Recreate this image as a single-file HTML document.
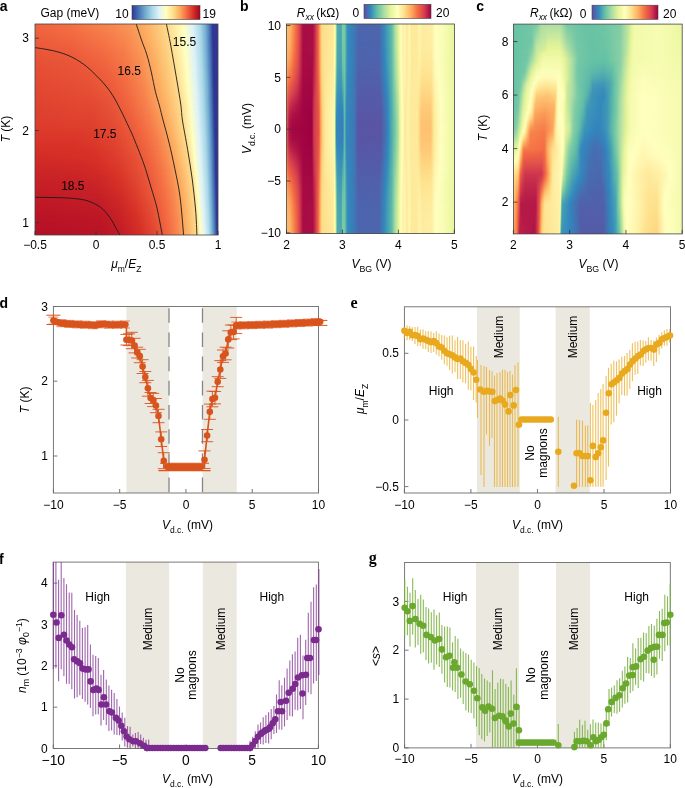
<!DOCTYPE html>
<html><head><meta charset="utf-8"><style>
html,body{margin:0;padding:0;background:#fff;}
body{width:685px;height:788px;overflow:hidden;font-family:"Liberation Sans",sans-serif;}
svg{display:block;will-change:transform;}
</style></head><body>
<svg width="685" height="788" viewBox="0 0 685 788" font-family="Liberation Sans, sans-serif"><defs><linearGradient id="vg" x1="0" y1="0" x2="0" y2="1"><stop offset="0" stop-color="#fff" stop-opacity="0"/><stop offset="1" stop-color="#fff" stop-opacity="1"/></linearGradient><mask id="mv" maskContentUnits="objectBoundingBox" mask-type="alpha"><rect width="1" height="1" fill="url(#vg)"/></mask>
<linearGradient id="a0"><stop offset="0" stop-color="#f0643f"/><stop offset="0.183" stop-color="#f47044"/><stop offset="0.437" stop-color="#f88a51"/><stop offset="0.511" stop-color="#fa9556"/><stop offset="0.566" stop-color="#fca45c"/><stop offset="0.612" stop-color="#fdb467"/><stop offset="0.716" stop-color="#feda8a"/><stop offset="0.809" stop-color="#ffffbf"/><stop offset="0.858" stop-color="#e0f3f8"/><stop offset="0.902" stop-color="#abd9e9"/><stop offset="0.932" stop-color="#74add1"/><stop offset="0.954" stop-color="#4575b4"/><stop offset="0.97" stop-color="#313695"/><stop offset="1" stop-color="#313695"/></linearGradient>
<linearGradient id="a1"><stop offset="0" stop-color="#ee613e"/><stop offset="0.199" stop-color="#f46d43"/><stop offset="0.432" stop-color="#f7854e"/><stop offset="0.511" stop-color="#f99154"/><stop offset="0.574" stop-color="#fba35c"/><stop offset="0.62" stop-color="#fdb366"/><stop offset="0.724" stop-color="#feda8b"/><stop offset="0.811" stop-color="#ffffbf"/><stop offset="0.861" stop-color="#dff3f8"/><stop offset="0.902" stop-color="#addaea"/><stop offset="0.932" stop-color="#76afd2"/><stop offset="0.954" stop-color="#4777b5"/><stop offset="0.97" stop-color="#323996"/><stop offset="1" stop-color="#313695"/></linearGradient>
<linearGradient id="a2"><stop offset="0" stop-color="#ed5e3c"/><stop offset="0.197" stop-color="#f26841"/><stop offset="0.413" stop-color="#f67d4b"/><stop offset="0.5" stop-color="#f88b51"/><stop offset="0.574" stop-color="#fb9f5a"/><stop offset="0.62" stop-color="#fdb063"/><stop offset="0.73" stop-color="#feda8a"/><stop offset="0.814" stop-color="#ffffbf"/><stop offset="0.863" stop-color="#def2f7"/><stop offset="0.904" stop-color="#abd9e9"/><stop offset="0.932" stop-color="#78b0d3"/><stop offset="0.954" stop-color="#4979b6"/><stop offset="0.97" stop-color="#333b98"/><stop offset="0.973" stop-color="#313695"/><stop offset="1" stop-color="#313695"/></linearGradient>
<linearGradient id="a3"><stop offset="0" stop-color="#ec5b3b"/><stop offset="0.189" stop-color="#ef633e"/><stop offset="0.383" stop-color="#f57547"/><stop offset="0.492" stop-color="#f7854e"/><stop offset="0.577" stop-color="#fb9c59"/><stop offset="0.623" stop-color="#fdae61"/><stop offset="0.738" stop-color="#feda8b"/><stop offset="0.817" stop-color="#ffffbf"/><stop offset="0.863" stop-color="#e0f3f7"/><stop offset="0.866" stop-color="#ddf2f7"/><stop offset="0.907" stop-color="#a9d7e8"/><stop offset="0.934" stop-color="#75aed1"/><stop offset="0.956" stop-color="#4574b4"/><stop offset="0.973" stop-color="#313695"/><stop offset="1" stop-color="#313695"/></linearGradient>
<linearGradient id="a4"><stop offset="0" stop-color="#ea583a"/><stop offset="0.183" stop-color="#ed5e3c"/><stop offset="0.361" stop-color="#f46d43"/><stop offset="0.486" stop-color="#f77f4c"/><stop offset="0.582" stop-color="#fa9a58"/><stop offset="0.634" stop-color="#fdae61"/><stop offset="0.743" stop-color="#feda8a"/><stop offset="0.82" stop-color="#ffffbf"/><stop offset="0.866" stop-color="#e0f3f8"/><stop offset="0.907" stop-color="#acd9e9"/><stop offset="0.934" stop-color="#77afd2"/><stop offset="0.956" stop-color="#4777b5"/><stop offset="0.973" stop-color="#313695"/><stop offset="1" stop-color="#313695"/></linearGradient>
<linearGradient id="a5"><stop offset="0" stop-color="#e95538"/><stop offset="0.197" stop-color="#eb5b3b"/><stop offset="0.374" stop-color="#f36a42"/><stop offset="0.492" stop-color="#f67c4a"/><stop offset="0.587" stop-color="#fa9756"/><stop offset="0.642" stop-color="#fdae61"/><stop offset="0.749" stop-color="#feda8a"/><stop offset="0.822" stop-color="#ffffbf"/><stop offset="0.869" stop-color="#dff2f8"/><stop offset="0.91" stop-color="#a9d8e8"/><stop offset="0.937" stop-color="#74add1"/><stop offset="0.956" stop-color="#4879b6"/><stop offset="0.973" stop-color="#323997"/><stop offset="0.975" stop-color="#313695"/><stop offset="1" stop-color="#313695"/></linearGradient>
<linearGradient id="a6"><stop offset="0" stop-color="#e75237"/><stop offset="0.197" stop-color="#e95739"/><stop offset="0.363" stop-color="#f0653f"/><stop offset="0.484" stop-color="#f57747"/><stop offset="0.585" stop-color="#f99254"/><stop offset="0.65" stop-color="#fdae61"/><stop offset="0.754" stop-color="#feda8a"/><stop offset="0.825" stop-color="#ffffbf"/><stop offset="0.872" stop-color="#def2f7"/><stop offset="0.91" stop-color="#acd9e9"/><stop offset="0.937" stop-color="#76afd2"/><stop offset="0.959" stop-color="#4574b3"/><stop offset="0.973" stop-color="#333c98"/><stop offset="0.975" stop-color="#313695"/><stop offset="1" stop-color="#313695"/></linearGradient>
<linearGradient id="a7"><stop offset="0" stop-color="#e65036"/><stop offset="0.202" stop-color="#e85438"/><stop offset="0.361" stop-color="#ee613d"/><stop offset="0.481" stop-color="#f57245"/><stop offset="0.585" stop-color="#f98f53"/><stop offset="0.658" stop-color="#fdae61"/><stop offset="0.76" stop-color="#feda8a"/><stop offset="0.828" stop-color="#ffffbf"/><stop offset="0.872" stop-color="#e0f3f7"/><stop offset="0.874" stop-color="#ddf2f7"/><stop offset="0.913" stop-color="#aad8e8"/><stop offset="0.937" stop-color="#78b0d3"/><stop offset="0.959" stop-color="#4676b5"/><stop offset="0.975" stop-color="#313695"/><stop offset="1" stop-color="#313695"/></linearGradient>
<linearGradient id="a8"><stop offset="0" stop-color="#e54d34"/><stop offset="0.27" stop-color="#e95538"/><stop offset="0.396" stop-color="#ee613e"/><stop offset="0.486" stop-color="#f47044"/><stop offset="0.579" stop-color="#f88950"/><stop offset="0.667" stop-color="#fdaf62"/><stop offset="0.768" stop-color="#fedb8b"/><stop offset="0.831" stop-color="#ffffbf"/><stop offset="0.874" stop-color="#e0f3f8"/><stop offset="0.913" stop-color="#acdae9"/><stop offset="0.94" stop-color="#75aed1"/><stop offset="0.959" stop-color="#4879b6"/><stop offset="0.975" stop-color="#313795"/><stop offset="1" stop-color="#313695"/></linearGradient>
<linearGradient id="a9"><stop offset="0" stop-color="#e44b33"/><stop offset="0.279" stop-color="#e85337"/><stop offset="0.402" stop-color="#ed5f3c"/><stop offset="0.492" stop-color="#f46d43"/><stop offset="0.585" stop-color="#f8884f"/><stop offset="0.672" stop-color="#fdae61"/><stop offset="0.773" stop-color="#fedb8b"/><stop offset="0.833" stop-color="#ffffbf"/><stop offset="0.877" stop-color="#dff2f8"/><stop offset="0.915" stop-color="#aad8e9"/><stop offset="0.943" stop-color="#71aacf"/><stop offset="0.962" stop-color="#4473b3"/><stop offset="0.975" stop-color="#323997"/><stop offset="0.978" stop-color="#313695"/><stop offset="1" stop-color="#313695"/></linearGradient>
<linearGradient id="a10"><stop offset="0" stop-color="#e34932"/><stop offset="0.292" stop-color="#e75136"/><stop offset="0.407" stop-color="#ec5c3b"/><stop offset="0.5" stop-color="#f36c43"/><stop offset="0.593" stop-color="#f8884f"/><stop offset="0.68" stop-color="#fdaf62"/><stop offset="0.779" stop-color="#fedb8b"/><stop offset="0.836" stop-color="#ffffbe"/><stop offset="0.877" stop-color="#e1f3f7"/><stop offset="0.88" stop-color="#def2f7"/><stop offset="0.918" stop-color="#a8d6e8"/><stop offset="0.943" stop-color="#74add1"/><stop offset="0.962" stop-color="#4676b5"/><stop offset="0.964" stop-color="#426baf"/><stop offset="0.975" stop-color="#333c98"/><stop offset="0.978" stop-color="#313695"/><stop offset="1" stop-color="#313695"/></linearGradient>
<linearGradient id="a11"><stop offset="0" stop-color="#e24731"/><stop offset="0.298" stop-color="#e64f35"/><stop offset="0.413" stop-color="#eb5a3a"/><stop offset="0.5" stop-color="#f26941"/><stop offset="0.593" stop-color="#f7844e"/><stop offset="0.686" stop-color="#fdae61"/><stop offset="0.784" stop-color="#fedb8b"/><stop offset="0.839" stop-color="#ffffbe"/><stop offset="0.88" stop-color="#e0f3f7"/><stop offset="0.883" stop-color="#ddf1f7"/><stop offset="0.918" stop-color="#abd9e9"/><stop offset="0.943" stop-color="#76afd2"/><stop offset="0.962" stop-color="#4878b6"/><stop offset="0.978" stop-color="#313695"/><stop offset="1" stop-color="#313695"/></linearGradient>
<linearGradient id="a12"><stop offset="0" stop-color="#e14531"/><stop offset="0.306" stop-color="#e54d34"/><stop offset="0.415" stop-color="#ea5739"/><stop offset="0.503" stop-color="#f16640"/><stop offset="0.598" stop-color="#f7834d"/><stop offset="0.694" stop-color="#fdae61"/><stop offset="0.79" stop-color="#fedb8b"/><stop offset="0.842" stop-color="#fffebe"/><stop offset="0.883" stop-color="#e0f3f8"/><stop offset="0.918" stop-color="#addaea"/><stop offset="0.943" stop-color="#79b1d3"/><stop offset="0.964" stop-color="#4472b3"/><stop offset="0.978" stop-color="#313795"/><stop offset="1" stop-color="#313695"/></linearGradient>
<linearGradient id="a13"><stop offset="0" stop-color="#e04330"/><stop offset="0.311" stop-color="#e44a33"/><stop offset="0.415" stop-color="#e85438"/><stop offset="0.508" stop-color="#f0653f"/><stop offset="0.607" stop-color="#f7824d"/><stop offset="0.702" stop-color="#fdae61"/><stop offset="0.795" stop-color="#fedb8c"/><stop offset="0.847" stop-color="#fefec2"/><stop offset="0.885" stop-color="#def2f8"/><stop offset="0.921" stop-color="#abd9e9"/><stop offset="0.945" stop-color="#75aed1"/><stop offset="0.964" stop-color="#4576b4"/><stop offset="0.978" stop-color="#323a97"/><stop offset="0.981" stop-color="#313695"/><stop offset="1" stop-color="#313695"/></linearGradient>
<linearGradient id="a14"><stop offset="0" stop-color="#df412f"/><stop offset="0.314" stop-color="#e24832"/><stop offset="0.418" stop-color="#e75237"/><stop offset="0.514" stop-color="#ef633e"/><stop offset="0.617" stop-color="#f7824d"/><stop offset="0.71" stop-color="#fdaf62"/><stop offset="0.798" stop-color="#feda8a"/><stop offset="0.85" stop-color="#fefec2"/><stop offset="0.885" stop-color="#e1f3f7"/><stop offset="0.888" stop-color="#ddf2f7"/><stop offset="0.923" stop-color="#a8d7e8"/><stop offset="0.948" stop-color="#71a9cf"/><stop offset="0.967" stop-color="#436db0"/><stop offset="0.978" stop-color="#333d98"/><stop offset="0.981" stop-color="#313695"/><stop offset="1" stop-color="#313695"/></linearGradient>
<linearGradient id="a15"><stop offset="0" stop-color="#de402e"/><stop offset="0.317" stop-color="#e14531"/><stop offset="0.423" stop-color="#e65036"/><stop offset="0.522" stop-color="#ee613e"/><stop offset="0.626" stop-color="#f7814c"/><stop offset="0.716" stop-color="#fdae61"/><stop offset="0.801" stop-color="#feda8a"/><stop offset="0.852" stop-color="#fefec2"/><stop offset="0.888" stop-color="#e0f3f8"/><stop offset="0.891" stop-color="#dcf1f7"/><stop offset="0.923" stop-color="#abd9e9"/><stop offset="0.948" stop-color="#74add1"/><stop offset="0.967" stop-color="#4471b2"/><stop offset="0.981" stop-color="#313695"/><stop offset="1" stop-color="#313695"/></linearGradient>
<linearGradient id="a16"><stop offset="0" stop-color="#de3e2d"/><stop offset="0.32" stop-color="#e04330"/><stop offset="0.429" stop-color="#e54e35"/><stop offset="0.53" stop-color="#ee603d"/><stop offset="0.582" stop-color="#f46d43"/><stop offset="0.634" stop-color="#f7804c"/><stop offset="0.68" stop-color="#fa9556"/><stop offset="0.724" stop-color="#fdae61"/><stop offset="0.806" stop-color="#fedb8b"/><stop offset="0.855" stop-color="#fefec2"/><stop offset="0.891" stop-color="#dff3f8"/><stop offset="0.926" stop-color="#a9d7e8"/><stop offset="0.951" stop-color="#70a8ce"/><stop offset="0.967" stop-color="#4575b4"/><stop offset="0.981" stop-color="#313796"/><stop offset="1" stop-color="#313695"/></linearGradient>
<linearGradient id="a17"><stop offset="0" stop-color="#dd3c2c"/><stop offset="0.32" stop-color="#df402e"/><stop offset="0.432" stop-color="#e44b34"/><stop offset="0.536" stop-color="#ed5e3c"/><stop offset="0.593" stop-color="#f46d43"/><stop offset="0.642" stop-color="#f67f4b"/><stop offset="0.689" stop-color="#f99555"/><stop offset="0.732" stop-color="#fdaf61"/><stop offset="0.811" stop-color="#fedb8b"/><stop offset="0.858" stop-color="#fefec2"/><stop offset="0.893" stop-color="#def2f7"/><stop offset="0.929" stop-color="#a6d5e7"/><stop offset="0.951" stop-color="#72abd0"/><stop offset="0.967" stop-color="#4778b5"/><stop offset="0.981" stop-color="#323a97"/><stop offset="0.984" stop-color="#313695"/><stop offset="1" stop-color="#313695"/></linearGradient>
<linearGradient id="a18"><stop offset="0" stop-color="#db392b"/><stop offset="0.213" stop-color="#db392b"/><stop offset="0.325" stop-color="#dd3d2d"/><stop offset="0.44" stop-color="#e34933"/><stop offset="0.546" stop-color="#ec5d3c"/><stop offset="0.607" stop-color="#f46d43"/><stop offset="0.65" stop-color="#f67d4a"/><stop offset="0.697" stop-color="#f99355"/><stop offset="0.74" stop-color="#fdae61"/><stop offset="0.817" stop-color="#feda8a"/><stop offset="0.861" stop-color="#feffc1"/><stop offset="0.893" stop-color="#e1f3f6"/><stop offset="0.896" stop-color="#def2f7"/><stop offset="0.929" stop-color="#aad8e8"/><stop offset="0.954" stop-color="#6ea6ce"/><stop offset="0.97" stop-color="#4471b2"/><stop offset="0.981" stop-color="#343e99"/><stop offset="0.984" stop-color="#313695"/><stop offset="1" stop-color="#313695"/></linearGradient>
<linearGradient id="a19"><stop offset="0" stop-color="#da362a"/><stop offset="0.216" stop-color="#da362a"/><stop offset="0.328" stop-color="#dc3a2c"/><stop offset="0.443" stop-color="#e24631"/><stop offset="0.552" stop-color="#eb5b3b"/><stop offset="0.615" stop-color="#f36c42"/><stop offset="0.658" stop-color="#f67c4a"/><stop offset="0.705" stop-color="#f99254"/><stop offset="0.749" stop-color="#fdae61"/><stop offset="0.822" stop-color="#feda8a"/><stop offset="0.863" stop-color="#feffc1"/><stop offset="0.896" stop-color="#e0f3f7"/><stop offset="0.899" stop-color="#dcf1f7"/><stop offset="0.932" stop-color="#a7d6e7"/><stop offset="0.954" stop-color="#71aacf"/><stop offset="0.97" stop-color="#4575b4"/><stop offset="0.984" stop-color="#313695"/><stop offset="1" stop-color="#313695"/></linearGradient>
<linearGradient id="a20"><stop offset="0" stop-color="#d83228"/><stop offset="0.221" stop-color="#d83328"/><stop offset="0.333" stop-color="#db382a"/><stop offset="0.448" stop-color="#e14430"/><stop offset="0.56" stop-color="#eb5a3a"/><stop offset="0.623" stop-color="#f36b42"/><stop offset="0.667" stop-color="#f67b4a"/><stop offset="0.713" stop-color="#f99254"/><stop offset="0.757" stop-color="#fdae61"/><stop offset="0.828" stop-color="#fed98a"/><stop offset="0.866" stop-color="#feffc1"/><stop offset="0.899" stop-color="#e0f3f8"/><stop offset="0.932" stop-color="#aad8e9"/><stop offset="0.954" stop-color="#74add1"/><stop offset="0.97" stop-color="#4778b5"/><stop offset="0.984" stop-color="#323896"/><stop offset="1" stop-color="#313695"/></linearGradient>
<linearGradient id="a21"><stop offset="0" stop-color="#d62f27"/><stop offset="0.23" stop-color="#d73027"/><stop offset="0.333" stop-color="#d93429"/><stop offset="0.451" stop-color="#df412f"/><stop offset="0.563" stop-color="#ea5739"/><stop offset="0.628" stop-color="#f26941"/><stop offset="0.672" stop-color="#f67a49"/><stop offset="0.719" stop-color="#f99153"/><stop offset="0.762" stop-color="#fdad61"/><stop offset="0.833" stop-color="#fed98a"/><stop offset="0.869" stop-color="#feffc1"/><stop offset="0.902" stop-color="#def2f8"/><stop offset="0.934" stop-color="#a7d6e7"/><stop offset="0.956" stop-color="#70a8ce"/><stop offset="0.973" stop-color="#4370b2"/><stop offset="0.984" stop-color="#333b98"/><stop offset="0.986" stop-color="#313695"/><stop offset="1" stop-color="#313695"/></linearGradient>
<linearGradient id="a22"><stop offset="0" stop-color="#d32c27"/><stop offset="0.333" stop-color="#d73127"/><stop offset="0.451" stop-color="#de3e2d"/><stop offset="0.563" stop-color="#e85438"/><stop offset="0.631" stop-color="#f16740"/><stop offset="0.678" stop-color="#f67848"/><stop offset="0.724" stop-color="#f98f53"/><stop offset="0.77" stop-color="#fdae61"/><stop offset="0.839" stop-color="#fed98a"/><stop offset="0.872" stop-color="#feffc1"/><stop offset="0.902" stop-color="#e1f3f6"/><stop offset="0.904" stop-color="#ddf2f7"/><stop offset="0.934" stop-color="#abd9e9"/><stop offset="0.956" stop-color="#73abd0"/><stop offset="0.973" stop-color="#4574b4"/><stop offset="0.984" stop-color="#343f99"/><stop offset="0.986" stop-color="#313695"/><stop offset="1" stop-color="#313695"/></linearGradient>
<linearGradient id="a23"><stop offset="0" stop-color="#d02927"/><stop offset="0.235" stop-color="#d12a27"/><stop offset="0.361" stop-color="#d73027"/><stop offset="0.462" stop-color="#dd3d2d"/><stop offset="0.563" stop-color="#e75136"/><stop offset="0.634" stop-color="#f0643f"/><stop offset="0.683" stop-color="#f57747"/><stop offset="0.732" stop-color="#f99053"/><stop offset="0.776" stop-color="#fdad61"/><stop offset="0.844" stop-color="#feda8a"/><stop offset="0.874" stop-color="#feffc0"/><stop offset="0.904" stop-color="#e0f3f7"/><stop offset="0.907" stop-color="#dcf1f7"/><stop offset="0.937" stop-color="#a8d6e7"/><stop offset="0.959" stop-color="#6ea6cd"/><stop offset="0.973" stop-color="#4777b5"/><stop offset="0.986" stop-color="#313695"/><stop offset="1" stop-color="#313695"/></linearGradient>
<linearGradient id="a24"><stop offset="0" stop-color="#cd2627"/><stop offset="0.235" stop-color="#ce2827"/><stop offset="0.361" stop-color="#d42d27"/><stop offset="0.459" stop-color="#db392b"/><stop offset="0.566" stop-color="#e64f35"/><stop offset="0.637" stop-color="#ef623e"/><stop offset="0.689" stop-color="#f57547"/><stop offset="0.738" stop-color="#f98e52"/><stop offset="0.784" stop-color="#fdae61"/><stop offset="0.85" stop-color="#feda8a"/><stop offset="0.877" stop-color="#feffc0"/><stop offset="0.907" stop-color="#dff3f8"/><stop offset="0.937" stop-color="#abd9e9"/><stop offset="0.959" stop-color="#71a9cf"/><stop offset="0.975" stop-color="#436fb1"/><stop offset="0.986" stop-color="#323996"/><stop offset="1" stop-color="#313695"/></linearGradient>
<linearGradient id="a25"><stop offset="0" stop-color="#ca2427"/><stop offset="0.232" stop-color="#cb2527"/><stop offset="0.355" stop-color="#d02a27"/><stop offset="0.448" stop-color="#d93328"/><stop offset="0.56" stop-color="#e34a33"/><stop offset="0.642" stop-color="#ee613e"/><stop offset="0.694" stop-color="#f57446"/><stop offset="0.743" stop-color="#f88d52"/><stop offset="0.79" stop-color="#fdae61"/><stop offset="0.855" stop-color="#feda8a"/><stop offset="0.88" stop-color="#feffc0"/><stop offset="0.91" stop-color="#def2f7"/><stop offset="0.94" stop-color="#a8d7e8"/><stop offset="0.959" stop-color="#74add1"/><stop offset="0.975" stop-color="#4473b3"/><stop offset="0.986" stop-color="#333c98"/><stop offset="0.989" stop-color="#313695"/><stop offset="1" stop-color="#313695"/></linearGradient>
<linearGradient id="a26"><stop offset="0" stop-color="#c72127"/><stop offset="0.232" stop-color="#c82227"/><stop offset="0.352" stop-color="#cd2727"/><stop offset="0.451" stop-color="#d73027"/><stop offset="0.555" stop-color="#e14631"/><stop offset="0.642" stop-color="#ed5e3c"/><stop offset="0.697" stop-color="#f57245"/><stop offset="0.749" stop-color="#f88d52"/><stop offset="0.795" stop-color="#fdae61"/><stop offset="0.861" stop-color="#fedb8c"/><stop offset="0.883" stop-color="#feffc0"/><stop offset="0.91" stop-color="#e1f3f6"/><stop offset="0.913" stop-color="#ddf1f7"/><stop offset="0.94" stop-color="#acd9e9"/><stop offset="0.943" stop-color="#a4d4e6"/><stop offset="0.962" stop-color="#6fa7ce"/><stop offset="0.975" stop-color="#4777b5"/><stop offset="0.986" stop-color="#34409a"/><stop offset="0.989" stop-color="#313695"/><stop offset="1" stop-color="#313695"/></linearGradient>
<linearGradient id="a27"><stop offset="0" stop-color="#c51f27"/><stop offset="0.235" stop-color="#c61f27"/><stop offset="0.352" stop-color="#ca2427"/><stop offset="0.47" stop-color="#d73027"/><stop offset="0.552" stop-color="#df422f"/><stop offset="0.642" stop-color="#ec5b3b"/><stop offset="0.702" stop-color="#f57145"/><stop offset="0.754" stop-color="#f88c51"/><stop offset="0.801" stop-color="#fdae61"/><stop offset="0.863" stop-color="#feda8a"/><stop offset="0.885" stop-color="#feffc0"/><stop offset="0.913" stop-color="#e0f3f8"/><stop offset="0.915" stop-color="#dbf1f7"/><stop offset="0.943" stop-color="#a9d7e8"/><stop offset="0.962" stop-color="#72abd0"/><stop offset="0.975" stop-color="#497ab7"/><stop offset="0.989" stop-color="#313695"/><stop offset="1" stop-color="#313695"/></linearGradient>
<linearGradient id="a28"><stop offset="0" stop-color="#c21c27"/><stop offset="0.35" stop-color="#c72127"/><stop offset="0.47" stop-color="#d42d27"/><stop offset="0.549" stop-color="#dd3d2d"/><stop offset="0.705" stop-color="#f46f44"/><stop offset="0.76" stop-color="#f88b51"/><stop offset="0.806" stop-color="#fdae61"/><stop offset="0.866" stop-color="#fed98a"/><stop offset="0.888" stop-color="#feffc0"/><stop offset="0.915" stop-color="#dff3f8"/><stop offset="0.943" stop-color="#acdae9"/><stop offset="0.945" stop-color="#a5d4e6"/><stop offset="0.962" stop-color="#76aed2"/><stop offset="0.964" stop-color="#6da5cd"/><stop offset="0.978" stop-color="#4472b3"/><stop offset="0.989" stop-color="#323996"/><stop offset="1" stop-color="#313695"/></linearGradient>
<linearGradient id="a29"><stop offset="0" stop-color="#c01a27"/><stop offset="0.352" stop-color="#c41e27"/><stop offset="0.464" stop-color="#d02927"/><stop offset="0.549" stop-color="#dc3a2b"/><stop offset="0.634" stop-color="#e75337"/><stop offset="0.71" stop-color="#f46e43"/><stop offset="0.765" stop-color="#f88b51"/><stop offset="0.809" stop-color="#fdac60"/><stop offset="0.872" stop-color="#fedc8c"/><stop offset="0.891" stop-color="#ffffc0"/><stop offset="0.915" stop-color="#e2f4f5"/><stop offset="0.918" stop-color="#def2f7"/><stop offset="0.945" stop-color="#a9d7e8"/><stop offset="0.964" stop-color="#71a9cf"/><stop offset="0.978" stop-color="#4676b5"/><stop offset="0.989" stop-color="#333d98"/><stop offset="0.992" stop-color="#313695"/><stop offset="1" stop-color="#313695"/></linearGradient>
<linearGradient id="a30"><stop offset="0" stop-color="#be1827"/><stop offset="0.355" stop-color="#c21c27"/><stop offset="0.462" stop-color="#cd2627"/><stop offset="0.549" stop-color="#da362a"/><stop offset="0.639" stop-color="#e75136"/><stop offset="0.716" stop-color="#f46e43"/><stop offset="0.765" stop-color="#f88950"/><stop offset="0.811" stop-color="#fdac60"/><stop offset="0.874" stop-color="#feda8b"/><stop offset="0.893" stop-color="#ffffc0"/><stop offset="0.918" stop-color="#e1f3f6"/><stop offset="0.921" stop-color="#dcf1f7"/><stop offset="0.948" stop-color="#a5d4e6"/><stop offset="0.964" stop-color="#74add1"/><stop offset="0.981" stop-color="#426db0"/><stop offset="0.989" stop-color="#34419a"/><stop offset="0.992" stop-color="#313695"/><stop offset="1" stop-color="#313695"/></linearGradient>
<linearGradient id="a31"><stop offset="0" stop-color="#bc1626"/><stop offset="0.361" stop-color="#c01a27"/><stop offset="0.459" stop-color="#c92327"/><stop offset="0.549" stop-color="#d83328"/><stop offset="0.639" stop-color="#e54e35"/><stop offset="0.719" stop-color="#f46c43"/><stop offset="0.77" stop-color="#f88a50"/><stop offset="0.817" stop-color="#fdae61"/><stop offset="0.877" stop-color="#feda8a"/><stop offset="0.896" stop-color="#ffffc0"/><stop offset="0.921" stop-color="#e0f3f8"/><stop offset="0.948" stop-color="#aad8e8"/><stop offset="0.964" stop-color="#77b0d2"/><stop offset="0.981" stop-color="#4471b2"/><stop offset="0.992" stop-color="#313695"/><stop offset="1" stop-color="#313695"/></linearGradient>
<linearGradient id="a32"><stop offset="0" stop-color="#ba1426"/><stop offset="0.355" stop-color="#bd1726"/><stop offset="0.454" stop-color="#c62027"/><stop offset="0.552" stop-color="#d73027"/><stop offset="0.639" stop-color="#e44b33"/><stop offset="0.724" stop-color="#f46d43"/><stop offset="0.773" stop-color="#f88950"/><stop offset="0.82" stop-color="#fdae61"/><stop offset="0.88" stop-color="#fedb8b"/><stop offset="0.899" stop-color="#ffffbf"/><stop offset="0.923" stop-color="#dff2f8"/><stop offset="0.951" stop-color="#a6d5e7"/><stop offset="0.967" stop-color="#72abd0"/><stop offset="0.981" stop-color="#4676b4"/><stop offset="0.992" stop-color="#323a97"/><stop offset="1" stop-color="#313695"/></linearGradient>
<linearGradient id="a33"><stop offset="0" stop-color="#b81326"/><stop offset="0.363" stop-color="#bc1626"/><stop offset="0.47" stop-color="#c62027"/><stop offset="0.566" stop-color="#d73127"/><stop offset="0.648" stop-color="#e44b33"/><stop offset="0.73" stop-color="#f46d43"/><stop offset="0.779" stop-color="#f88a51"/><stop offset="0.822" stop-color="#fdae61"/><stop offset="0.88" stop-color="#fed98a"/><stop offset="0.902" stop-color="#ffffbf"/><stop offset="0.923" stop-color="#e2f4f5"/><stop offset="0.926" stop-color="#ddf2f7"/><stop offset="0.951" stop-color="#aad8e9"/><stop offset="0.967" stop-color="#76aed2"/><stop offset="0.981" stop-color="#4879b6"/><stop offset="0.992" stop-color="#333d99"/><stop offset="0.995" stop-color="#313695"/><stop offset="1" stop-color="#313695"/></linearGradient>
<linearGradient id="a34"><stop offset="0" stop-color="#b71126"/><stop offset="0.369" stop-color="#ba1526"/><stop offset="0.478" stop-color="#c51f27"/><stop offset="0.574" stop-color="#d73027"/><stop offset="0.656" stop-color="#e44b34"/><stop offset="0.735" stop-color="#f46d43"/><stop offset="0.781" stop-color="#f88a50"/><stop offset="0.825" stop-color="#fdae61"/><stop offset="0.883" stop-color="#feda8a"/><stop offset="0.904" stop-color="#ffffbf"/><stop offset="0.926" stop-color="#e1f3f6"/><stop offset="0.929" stop-color="#dcf1f7"/><stop offset="0.951" stop-color="#aedaea"/><stop offset="0.967" stop-color="#79b1d3"/><stop offset="0.984" stop-color="#4370b2"/><stop offset="0.992" stop-color="#35429b"/><stop offset="0.995" stop-color="#313695"/><stop offset="1" stop-color="#313695"/></linearGradient>
<linearGradient id="a35"><stop offset="0" stop-color="#b50f26"/><stop offset="0.38" stop-color="#ba1426"/><stop offset="0.478" stop-color="#c31d27"/><stop offset="0.582" stop-color="#d73027"/><stop offset="0.667" stop-color="#e54d34"/><stop offset="0.732" stop-color="#f36a42"/><stop offset="0.784" stop-color="#f88a50"/><stop offset="0.825" stop-color="#fdac60"/><stop offset="0.885" stop-color="#fedc8c"/><stop offset="0.907" stop-color="#ffffbf"/><stop offset="0.929" stop-color="#e0f3f8"/><stop offset="0.954" stop-color="#abd9e9"/><stop offset="0.97" stop-color="#74add1"/><stop offset="0.984" stop-color="#4575b4"/><stop offset="0.995" stop-color="#313695"/><stop offset="1" stop-color="#313695"/></linearGradient>
<linearGradient id="cba"><stop offset="0.00" stop-color="#313695"/><stop offset="0.10" stop-color="#4575b4"/><stop offset="0.20" stop-color="#74add1"/><stop offset="0.30" stop-color="#abd9e9"/><stop offset="0.40" stop-color="#e0f3f8"/><stop offset="0.50" stop-color="#ffffbf"/><stop offset="0.60" stop-color="#fee090"/><stop offset="0.70" stop-color="#fdae61"/><stop offset="0.80" stop-color="#f46d43"/><stop offset="0.90" stop-color="#d73027"/><stop offset="1.00" stop-color="#a50026"/></linearGradient>
<linearGradient id="b0"><stop offset="0" stop-color="#fdc171"/><stop offset="0.024" stop-color="#fdb264"/><stop offset="0.057" stop-color="#f46c43"/><stop offset="0.068" stop-color="#e75a48"/><stop offset="0.08" stop-color="#d53f4f"/><stop offset="0.098" stop-color="#aa0f45"/><stop offset="0.101" stop-color="#a90d45"/><stop offset="0.158" stop-color="#a90d45"/><stop offset="0.176" stop-color="#d43d4f"/><stop offset="0.19" stop-color="#f26b44"/><stop offset="0.202" stop-color="#fdb566"/><stop offset="0.211" stop-color="#fedd88"/><stop offset="0.28" stop-color="#fee99b"/><stop offset="0.283" stop-color="#fff4ad"/><stop offset="0.286" stop-color="#fdfebc"/><stop offset="0.292" stop-color="#e7f69a"/><stop offset="0.295" stop-color="#bee5a0"/><stop offset="0.298" stop-color="#8bd0a4"/><stop offset="0.301" stop-color="#59b3ab"/><stop offset="0.304" stop-color="#50aaaf"/><stop offset="0.327" stop-color="#4ca5b1"/><stop offset="0.33" stop-color="#5eb9a9"/><stop offset="0.333" stop-color="#7acaa5"/><stop offset="0.336" stop-color="#7ecba5"/><stop offset="0.348" stop-color="#74c7a5"/><stop offset="0.351" stop-color="#65c0a6"/><stop offset="0.36" stop-color="#3a91b9"/><stop offset="0.372" stop-color="#3288bd"/><stop offset="0.408" stop-color="#3f77b5"/><stop offset="0.426" stop-color="#4c66ad"/><stop offset="0.551" stop-color="#4d66ad"/><stop offset="0.577" stop-color="#3584bb"/><stop offset="0.583" stop-color="#348abc"/><stop offset="0.628" stop-color="#60bba8"/><stop offset="0.631" stop-color="#69c3a5"/><stop offset="0.646" stop-color="#a8dca4"/><stop offset="0.667" stop-color="#e3f499"/><stop offset="0.682" stop-color="#feffbd"/><stop offset="0.685" stop-color="#fffbb9"/><stop offset="0.693" stop-color="#feeea2"/><stop offset="0.705" stop-color="#fff8b3"/><stop offset="0.717" stop-color="#fee797"/><stop offset="0.732" stop-color="#fff8b3"/><stop offset="0.744" stop-color="#feea9c"/><stop offset="0.777" stop-color="#fee99b"/><stop offset="0.792" stop-color="#fff5ae"/><stop offset="0.81" stop-color="#feec9f"/><stop offset="0.866" stop-color="#feefa4"/><stop offset="0.887" stop-color="#ffffbf"/><stop offset="0.94" stop-color="#f7fcb3"/><stop offset="1" stop-color="#e9f69c"/></linearGradient>
<linearGradient id="b1"><stop offset="0" stop-color="#fdbf70"/><stop offset="0.024" stop-color="#fdaf62"/><stop offset="0.057" stop-color="#f36b44"/><stop offset="0.068" stop-color="#e75948"/><stop offset="0.08" stop-color="#d53e4f"/><stop offset="0.098" stop-color="#aa0e45"/><stop offset="0.101" stop-color="#a90d45"/><stop offset="0.158" stop-color="#a90e45"/><stop offset="0.176" stop-color="#d43d4f"/><stop offset="0.19" stop-color="#f26a44"/><stop offset="0.202" stop-color="#fdb466"/><stop offset="0.211" stop-color="#fedc88"/><stop offset="0.28" stop-color="#feea9b"/><stop offset="0.283" stop-color="#fff4ad"/><stop offset="0.286" stop-color="#fdfebc"/><stop offset="0.292" stop-color="#e7f599"/><stop offset="0.295" stop-color="#bce4a1"/><stop offset="0.298" stop-color="#89d0a4"/><stop offset="0.301" stop-color="#58b3ab"/><stop offset="0.304" stop-color="#50a9af"/><stop offset="0.327" stop-color="#4ba4b1"/><stop offset="0.33" stop-color="#5db8a9"/><stop offset="0.333" stop-color="#78c9a5"/><stop offset="0.336" stop-color="#7ccba5"/><stop offset="0.348" stop-color="#73c7a5"/><stop offset="0.351" stop-color="#64c0a6"/><stop offset="0.36" stop-color="#3a91b9"/><stop offset="0.372" stop-color="#3288bd"/><stop offset="0.408" stop-color="#3f77b5"/><stop offset="0.426" stop-color="#4c66ad"/><stop offset="0.551" stop-color="#4d65ad"/><stop offset="0.583" stop-color="#3389bc"/><stop offset="0.628" stop-color="#60bba8"/><stop offset="0.631" stop-color="#68c3a5"/><stop offset="0.646" stop-color="#a7dba4"/><stop offset="0.667" stop-color="#e2f399"/><stop offset="0.682" stop-color="#fefebd"/><stop offset="0.685" stop-color="#fffcb9"/><stop offset="0.693" stop-color="#feeea2"/><stop offset="0.705" stop-color="#fff8b3"/><stop offset="0.717" stop-color="#fee797"/><stop offset="0.732" stop-color="#fff8b3"/><stop offset="0.744" stop-color="#feea9c"/><stop offset="0.777" stop-color="#fee99b"/><stop offset="0.792" stop-color="#fff4ad"/><stop offset="0.81" stop-color="#feec9e"/><stop offset="0.866" stop-color="#feefa4"/><stop offset="0.887" stop-color="#ffffbf"/><stop offset="0.938" stop-color="#f8fcb3"/><stop offset="1" stop-color="#e9f69c"/></linearGradient>
<linearGradient id="b2"><stop offset="0" stop-color="#fdbe6e"/><stop offset="0.021" stop-color="#fdb063"/><stop offset="0.054" stop-color="#f46d43"/><stop offset="0.068" stop-color="#e65749"/><stop offset="0.08" stop-color="#d43d4f"/><stop offset="0.098" stop-color="#aa0e45"/><stop offset="0.101" stop-color="#a90d44"/><stop offset="0.158" stop-color="#aa0e45"/><stop offset="0.176" stop-color="#d43d4f"/><stop offset="0.19" stop-color="#f26a44"/><stop offset="0.193" stop-color="#f67a49"/><stop offset="0.202" stop-color="#fdb366"/><stop offset="0.211" stop-color="#fedc87"/><stop offset="0.217" stop-color="#fee08b"/><stop offset="0.28" stop-color="#feea9c"/><stop offset="0.283" stop-color="#fff5ad"/><stop offset="0.286" stop-color="#fdfebc"/><stop offset="0.292" stop-color="#e6f598"/><stop offset="0.298" stop-color="#87cfa5"/><stop offset="0.301" stop-color="#57b2ac"/><stop offset="0.304" stop-color="#4fa8b0"/><stop offset="0.327" stop-color="#4aa3b2"/><stop offset="0.33" stop-color="#5cb7aa"/><stop offset="0.333" stop-color="#76c8a5"/><stop offset="0.336" stop-color="#79caa5"/><stop offset="0.345" stop-color="#76c8a5"/><stop offset="0.348" stop-color="#73c7a5"/><stop offset="0.351" stop-color="#63bfa6"/><stop offset="0.36" stop-color="#3a90ba"/><stop offset="0.372" stop-color="#3288bd"/><stop offset="0.408" stop-color="#3f77b5"/><stop offset="0.426" stop-color="#4d65ad"/><stop offset="0.551" stop-color="#4d65ac"/><stop offset="0.583" stop-color="#3389bd"/><stop offset="0.628" stop-color="#5fbba8"/><stop offset="0.631" stop-color="#68c3a5"/><stop offset="0.646" stop-color="#a6dba4"/><stop offset="0.667" stop-color="#e1f399"/><stop offset="0.67" stop-color="#e9f69d"/><stop offset="0.682" stop-color="#fdfebd"/><stop offset="0.685" stop-color="#fffcba"/><stop offset="0.693" stop-color="#feeea3"/><stop offset="0.705" stop-color="#fff7b2"/><stop offset="0.717" stop-color="#fee898"/><stop offset="0.732" stop-color="#fff7b2"/><stop offset="0.744" stop-color="#feea9c"/><stop offset="0.747" stop-color="#fee99b"/><stop offset="0.777" stop-color="#fee99b"/><stop offset="0.792" stop-color="#fff4ac"/><stop offset="0.81" stop-color="#feeb9d"/><stop offset="0.866" stop-color="#feeea3"/><stop offset="0.884" stop-color="#fffebd"/><stop offset="0.89" stop-color="#ffffbf"/><stop offset="0.94" stop-color="#f7fcb3"/><stop offset="1" stop-color="#e9f69c"/></linearGradient>
<linearGradient id="b3"><stop offset="0" stop-color="#fdba6b"/><stop offset="0.021" stop-color="#fca95f"/><stop offset="0.051" stop-color="#f46e43"/><stop offset="0.068" stop-color="#e45449"/><stop offset="0.077" stop-color="#d7414e"/><stop offset="0.098" stop-color="#a90e45"/><stop offset="0.101" stop-color="#a80c44"/><stop offset="0.158" stop-color="#aa0f45"/><stop offset="0.176" stop-color="#d53e4f"/><stop offset="0.19" stop-color="#f16944"/><stop offset="0.193" stop-color="#f67848"/><stop offset="0.202" stop-color="#fdb264"/><stop offset="0.211" stop-color="#feda86"/><stop offset="0.22" stop-color="#fee18c"/><stop offset="0.28" stop-color="#feea9c"/><stop offset="0.283" stop-color="#fff5ae"/><stop offset="0.286" stop-color="#fcfebb"/><stop offset="0.292" stop-color="#e2f399"/><stop offset="0.295" stop-color="#b3e0a2"/><stop offset="0.298" stop-color="#82cda5"/><stop offset="0.301" stop-color="#56b0ad"/><stop offset="0.304" stop-color="#4ea7b0"/><stop offset="0.327" stop-color="#49a1b2"/><stop offset="0.33" stop-color="#5ab4ab"/><stop offset="0.333" stop-color="#71c6a5"/><stop offset="0.345" stop-color="#75c8a5"/><stop offset="0.348" stop-color="#71c6a5"/><stop offset="0.351" stop-color="#62bea7"/><stop offset="0.36" stop-color="#3990ba"/><stop offset="0.372" stop-color="#3288bd"/><stop offset="0.408" stop-color="#3f77b5"/><stop offset="0.426" stop-color="#4d65ac"/><stop offset="0.551" stop-color="#4e64ac"/><stop offset="0.583" stop-color="#3387bd"/><stop offset="0.586" stop-color="#348abc"/><stop offset="0.628" stop-color="#5fbaa8"/><stop offset="0.631" stop-color="#67c2a5"/><stop offset="0.646" stop-color="#a3daa4"/><stop offset="0.667" stop-color="#dff299"/><stop offset="0.67" stop-color="#e8f69c"/><stop offset="0.682" stop-color="#fdfebc"/><stop offset="0.685" stop-color="#fffcbb"/><stop offset="0.693" stop-color="#feefa3"/><stop offset="0.705" stop-color="#fff7b1"/><stop offset="0.717" stop-color="#fee898"/><stop offset="0.732" stop-color="#fff7b2"/><stop offset="0.744" stop-color="#feea9c"/><stop offset="0.747" stop-color="#fee99b"/><stop offset="0.777" stop-color="#feea9b"/><stop offset="0.792" stop-color="#fff3aa"/><stop offset="0.807" stop-color="#feea9b"/><stop offset="0.86" stop-color="#feec9f"/><stop offset="0.866" stop-color="#feeda1"/><stop offset="0.884" stop-color="#fffdbb"/><stop offset="0.893" stop-color="#ffffbf"/><stop offset="0.94" stop-color="#f7fcb3"/><stop offset="1" stop-color="#e9f69c"/></linearGradient>
<linearGradient id="b4"><stop offset="0" stop-color="#fdb567"/><stop offset="0.021" stop-color="#fb9d59"/><stop offset="0.048" stop-color="#f36b43"/><stop offset="0.068" stop-color="#e1504b"/><stop offset="0.077" stop-color="#d53e4f"/><stop offset="0.098" stop-color="#a90d45"/><stop offset="0.101" stop-color="#a80c44"/><stop offset="0.152" stop-color="#a70b44"/><stop offset="0.158" stop-color="#ab1045"/><stop offset="0.176" stop-color="#d53e4f"/><stop offset="0.19" stop-color="#f06744"/><stop offset="0.193" stop-color="#f57547"/><stop offset="0.202" stop-color="#fdb063"/><stop offset="0.211" stop-color="#fed985"/><stop offset="0.217" stop-color="#fedf8a"/><stop offset="0.235" stop-color="#fee593"/><stop offset="0.28" stop-color="#feeb9e"/><stop offset="0.283" stop-color="#fff6b0"/><stop offset="0.286" stop-color="#fcfeba"/><stop offset="0.289" stop-color="#f1f9a9"/><stop offset="0.292" stop-color="#dcf19a"/><stop offset="0.295" stop-color="#aadda4"/><stop offset="0.298" stop-color="#7bcaa5"/><stop offset="0.301" stop-color="#53adae"/><stop offset="0.304" stop-color="#4ba4b1"/><stop offset="0.327" stop-color="#479fb3"/><stop offset="0.333" stop-color="#6bc4a5"/><stop offset="0.345" stop-color="#73c7a5"/><stop offset="0.348" stop-color="#6fc6a5"/><stop offset="0.351" stop-color="#61bca7"/><stop offset="0.36" stop-color="#398fba"/><stop offset="0.372" stop-color="#3287bd"/><stop offset="0.408" stop-color="#3f77b5"/><stop offset="0.426" stop-color="#4e64ac"/><stop offset="0.551" stop-color="#4f63ac"/><stop offset="0.586" stop-color="#3288bd"/><stop offset="0.628" stop-color="#5eb9a9"/><stop offset="0.631" stop-color="#66c2a5"/><stop offset="0.646" stop-color="#a0d9a4"/><stop offset="0.664" stop-color="#d1ec9c"/><stop offset="0.67" stop-color="#e7f69a"/><stop offset="0.682" stop-color="#fcfebb"/><stop offset="0.685" stop-color="#fffdbc"/><stop offset="0.693" stop-color="#feefa5"/><stop offset="0.705" stop-color="#fff6b0"/><stop offset="0.717" stop-color="#fee899"/><stop offset="0.732" stop-color="#fff6b0"/><stop offset="0.744" stop-color="#feea9c"/><stop offset="0.747" stop-color="#fee99b"/><stop offset="0.777" stop-color="#feea9b"/><stop offset="0.792" stop-color="#fff1a7"/><stop offset="0.807" stop-color="#fee898"/><stop offset="0.86" stop-color="#feea9b"/><stop offset="0.866" stop-color="#feeb9e"/><stop offset="0.884" stop-color="#fffcba"/><stop offset="0.896" stop-color="#ffffbf"/><stop offset="1" stop-color="#e9f69d"/></linearGradient>
<linearGradient id="b5"><stop offset="0" stop-color="#fdae61"/><stop offset="0.015" stop-color="#f99053"/><stop offset="0.021" stop-color="#f88c51"/><stop offset="0.039" stop-color="#f46d43"/><stop offset="0.068" stop-color="#dc494c"/><stop offset="0.074" stop-color="#d63f4f"/><stop offset="0.098" stop-color="#a80c44"/><stop offset="0.152" stop-color="#a60a44"/><stop offset="0.158" stop-color="#ac1145"/><stop offset="0.164" stop-color="#bd2449"/><stop offset="0.176" stop-color="#d63f4f"/><stop offset="0.19" stop-color="#ef6545"/><stop offset="0.193" stop-color="#f47145"/><stop offset="0.202" stop-color="#fdae61"/><stop offset="0.211" stop-color="#fed683"/><stop offset="0.22" stop-color="#fee08b"/><stop offset="0.235" stop-color="#fee594"/><stop offset="0.28" stop-color="#feeca0"/><stop offset="0.283" stop-color="#fff7b2"/><stop offset="0.286" stop-color="#fbfdb8"/><stop offset="0.289" stop-color="#f0f9a8"/><stop offset="0.292" stop-color="#d4ee9c"/><stop offset="0.295" stop-color="#9bd7a4"/><stop offset="0.298" stop-color="#72c7a5"/><stop offset="0.301" stop-color="#4fa9af"/><stop offset="0.304" stop-color="#49a1b3"/><stop offset="0.327" stop-color="#449cb5"/><stop offset="0.333" stop-color="#63bfa6"/><stop offset="0.345" stop-color="#72c7a5"/><stop offset="0.348" stop-color="#6dc5a5"/><stop offset="0.351" stop-color="#5ebaa9"/><stop offset="0.36" stop-color="#388eba"/><stop offset="0.369" stop-color="#3288bd"/><stop offset="0.408" stop-color="#4076b5"/><stop offset="0.426" stop-color="#4f62ab"/><stop offset="0.551" stop-color="#5062ab"/><stop offset="0.589" stop-color="#3289bd"/><stop offset="0.628" stop-color="#5db8a9"/><stop offset="0.634" stop-color="#6fc5a5"/><stop offset="0.646" stop-color="#9bd7a4"/><stop offset="0.664" stop-color="#cdeb9d"/><stop offset="0.67" stop-color="#e5f598"/><stop offset="0.682" stop-color="#fbfeb9"/><stop offset="0.685" stop-color="#fffebe"/><stop offset="0.693" stop-color="#fff1a7"/><stop offset="0.705" stop-color="#fff5ae"/><stop offset="0.717" stop-color="#fee99a"/><stop offset="0.732" stop-color="#fff5af"/><stop offset="0.744" stop-color="#feea9c"/><stop offset="0.747" stop-color="#fee99b"/><stop offset="0.774" stop-color="#feea9b"/><stop offset="0.792" stop-color="#feeea3"/><stop offset="0.807" stop-color="#fee593"/><stop offset="0.86" stop-color="#fee796"/><stop offset="0.866" stop-color="#fee99a"/><stop offset="0.884" stop-color="#fffab7"/><stop offset="0.902" stop-color="#ffffbf"/><stop offset="1" stop-color="#e9f69d"/></linearGradient>
<linearGradient id="b6"><stop offset="0" stop-color="#fca45c"/><stop offset="0.015" stop-color="#f67d4a"/><stop offset="0.027" stop-color="#f46f44"/><stop offset="0.068" stop-color="#d7424e"/><stop offset="0.098" stop-color="#a70b44"/><stop offset="0.152" stop-color="#a50944"/><stop offset="0.158" stop-color="#ae1346"/><stop offset="0.164" stop-color="#c0274a"/><stop offset="0.176" stop-color="#d7404e"/><stop offset="0.193" stop-color="#f36c43"/><stop offset="0.202" stop-color="#fcaa5f"/><stop offset="0.205" stop-color="#fdba6b"/><stop offset="0.211" stop-color="#fed380"/><stop offset="0.214" stop-color="#fed985"/><stop offset="0.235" stop-color="#fee695"/><stop offset="0.28" stop-color="#feeea2"/><stop offset="0.283" stop-color="#fff8b4"/><stop offset="0.286" stop-color="#fafdb7"/><stop offset="0.289" stop-color="#eff9a6"/><stop offset="0.292" stop-color="#caea9e"/><stop offset="0.295" stop-color="#8bd0a4"/><stop offset="0.298" stop-color="#67c2a5"/><stop offset="0.301" stop-color="#4ba4b1"/><stop offset="0.304" stop-color="#459db4"/><stop offset="0.327" stop-color="#4098b6"/><stop offset="0.333" stop-color="#5bb6aa"/><stop offset="0.339" stop-color="#61bda7"/><stop offset="0.345" stop-color="#6fc6a5"/><stop offset="0.348" stop-color="#6ac3a5"/><stop offset="0.354" stop-color="#4da6b1"/><stop offset="0.36" stop-color="#378dbb"/><stop offset="0.369" stop-color="#3288bd"/><stop offset="0.405" stop-color="#3e78b5"/><stop offset="0.426" stop-color="#5160aa"/><stop offset="0.551" stop-color="#5160aa"/><stop offset="0.592" stop-color="#3289bd"/><stop offset="0.628" stop-color="#5bb6aa"/><stop offset="0.634" stop-color="#6cc4a5"/><stop offset="0.649" stop-color="#a0d9a4"/><stop offset="0.664" stop-color="#c8e99e"/><stop offset="0.67" stop-color="#e1f399"/><stop offset="0.685" stop-color="#feffbe"/><stop offset="0.693" stop-color="#fff2a9"/><stop offset="0.705" stop-color="#fff3ac"/><stop offset="0.717" stop-color="#feea9b"/><stop offset="0.732" stop-color="#fff4ad"/><stop offset="0.744" stop-color="#feea9b"/><stop offset="0.792" stop-color="#feec9f"/><stop offset="0.807" stop-color="#fee28e"/><stop offset="0.86" stop-color="#fee391"/><stop offset="0.866" stop-color="#fee696"/><stop offset="0.884" stop-color="#fff9b4"/><stop offset="0.905" stop-color="#ffffbf"/><stop offset="1" stop-color="#e9f69d"/></linearGradient>
<linearGradient id="b7"><stop offset="0" stop-color="#fa9656"/><stop offset="0.012" stop-color="#f46e44"/><stop offset="0.015" stop-color="#f06645"/><stop offset="0.062" stop-color="#d43d4f"/><stop offset="0.098" stop-color="#a60944"/><stop offset="0.152" stop-color="#a40743"/><stop offset="0.158" stop-color="#b01546"/><stop offset="0.167" stop-color="#ca324c"/><stop offset="0.176" stop-color="#d7424e"/><stop offset="0.193" stop-color="#f06744"/><stop offset="0.196" stop-color="#f67948"/><stop offset="0.205" stop-color="#fdb768"/><stop offset="0.211" stop-color="#fecf7d"/><stop offset="0.214" stop-color="#fed682"/><stop offset="0.22" stop-color="#fede89"/><stop offset="0.235" stop-color="#fee797"/><stop offset="0.28" stop-color="#feefa4"/><stop offset="0.283" stop-color="#fffab6"/><stop offset="0.286" stop-color="#f8fcb5"/><stop offset="0.289" stop-color="#eef8a4"/><stop offset="0.292" stop-color="#bee5a0"/><stop offset="0.295" stop-color="#75c8a5"/><stop offset="0.298" stop-color="#5cb6aa"/><stop offset="0.301" stop-color="#469eb4"/><stop offset="0.304" stop-color="#4198b6"/><stop offset="0.327" stop-color="#3c93b9"/><stop offset="0.333" stop-color="#51aaaf"/><stop offset="0.336" stop-color="#52abae"/><stop offset="0.345" stop-color="#6cc4a5"/><stop offset="0.348" stop-color="#66c2a5"/><stop offset="0.357" stop-color="#3d95b8"/><stop offset="0.36" stop-color="#368cbb"/><stop offset="0.366" stop-color="#3288bd"/><stop offset="0.405" stop-color="#3e78b5"/><stop offset="0.423" stop-color="#5061aa"/><stop offset="0.429" stop-color="#535ea9"/><stop offset="0.551" stop-color="#535ea9"/><stop offset="0.562" stop-color="#4d65ac"/><stop offset="0.595" stop-color="#3288bd"/><stop offset="0.628" stop-color="#59b4ab"/><stop offset="0.631" stop-color="#60bba8"/><stop offset="0.634" stop-color="#68c3a5"/><stop offset="0.655" stop-color="#abdda4"/><stop offset="0.664" stop-color="#c2e69f"/><stop offset="0.67" stop-color="#dcf19a"/><stop offset="0.673" stop-color="#e8f69a"/><stop offset="0.685" stop-color="#fdfebc"/><stop offset="0.688" stop-color="#fffdbb"/><stop offset="0.693" stop-color="#fff4ac"/><stop offset="0.705" stop-color="#fff2a9"/><stop offset="0.717" stop-color="#feeb9d"/><stop offset="0.723" stop-color="#fff1a7"/><stop offset="0.732" stop-color="#fff3aa"/><stop offset="0.744" stop-color="#feea9b"/><stop offset="0.777" stop-color="#feeb9d"/><stop offset="0.792" stop-color="#fee898"/><stop offset="0.801" stop-color="#fee08b"/><stop offset="0.807" stop-color="#fedc88"/><stop offset="0.86" stop-color="#fede89"/><stop offset="0.866" stop-color="#fee390"/><stop offset="0.884" stop-color="#fff6b0"/><stop offset="0.911" stop-color="#ffffbe"/><stop offset="1" stop-color="#eaf69e"/></linearGradient>
<linearGradient id="b8"><stop offset="0" stop-color="#f8864f"/><stop offset="0.006" stop-color="#f46f44"/><stop offset="0.015" stop-color="#e2524a"/><stop offset="0.042" stop-color="#d43d4f"/><stop offset="0.068" stop-color="#c1284a"/><stop offset="0.098" stop-color="#a40843"/><stop offset="0.152" stop-color="#a20643"/><stop offset="0.158" stop-color="#b21747"/><stop offset="0.164" stop-color="#c82f4c"/><stop offset="0.167" stop-color="#ce364d"/><stop offset="0.19" stop-color="#e95c47"/><stop offset="0.193" stop-color="#ed6246"/><stop offset="0.196" stop-color="#f57245"/><stop offset="0.205" stop-color="#fdb365"/><stop offset="0.211" stop-color="#fecb79"/><stop offset="0.217" stop-color="#fed985"/><stop offset="0.235" stop-color="#fee999"/><stop offset="0.28" stop-color="#fff1a8"/><stop offset="0.283" stop-color="#fffcba"/><stop offset="0.286" stop-color="#f7fcb2"/><stop offset="0.289" stop-color="#ecf7a1"/><stop offset="0.292" stop-color="#b0dfa3"/><stop offset="0.295" stop-color="#5fbaa8"/><stop offset="0.301" stop-color="#4097b7"/><stop offset="0.304" stop-color="#3c93b8"/><stop offset="0.327" stop-color="#378dbb"/><stop offset="0.333" stop-color="#459db4"/><stop offset="0.336" stop-color="#469eb4"/><stop offset="0.345" stop-color="#69c3a5"/><stop offset="0.348" stop-color="#62bea7"/><stop offset="0.357" stop-color="#3a91b9"/><stop offset="0.363" stop-color="#3288bd"/><stop offset="0.405" stop-color="#3f78b5"/><stop offset="0.426" stop-color="#555ba8"/><stop offset="0.551" stop-color="#555ba8"/><stop offset="0.562" stop-color="#5160aa"/><stop offset="0.598" stop-color="#3387bc"/><stop offset="0.601" stop-color="#348abc"/><stop offset="0.628" stop-color="#57b2ac"/><stop offset="0.634" stop-color="#64c0a6"/><stop offset="0.664" stop-color="#bbe3a1"/><stop offset="0.673" stop-color="#e4f498"/><stop offset="0.682" stop-color="#f7fcb3"/><stop offset="0.688" stop-color="#ffffbe"/><stop offset="0.693" stop-color="#fff5af"/><stop offset="0.708" stop-color="#feec9f"/><stop offset="0.717" stop-color="#feec9f"/><stop offset="0.723" stop-color="#fff2a9"/><stop offset="0.726" stop-color="#fff2aa"/><stop offset="0.744" stop-color="#feea9b"/><stop offset="0.777" stop-color="#feeb9e"/><stop offset="0.792" stop-color="#fee492"/><stop offset="0.801" stop-color="#fed884"/><stop offset="0.807" stop-color="#fed582"/><stop offset="0.86" stop-color="#fed683"/><stop offset="0.866" stop-color="#fede8a"/><stop offset="0.884" stop-color="#fff4ac"/><stop offset="0.914" stop-color="#ffffbf"/><stop offset="1" stop-color="#eaf79e"/></linearGradient>
<linearGradient id="b9"><stop offset="0" stop-color="#f57748"/><stop offset="0.003" stop-color="#f26a44"/><stop offset="0.015" stop-color="#d53f4f"/><stop offset="0.033" stop-color="#c62d4b"/><stop offset="0.098" stop-color="#a30643"/><stop offset="0.152" stop-color="#a10443"/><stop offset="0.164" stop-color="#cc344d"/><stop offset="0.167" stop-color="#d13a4e"/><stop offset="0.193" stop-color="#e95d47"/><stop offset="0.196" stop-color="#f36b43"/><stop offset="0.205" stop-color="#fdb062"/><stop offset="0.211" stop-color="#fdc776"/><stop offset="0.217" stop-color="#fed783"/><stop offset="0.235" stop-color="#feea9b"/><stop offset="0.28" stop-color="#fff3ab"/><stop offset="0.283" stop-color="#fffebd"/><stop offset="0.289" stop-color="#ebf79f"/><stop offset="0.292" stop-color="#a1d9a4"/><stop offset="0.295" stop-color="#4ea7b0"/><stop offset="0.301" stop-color="#3a91b9"/><stop offset="0.324" stop-color="#3288bd"/><stop offset="0.336" stop-color="#3a91b9"/><stop offset="0.345" stop-color="#66c2a5"/><stop offset="0.348" stop-color="#5fbaa8"/><stop offset="0.354" stop-color="#4199b6"/><stop offset="0.357" stop-color="#378dbb"/><stop offset="0.36" stop-color="#3389bd"/><stop offset="0.405" stop-color="#3f78b5"/><stop offset="0.426" stop-color="#5759a7"/><stop offset="0.562" stop-color="#545ca8"/><stop offset="0.601" stop-color="#3386bc"/><stop offset="0.604" stop-color="#358bbc"/><stop offset="0.628" stop-color="#55afad"/><stop offset="0.637" stop-color="#68c3a5"/><stop offset="0.664" stop-color="#b4e1a2"/><stop offset="0.673" stop-color="#dff299"/><stop offset="0.676" stop-color="#e9f69d"/><stop offset="0.682" stop-color="#f6fbb1"/><stop offset="0.688" stop-color="#feffbd"/><stop offset="0.69" stop-color="#fffcba"/><stop offset="0.696" stop-color="#fff4ad"/><stop offset="0.708" stop-color="#feea9c"/><stop offset="0.717" stop-color="#feeda1"/><stop offset="0.723" stop-color="#fff3ab"/><stop offset="0.744" stop-color="#fee99b"/><stop offset="0.771" stop-color="#fee99b"/><stop offset="0.777" stop-color="#feeb9e"/><stop offset="0.792" stop-color="#fee08b"/><stop offset="0.801" stop-color="#fed07d"/><stop offset="0.807" stop-color="#fecd7b"/><stop offset="0.86" stop-color="#fece7c"/><stop offset="0.872" stop-color="#fee390"/><stop offset="0.884" stop-color="#fff1a8"/><stop offset="0.917" stop-color="#ffffbe"/><stop offset="1" stop-color="#eaf79f"/></linearGradient>
<linearGradient id="b10"><stop offset="0" stop-color="#f46c43"/><stop offset="0.012" stop-color="#d33c4f"/><stop offset="0.015" stop-color="#c42b4b"/><stop offset="0.033" stop-color="#b51b47"/><stop offset="0.098" stop-color="#a20543"/><stop offset="0.152" stop-color="#9f0242"/><stop offset="0.164" stop-color="#cf374e"/><stop offset="0.193" stop-color="#e75948"/><stop offset="0.196" stop-color="#f06844"/><stop offset="0.199" stop-color="#f67d4b"/><stop offset="0.205" stop-color="#fdad60"/><stop offset="0.217" stop-color="#fed682"/><stop offset="0.235" stop-color="#feeb9d"/><stop offset="0.28" stop-color="#fff4ad"/><stop offset="0.283" stop-color="#ffffbf"/><stop offset="0.289" stop-color="#e9f69d"/><stop offset="0.292" stop-color="#95d4a4"/><stop offset="0.295" stop-color="#4098b6"/><stop offset="0.301" stop-color="#358cbc"/><stop offset="0.31" stop-color="#3288bd"/><stop offset="0.327" stop-color="#3583bb"/><stop offset="0.336" stop-color="#3387bd"/><stop offset="0.339" stop-color="#4097b7"/><stop offset="0.345" stop-color="#64c0a6"/><stop offset="0.348" stop-color="#5cb7a9"/><stop offset="0.354" stop-color="#3e96b7"/><stop offset="0.357" stop-color="#348bbc"/><stop offset="0.36" stop-color="#3288bd"/><stop offset="0.405" stop-color="#3f77b5"/><stop offset="0.426" stop-color="#5857a6"/><stop offset="0.562" stop-color="#5758a6"/><stop offset="0.604" stop-color="#3288bd"/><stop offset="0.628" stop-color="#54aead"/><stop offset="0.64" stop-color="#6bc4a5"/><stop offset="0.664" stop-color="#afdfa3"/><stop offset="0.673" stop-color="#dbf19a"/><stop offset="0.676" stop-color="#e8f69b"/><stop offset="0.682" stop-color="#f5fbaf"/><stop offset="0.688" stop-color="#fdfebb"/><stop offset="0.69" stop-color="#fffdbc"/><stop offset="0.708" stop-color="#fee999"/><stop offset="0.723" stop-color="#fff4ad"/><stop offset="0.738" stop-color="#feea9c"/><stop offset="0.771" stop-color="#fee99b"/><stop offset="0.777" stop-color="#feec9f"/><stop offset="0.789" stop-color="#fee08b"/><stop offset="0.801" stop-color="#feca78"/><stop offset="0.807" stop-color="#fec877"/><stop offset="0.86" stop-color="#fec877"/><stop offset="0.872" stop-color="#fee18c"/><stop offset="0.881" stop-color="#feeda2"/><stop offset="0.917" stop-color="#ffffbf"/><stop offset="1" stop-color="#ebf79f"/></linearGradient>
<linearGradient id="b11"><stop offset="0" stop-color="#ef6645"/><stop offset="0.009" stop-color="#d6404f"/><stop offset="0.015" stop-color="#b71c48"/><stop offset="0.033" stop-color="#a80d44"/><stop offset="0.152" stop-color="#9e0142"/><stop offset="0.164" stop-color="#d13a4e"/><stop offset="0.193" stop-color="#e55649"/><stop offset="0.196" stop-color="#ef6545"/><stop offset="0.199" stop-color="#f67a49"/><stop offset="0.205" stop-color="#fcaa5f"/><stop offset="0.217" stop-color="#fed481"/><stop offset="0.22" stop-color="#feda86"/><stop offset="0.235" stop-color="#feec9e"/><stop offset="0.28" stop-color="#fff5af"/><stop offset="0.283" stop-color="#feffbe"/><stop offset="0.289" stop-color="#e8f69c"/><stop offset="0.292" stop-color="#8cd1a4"/><stop offset="0.295" stop-color="#368cbb"/><stop offset="0.301" stop-color="#3288bd"/><stop offset="0.336" stop-color="#3980b9"/><stop offset="0.339" stop-color="#3a91b9"/><stop offset="0.345" stop-color="#62bea7"/><stop offset="0.348" stop-color="#5ab5aa"/><stop offset="0.354" stop-color="#3c93b8"/><stop offset="0.357" stop-color="#3288bd"/><stop offset="0.405" stop-color="#3f77b5"/><stop offset="0.426" stop-color="#5955a5"/><stop offset="0.562" stop-color="#5956a5"/><stop offset="0.598" stop-color="#3b7db8"/><stop offset="0.607" stop-color="#348bbc"/><stop offset="0.628" stop-color="#53acae"/><stop offset="0.64" stop-color="#68c3a5"/><stop offset="0.646" stop-color="#75c8a5"/><stop offset="0.664" stop-color="#abdda4"/><stop offset="0.676" stop-color="#e7f599"/><stop offset="0.682" stop-color="#f4fbae"/><stop offset="0.69" stop-color="#fffebe"/><stop offset="0.708" stop-color="#fee797"/><stop offset="0.723" stop-color="#fff5ae"/><stop offset="0.738" stop-color="#feea9b"/><stop offset="0.771" stop-color="#fee99b"/><stop offset="0.777" stop-color="#feec9f"/><stop offset="0.789" stop-color="#fedd89"/><stop offset="0.801" stop-color="#fdc574"/><stop offset="0.804" stop-color="#fdc473"/><stop offset="0.86" stop-color="#fdc473"/><stop offset="0.872" stop-color="#fede8a"/><stop offset="0.881" stop-color="#feec9f"/><stop offset="0.917" stop-color="#fffebe"/><stop offset="1" stop-color="#ebf7a0"/></linearGradient>
<linearGradient id="b12"><stop offset="0" stop-color="#ee6445"/><stop offset="0.009" stop-color="#d33c4e"/><stop offset="0.015" stop-color="#b21747"/><stop offset="0.033" stop-color="#a40843"/><stop offset="0.152" stop-color="#9e0142"/><stop offset="0.164" stop-color="#d23b4e"/><stop offset="0.193" stop-color="#e45549"/><stop offset="0.196" stop-color="#ee6445"/><stop offset="0.199" stop-color="#f67848"/><stop offset="0.205" stop-color="#fca95f"/><stop offset="0.217" stop-color="#fed481"/><stop offset="0.22" stop-color="#feda86"/><stop offset="0.235" stop-color="#feec9f"/><stop offset="0.28" stop-color="#fff6af"/><stop offset="0.283" stop-color="#feffbd"/><stop offset="0.289" stop-color="#e8f69b"/><stop offset="0.292" stop-color="#89d0a4"/><stop offset="0.295" stop-color="#3288bd"/><stop offset="0.336" stop-color="#3b7db8"/><stop offset="0.339" stop-color="#388fba"/><stop offset="0.345" stop-color="#62bda7"/><stop offset="0.348" stop-color="#5ab4ab"/><stop offset="0.354" stop-color="#3b92b9"/><stop offset="0.357" stop-color="#3288bd"/><stop offset="0.405" stop-color="#3f77b5"/><stop offset="0.426" stop-color="#5a55a5"/><stop offset="0.562" stop-color="#5a55a5"/><stop offset="0.598" stop-color="#3b7cb7"/><stop offset="0.607" stop-color="#348abc"/><stop offset="0.64" stop-color="#66c2a5"/><stop offset="0.646" stop-color="#74c7a5"/><stop offset="0.664" stop-color="#a9dca4"/><stop offset="0.676" stop-color="#e6f599"/><stop offset="0.682" stop-color="#f4faad"/><stop offset="0.69" stop-color="#ffffbf"/><stop offset="0.708" stop-color="#fee797"/><stop offset="0.723" stop-color="#fff5ae"/><stop offset="0.738" stop-color="#fee99b"/><stop offset="0.771" stop-color="#fee99b"/><stop offset="0.777" stop-color="#feec9f"/><stop offset="0.786" stop-color="#fee28e"/><stop offset="0.801" stop-color="#fdc373"/><stop offset="0.804" stop-color="#fdc272"/><stop offset="0.86" stop-color="#fdc272"/><stop offset="0.872" stop-color="#fedd89"/><stop offset="0.881" stop-color="#feec9e"/><stop offset="0.92" stop-color="#ffffbe"/><stop offset="1" stop-color="#ebf7a0"/></linearGradient>
<linearGradient id="b13"><stop offset="0" stop-color="#ef6645"/><stop offset="0.009" stop-color="#d63f4f"/><stop offset="0.015" stop-color="#b61c48"/><stop offset="0.033" stop-color="#a80c44"/><stop offset="0.152" stop-color="#9e0142"/><stop offset="0.164" stop-color="#d13a4e"/><stop offset="0.193" stop-color="#e55649"/><stop offset="0.196" stop-color="#ee6545"/><stop offset="0.199" stop-color="#f67a49"/><stop offset="0.205" stop-color="#fcaa5f"/><stop offset="0.217" stop-color="#fed481"/><stop offset="0.22" stop-color="#feda86"/><stop offset="0.235" stop-color="#feec9e"/><stop offset="0.28" stop-color="#fff5af"/><stop offset="0.283" stop-color="#feffbe"/><stop offset="0.289" stop-color="#e8f69c"/><stop offset="0.292" stop-color="#8cd1a4"/><stop offset="0.295" stop-color="#358cbb"/><stop offset="0.301" stop-color="#3288bd"/><stop offset="0.336" stop-color="#397fb9"/><stop offset="0.339" stop-color="#3a91b9"/><stop offset="0.345" stop-color="#62bea7"/><stop offset="0.348" stop-color="#5ab5aa"/><stop offset="0.354" stop-color="#3c93b8"/><stop offset="0.357" stop-color="#3288bd"/><stop offset="0.405" stop-color="#3f77b5"/><stop offset="0.426" stop-color="#5955a5"/><stop offset="0.562" stop-color="#5956a5"/><stop offset="0.598" stop-color="#3b7db8"/><stop offset="0.607" stop-color="#348bbc"/><stop offset="0.628" stop-color="#53acae"/><stop offset="0.64" stop-color="#68c3a5"/><stop offset="0.646" stop-color="#75c8a5"/><stop offset="0.664" stop-color="#abdda4"/><stop offset="0.676" stop-color="#e7f599"/><stop offset="0.682" stop-color="#f4fbae"/><stop offset="0.69" stop-color="#fffebe"/><stop offset="0.708" stop-color="#fee797"/><stop offset="0.723" stop-color="#fff5ae"/><stop offset="0.738" stop-color="#feea9b"/><stop offset="0.771" stop-color="#fee99b"/><stop offset="0.777" stop-color="#feec9f"/><stop offset="0.789" stop-color="#fedd89"/><stop offset="0.801" stop-color="#fdc574"/><stop offset="0.804" stop-color="#fdc473"/><stop offset="0.86" stop-color="#fdc473"/><stop offset="0.872" stop-color="#fede89"/><stop offset="0.881" stop-color="#feec9f"/><stop offset="0.917" stop-color="#fffebe"/><stop offset="1" stop-color="#ebf7a0"/></linearGradient>
<linearGradient id="b14"><stop offset="0" stop-color="#f36b43"/><stop offset="0.009" stop-color="#db474d"/><stop offset="0.015" stop-color="#c2294a"/><stop offset="0.033" stop-color="#b31847"/><stop offset="0.098" stop-color="#a10543"/><stop offset="0.152" stop-color="#9f0242"/><stop offset="0.164" stop-color="#cf384e"/><stop offset="0.193" stop-color="#e75948"/><stop offset="0.196" stop-color="#f06745"/><stop offset="0.199" stop-color="#f67d4a"/><stop offset="0.205" stop-color="#fdac60"/><stop offset="0.217" stop-color="#fed582"/><stop offset="0.235" stop-color="#feeb9d"/><stop offset="0.28" stop-color="#fff4ad"/><stop offset="0.283" stop-color="#ffffbf"/><stop offset="0.289" stop-color="#e9f69d"/><stop offset="0.292" stop-color="#93d4a4"/><stop offset="0.295" stop-color="#3e96b7"/><stop offset="0.301" stop-color="#358bbc"/><stop offset="0.307" stop-color="#3288bd"/><stop offset="0.327" stop-color="#3683bb"/><stop offset="0.336" stop-color="#3486bc"/><stop offset="0.339" stop-color="#3f96b7"/><stop offset="0.345" stop-color="#64bfa6"/><stop offset="0.348" stop-color="#5cb7aa"/><stop offset="0.354" stop-color="#3e95b7"/><stop offset="0.357" stop-color="#348abc"/><stop offset="0.36" stop-color="#3288bd"/><stop offset="0.405" stop-color="#3f77b5"/><stop offset="0.426" stop-color="#5856a6"/><stop offset="0.562" stop-color="#5758a6"/><stop offset="0.604" stop-color="#3288bd"/><stop offset="0.628" stop-color="#54adad"/><stop offset="0.637" stop-color="#64c0a6"/><stop offset="0.646" stop-color="#79c9a5"/><stop offset="0.664" stop-color="#aedea3"/><stop offset="0.673" stop-color="#dbf09a"/><stop offset="0.676" stop-color="#e8f69b"/><stop offset="0.682" stop-color="#f5fbaf"/><stop offset="0.688" stop-color="#fdfebb"/><stop offset="0.69" stop-color="#fffdbc"/><stop offset="0.708" stop-color="#fee899"/><stop offset="0.723" stop-color="#fff4ad"/><stop offset="0.738" stop-color="#feea9c"/><stop offset="0.771" stop-color="#fee99b"/><stop offset="0.777" stop-color="#feec9f"/><stop offset="0.789" stop-color="#fee08b"/><stop offset="0.801" stop-color="#fec977"/><stop offset="0.804" stop-color="#fec776"/><stop offset="0.86" stop-color="#fec776"/><stop offset="0.872" stop-color="#fee08c"/><stop offset="0.881" stop-color="#feeda1"/><stop offset="0.917" stop-color="#ffffbe"/><stop offset="1" stop-color="#ebf79f"/></linearGradient>
<linearGradient id="b15"><stop offset="0" stop-color="#f57748"/><stop offset="0.003" stop-color="#f26a44"/><stop offset="0.015" stop-color="#d53e4f"/><stop offset="0.033" stop-color="#c52c4b"/><stop offset="0.098" stop-color="#a30643"/><stop offset="0.152" stop-color="#a00443"/><stop offset="0.164" stop-color="#cc344d"/><stop offset="0.167" stop-color="#d23a4e"/><stop offset="0.193" stop-color="#e95d47"/><stop offset="0.196" stop-color="#f36b43"/><stop offset="0.205" stop-color="#fdb062"/><stop offset="0.211" stop-color="#fdc676"/><stop offset="0.217" stop-color="#fed783"/><stop offset="0.235" stop-color="#feea9c"/><stop offset="0.28" stop-color="#fff3ab"/><stop offset="0.283" stop-color="#fffebd"/><stop offset="0.289" stop-color="#eaf79f"/><stop offset="0.292" stop-color="#a1d9a4"/><stop offset="0.295" stop-color="#4da6b1"/><stop offset="0.301" stop-color="#3990ba"/><stop offset="0.324" stop-color="#3288bd"/><stop offset="0.336" stop-color="#3a90b9"/><stop offset="0.345" stop-color="#66c2a5"/><stop offset="0.348" stop-color="#5fbaa8"/><stop offset="0.354" stop-color="#4199b6"/><stop offset="0.357" stop-color="#378dbb"/><stop offset="0.36" stop-color="#3389bd"/><stop offset="0.405" stop-color="#3f78b5"/><stop offset="0.426" stop-color="#5759a7"/><stop offset="0.562" stop-color="#545ba8"/><stop offset="0.601" stop-color="#3386bc"/><stop offset="0.604" stop-color="#348bbc"/><stop offset="0.628" stop-color="#55afad"/><stop offset="0.637" stop-color="#67c3a5"/><stop offset="0.664" stop-color="#b4e1a2"/><stop offset="0.673" stop-color="#dff299"/><stop offset="0.676" stop-color="#e9f69d"/><stop offset="0.682" stop-color="#f6fbb1"/><stop offset="0.688" stop-color="#feffbd"/><stop offset="0.69" stop-color="#fffcba"/><stop offset="0.708" stop-color="#feea9c"/><stop offset="0.717" stop-color="#feeda1"/><stop offset="0.723" stop-color="#fff3ab"/><stop offset="0.744" stop-color="#fee99b"/><stop offset="0.771" stop-color="#fee99b"/><stop offset="0.777" stop-color="#feeb9e"/><stop offset="0.792" stop-color="#fee08b"/><stop offset="0.801" stop-color="#fecf7d"/><stop offset="0.807" stop-color="#fecd7b"/><stop offset="0.86" stop-color="#fece7c"/><stop offset="0.872" stop-color="#fee390"/><stop offset="0.884" stop-color="#fff1a8"/><stop offset="0.917" stop-color="#ffffbe"/><stop offset="1" stop-color="#eaf79f"/></linearGradient>
<linearGradient id="b16"><stop offset="0" stop-color="#f7864e"/><stop offset="0.006" stop-color="#f46e43"/><stop offset="0.015" stop-color="#e2514a"/><stop offset="0.042" stop-color="#d43c4f"/><stop offset="0.068" stop-color="#c1284a"/><stop offset="0.098" stop-color="#a40843"/><stop offset="0.152" stop-color="#a20543"/><stop offset="0.158" stop-color="#b21747"/><stop offset="0.164" stop-color="#c8304c"/><stop offset="0.167" stop-color="#ce364d"/><stop offset="0.19" stop-color="#e85c47"/><stop offset="0.193" stop-color="#ed6246"/><stop offset="0.196" stop-color="#f57145"/><stop offset="0.205" stop-color="#fdb365"/><stop offset="0.211" stop-color="#fecb79"/><stop offset="0.217" stop-color="#fed985"/><stop offset="0.235" stop-color="#fee99a"/><stop offset="0.28" stop-color="#fff1a8"/><stop offset="0.283" stop-color="#fffcba"/><stop offset="0.286" stop-color="#f7fcb2"/><stop offset="0.289" stop-color="#ecf7a1"/><stop offset="0.292" stop-color="#afdfa3"/><stop offset="0.295" stop-color="#5ebaa8"/><stop offset="0.301" stop-color="#3f97b7"/><stop offset="0.327" stop-color="#368dbb"/><stop offset="0.333" stop-color="#459db4"/><stop offset="0.336" stop-color="#459eb4"/><stop offset="0.345" stop-color="#69c3a5"/><stop offset="0.348" stop-color="#62bea7"/><stop offset="0.357" stop-color="#3a91b9"/><stop offset="0.363" stop-color="#3288bd"/><stop offset="0.405" stop-color="#3f78b5"/><stop offset="0.426" stop-color="#555ba8"/><stop offset="0.551" stop-color="#555ba8"/><stop offset="0.562" stop-color="#5160aa"/><stop offset="0.601" stop-color="#348abc"/><stop offset="0.628" stop-color="#57b2ac"/><stop offset="0.634" stop-color="#64c0a6"/><stop offset="0.664" stop-color="#bbe3a1"/><stop offset="0.673" stop-color="#e4f498"/><stop offset="0.682" stop-color="#f7fcb3"/><stop offset="0.688" stop-color="#ffffbe"/><stop offset="0.693" stop-color="#fff6af"/><stop offset="0.708" stop-color="#feec9f"/><stop offset="0.717" stop-color="#feec9f"/><stop offset="0.723" stop-color="#fff2a9"/><stop offset="0.726" stop-color="#fff2aa"/><stop offset="0.744" stop-color="#feea9b"/><stop offset="0.777" stop-color="#feeb9e"/><stop offset="0.792" stop-color="#fee491"/><stop offset="0.801" stop-color="#fed784"/><stop offset="0.807" stop-color="#fed481"/><stop offset="0.86" stop-color="#fed682"/><stop offset="0.866" stop-color="#fede89"/><stop offset="0.884" stop-color="#fff4ac"/><stop offset="0.914" stop-color="#ffffbf"/><stop offset="1" stop-color="#eaf79e"/></linearGradient>
<linearGradient id="b17"><stop offset="0" stop-color="#f99355"/><stop offset="0.012" stop-color="#f36b43"/><stop offset="0.015" stop-color="#ee6345"/><stop offset="0.06" stop-color="#d43d4f"/><stop offset="0.098" stop-color="#a50944"/><stop offset="0.152" stop-color="#a30743"/><stop offset="0.158" stop-color="#b01546"/><stop offset="0.164" stop-color="#c42c4b"/><stop offset="0.167" stop-color="#cb324d"/><stop offset="0.173" stop-color="#d53d4f"/><stop offset="0.193" stop-color="#f06645"/><stop offset="0.196" stop-color="#f57848"/><stop offset="0.205" stop-color="#fdb668"/><stop offset="0.211" stop-color="#fecf7c"/><stop offset="0.214" stop-color="#fed582"/><stop offset="0.22" stop-color="#fede89"/><stop offset="0.235" stop-color="#fee898"/><stop offset="0.28" stop-color="#feefa5"/><stop offset="0.283" stop-color="#fffab7"/><stop offset="0.286" stop-color="#f8fcb4"/><stop offset="0.289" stop-color="#edf8a4"/><stop offset="0.292" stop-color="#bce4a1"/><stop offset="0.295" stop-color="#71c6a5"/><stop offset="0.301" stop-color="#459db4"/><stop offset="0.304" stop-color="#4098b7"/><stop offset="0.327" stop-color="#3b92b9"/><stop offset="0.333" stop-color="#4fa8b0"/><stop offset="0.336" stop-color="#50a9af"/><stop offset="0.345" stop-color="#6cc4a5"/><stop offset="0.348" stop-color="#65c1a5"/><stop offset="0.357" stop-color="#3d94b8"/><stop offset="0.36" stop-color="#358cbb"/><stop offset="0.366" stop-color="#3288bd"/><stop offset="0.405" stop-color="#3e78b5"/><stop offset="0.426" stop-color="#535da9"/><stop offset="0.551" stop-color="#535da9"/><stop offset="0.562" stop-color="#4e64ac"/><stop offset="0.595" stop-color="#3387bd"/><stop offset="0.598" stop-color="#348abc"/><stop offset="0.631" stop-color="#60bba8"/><stop offset="0.634" stop-color="#67c3a5"/><stop offset="0.655" stop-color="#a9dca4"/><stop offset="0.664" stop-color="#c1e6a0"/><stop offset="0.673" stop-color="#e7f59a"/><stop offset="0.682" stop-color="#f9fdb5"/><stop offset="0.685" stop-color="#fdfebc"/><stop offset="0.688" stop-color="#fffdbc"/><stop offset="0.693" stop-color="#fff4ac"/><stop offset="0.705" stop-color="#fff1a8"/><stop offset="0.711" stop-color="#feeda0"/><stop offset="0.717" stop-color="#feeb9e"/><stop offset="0.723" stop-color="#fff1a8"/><stop offset="0.732" stop-color="#fff2aa"/><stop offset="0.744" stop-color="#feea9b"/><stop offset="0.777" stop-color="#feeb9d"/><stop offset="0.792" stop-color="#fee797"/><stop offset="0.801" stop-color="#fedf8a"/><stop offset="0.807" stop-color="#fedb87"/><stop offset="0.86" stop-color="#fedd88"/><stop offset="0.866" stop-color="#fee28f"/><stop offset="0.884" stop-color="#fff6b0"/><stop offset="0.911" stop-color="#ffffbf"/><stop offset="1" stop-color="#eaf79e"/></linearGradient>
<linearGradient id="b18"><stop offset="0" stop-color="#fba25b"/><stop offset="0.015" stop-color="#f67a49"/><stop offset="0.027" stop-color="#f36c43"/><stop offset="0.068" stop-color="#d7404e"/><stop offset="0.098" stop-color="#a70b44"/><stop offset="0.152" stop-color="#a50944"/><stop offset="0.158" stop-color="#ae1346"/><stop offset="0.164" stop-color="#c1274a"/><stop offset="0.176" stop-color="#d7404e"/><stop offset="0.193" stop-color="#f36b43"/><stop offset="0.205" stop-color="#fdba6b"/><stop offset="0.211" stop-color="#fed380"/><stop offset="0.214" stop-color="#fed884"/><stop offset="0.235" stop-color="#fee696"/><stop offset="0.28" stop-color="#feeea2"/><stop offset="0.283" stop-color="#fff8b4"/><stop offset="0.286" stop-color="#fafdb7"/><stop offset="0.289" stop-color="#eff9a6"/><stop offset="0.292" stop-color="#c9e99e"/><stop offset="0.295" stop-color="#88cfa5"/><stop offset="0.298" stop-color="#65c1a5"/><stop offset="0.301" stop-color="#4aa3b2"/><stop offset="0.304" stop-color="#459db4"/><stop offset="0.327" stop-color="#4097b7"/><stop offset="0.333" stop-color="#5ab4ab"/><stop offset="0.339" stop-color="#60bba8"/><stop offset="0.345" stop-color="#6fc5a5"/><stop offset="0.348" stop-color="#69c3a5"/><stop offset="0.354" stop-color="#4da6b1"/><stop offset="0.36" stop-color="#378dbb"/><stop offset="0.369" stop-color="#3287bd"/><stop offset="0.405" stop-color="#3e78b5"/><stop offset="0.426" stop-color="#5160aa"/><stop offset="0.551" stop-color="#5160aa"/><stop offset="0.562" stop-color="#4b68ae"/><stop offset="0.592" stop-color="#3288bd"/><stop offset="0.628" stop-color="#5bb6aa"/><stop offset="0.634" stop-color="#6bc4a5"/><stop offset="0.649" stop-color="#9fd8a4"/><stop offset="0.664" stop-color="#c7e89e"/><stop offset="0.67" stop-color="#e1f399"/><stop offset="0.673" stop-color="#e9f69d"/><stop offset="0.685" stop-color="#feffbe"/><stop offset="0.693" stop-color="#fff2a9"/><stop offset="0.705" stop-color="#fff3ab"/><stop offset="0.717" stop-color="#feea9c"/><stop offset="0.723" stop-color="#fff0a6"/><stop offset="0.732" stop-color="#fff4ad"/><stop offset="0.744" stop-color="#feea9b"/><stop offset="0.792" stop-color="#feeb9e"/><stop offset="0.807" stop-color="#fee18d"/><stop offset="0.86" stop-color="#fee390"/><stop offset="0.866" stop-color="#fee695"/><stop offset="0.884" stop-color="#fff8b4"/><stop offset="0.905" stop-color="#ffffbe"/><stop offset="1" stop-color="#e9f69d"/></linearGradient>
<linearGradient id="b19"><stop offset="0" stop-color="#fdae61"/><stop offset="0.015" stop-color="#f98f53"/><stop offset="0.021" stop-color="#f88b51"/><stop offset="0.039" stop-color="#f36c43"/><stop offset="0.068" stop-color="#dc494c"/><stop offset="0.074" stop-color="#d53f4f"/><stop offset="0.098" stop-color="#a80c44"/><stop offset="0.152" stop-color="#a60a44"/><stop offset="0.158" stop-color="#ac1145"/><stop offset="0.164" stop-color="#bd2449"/><stop offset="0.176" stop-color="#d63f4f"/><stop offset="0.19" stop-color="#ef6545"/><stop offset="0.193" stop-color="#f47045"/><stop offset="0.202" stop-color="#fdad61"/><stop offset="0.211" stop-color="#fed683"/><stop offset="0.22" stop-color="#fee08b"/><stop offset="0.235" stop-color="#fee594"/><stop offset="0.28" stop-color="#feeca0"/><stop offset="0.283" stop-color="#fff7b2"/><stop offset="0.286" stop-color="#fbfdb8"/><stop offset="0.289" stop-color="#f0f9a8"/><stop offset="0.292" stop-color="#d3ed9c"/><stop offset="0.295" stop-color="#9bd7a4"/><stop offset="0.298" stop-color="#71c6a5"/><stop offset="0.301" stop-color="#4fa9b0"/><stop offset="0.304" stop-color="#48a1b3"/><stop offset="0.327" stop-color="#439bb5"/><stop offset="0.333" stop-color="#63bea7"/><stop offset="0.345" stop-color="#71c6a5"/><stop offset="0.348" stop-color="#6dc5a5"/><stop offset="0.351" stop-color="#5eb9a9"/><stop offset="0.36" stop-color="#388eba"/><stop offset="0.369" stop-color="#3288bd"/><stop offset="0.408" stop-color="#4076b5"/><stop offset="0.426" stop-color="#4f62ab"/><stop offset="0.551" stop-color="#5061ab"/><stop offset="0.589" stop-color="#3288bd"/><stop offset="0.628" stop-color="#5db8a9"/><stop offset="0.634" stop-color="#6fc5a5"/><stop offset="0.646" stop-color="#9bd7a4"/><stop offset="0.664" stop-color="#cdeb9d"/><stop offset="0.67" stop-color="#e5f598"/><stop offset="0.685" stop-color="#fffebe"/><stop offset="0.693" stop-color="#fff1a7"/><stop offset="0.705" stop-color="#fff5ae"/><stop offset="0.717" stop-color="#fee99a"/><stop offset="0.732" stop-color="#fff5af"/><stop offset="0.744" stop-color="#feea9c"/><stop offset="0.747" stop-color="#fee99b"/><stop offset="0.774" stop-color="#feea9b"/><stop offset="0.792" stop-color="#feeea3"/><stop offset="0.807" stop-color="#fee593"/><stop offset="0.86" stop-color="#fee796"/><stop offset="0.866" stop-color="#fee99a"/><stop offset="0.884" stop-color="#fffab7"/><stop offset="0.902" stop-color="#ffffbf"/><stop offset="1" stop-color="#e9f69d"/></linearGradient>
<linearGradient id="b20"><stop offset="0" stop-color="#fdb567"/><stop offset="0.021" stop-color="#fa9c59"/><stop offset="0.048" stop-color="#f36b44"/><stop offset="0.068" stop-color="#e04f4b"/><stop offset="0.077" stop-color="#d53e4f"/><stop offset="0.098" stop-color="#a90d45"/><stop offset="0.101" stop-color="#a80c44"/><stop offset="0.152" stop-color="#a70b44"/><stop offset="0.158" stop-color="#ab1045"/><stop offset="0.176" stop-color="#d53e4f"/><stop offset="0.19" stop-color="#f06744"/><stop offset="0.193" stop-color="#f57547"/><stop offset="0.202" stop-color="#fdb063"/><stop offset="0.211" stop-color="#fed985"/><stop offset="0.217" stop-color="#fedf8a"/><stop offset="0.235" stop-color="#fee593"/><stop offset="0.28" stop-color="#feeb9e"/><stop offset="0.283" stop-color="#fff6b0"/><stop offset="0.286" stop-color="#fcfeba"/><stop offset="0.289" stop-color="#f1f9a9"/><stop offset="0.292" stop-color="#dcf19a"/><stop offset="0.295" stop-color="#a9dca4"/><stop offset="0.298" stop-color="#7bcaa5"/><stop offset="0.301" stop-color="#53adae"/><stop offset="0.304" stop-color="#4ba4b1"/><stop offset="0.327" stop-color="#479fb4"/><stop offset="0.333" stop-color="#6bc4a5"/><stop offset="0.345" stop-color="#73c7a5"/><stop offset="0.348" stop-color="#6fc6a5"/><stop offset="0.351" stop-color="#61bca7"/><stop offset="0.36" stop-color="#398fba"/><stop offset="0.372" stop-color="#3387bd"/><stop offset="0.408" stop-color="#3f77b5"/><stop offset="0.426" stop-color="#4e63ac"/><stop offset="0.551" stop-color="#4f63ab"/><stop offset="0.586" stop-color="#3288bd"/><stop offset="0.628" stop-color="#5eb9a9"/><stop offset="0.631" stop-color="#66c2a5"/><stop offset="0.646" stop-color="#a0d9a4"/><stop offset="0.664" stop-color="#d1ec9c"/><stop offset="0.67" stop-color="#e7f59a"/><stop offset="0.682" stop-color="#fcfebb"/><stop offset="0.685" stop-color="#fffdbc"/><stop offset="0.693" stop-color="#feefa5"/><stop offset="0.705" stop-color="#fff6b0"/><stop offset="0.717" stop-color="#fee899"/><stop offset="0.732" stop-color="#fff6b0"/><stop offset="0.744" stop-color="#feea9c"/><stop offset="0.747" stop-color="#fee99b"/><stop offset="0.777" stop-color="#feea9b"/><stop offset="0.792" stop-color="#fff1a7"/><stop offset="0.807" stop-color="#fee898"/><stop offset="0.86" stop-color="#feea9b"/><stop offset="0.866" stop-color="#feeb9e"/><stop offset="0.884" stop-color="#fffcba"/><stop offset="0.896" stop-color="#ffffbf"/><stop offset="1" stop-color="#e9f69d"/></linearGradient>
<linearGradient id="b21"><stop offset="0" stop-color="#fdba6b"/><stop offset="0.021" stop-color="#fca75e"/><stop offset="0.051" stop-color="#f46d43"/><stop offset="0.068" stop-color="#e3534a"/><stop offset="0.077" stop-color="#d7414e"/><stop offset="0.098" stop-color="#a90e45"/><stop offset="0.101" stop-color="#a80c44"/><stop offset="0.158" stop-color="#aa0f45"/><stop offset="0.176" stop-color="#d53e4f"/><stop offset="0.19" stop-color="#f16944"/><stop offset="0.193" stop-color="#f57748"/><stop offset="0.202" stop-color="#fdb264"/><stop offset="0.211" stop-color="#feda86"/><stop offset="0.22" stop-color="#fee18c"/><stop offset="0.28" stop-color="#feeb9d"/><stop offset="0.283" stop-color="#fff5af"/><stop offset="0.286" stop-color="#fcfebb"/><stop offset="0.292" stop-color="#e1f399"/><stop offset="0.295" stop-color="#b2e0a3"/><stop offset="0.298" stop-color="#81cda5"/><stop offset="0.301" stop-color="#55afad"/><stop offset="0.304" stop-color="#4da6b0"/><stop offset="0.327" stop-color="#49a1b3"/><stop offset="0.33" stop-color="#59b4ab"/><stop offset="0.333" stop-color="#71c6a5"/><stop offset="0.345" stop-color="#75c8a5"/><stop offset="0.348" stop-color="#71c6a5"/><stop offset="0.351" stop-color="#62bea7"/><stop offset="0.36" stop-color="#3990ba"/><stop offset="0.372" stop-color="#3288bd"/><stop offset="0.408" stop-color="#3f77b5"/><stop offset="0.426" stop-color="#4d65ac"/><stop offset="0.551" stop-color="#4e64ac"/><stop offset="0.583" stop-color="#3387bd"/><stop offset="0.586" stop-color="#348abc"/><stop offset="0.628" stop-color="#5fbaa8"/><stop offset="0.631" stop-color="#67c2a5"/><stop offset="0.646" stop-color="#a3daa4"/><stop offset="0.667" stop-color="#dff299"/><stop offset="0.67" stop-color="#e8f69b"/><stop offset="0.682" stop-color="#fdfebc"/><stop offset="0.685" stop-color="#fffdbb"/><stop offset="0.693" stop-color="#feefa4"/><stop offset="0.705" stop-color="#fff7b1"/><stop offset="0.717" stop-color="#fee898"/><stop offset="0.732" stop-color="#fff7b1"/><stop offset="0.744" stop-color="#feea9c"/><stop offset="0.747" stop-color="#fee99b"/><stop offset="0.777" stop-color="#feea9b"/><stop offset="0.792" stop-color="#fff2aa"/><stop offset="0.807" stop-color="#fee99b"/><stop offset="0.86" stop-color="#feec9e"/><stop offset="0.866" stop-color="#feeda0"/><stop offset="0.884" stop-color="#fffdbb"/><stop offset="0.893" stop-color="#ffffbf"/><stop offset="0.94" stop-color="#f7fcb3"/><stop offset="1" stop-color="#e9f69c"/></linearGradient>
<linearGradient id="b22"><stop offset="0" stop-color="#fdbd6e"/><stop offset="0.021" stop-color="#fdaf62"/><stop offset="0.054" stop-color="#f46d43"/><stop offset="0.068" stop-color="#e55749"/><stop offset="0.08" stop-color="#d33c4f"/><stop offset="0.098" stop-color="#aa0e45"/><stop offset="0.101" stop-color="#a80d44"/><stop offset="0.158" stop-color="#aa0e45"/><stop offset="0.176" stop-color="#d43d4f"/><stop offset="0.19" stop-color="#f26a44"/><stop offset="0.193" stop-color="#f67a49"/><stop offset="0.202" stop-color="#fdb365"/><stop offset="0.211" stop-color="#fedc87"/><stop offset="0.217" stop-color="#fee08b"/><stop offset="0.28" stop-color="#feea9c"/><stop offset="0.283" stop-color="#fff5ae"/><stop offset="0.286" stop-color="#fdfebb"/><stop offset="0.292" stop-color="#e5f598"/><stop offset="0.295" stop-color="#b8e2a1"/><stop offset="0.298" stop-color="#86cfa5"/><stop offset="0.301" stop-color="#57b1ac"/><stop offset="0.304" stop-color="#4fa8b0"/><stop offset="0.327" stop-color="#4aa3b2"/><stop offset="0.33" stop-color="#5bb6aa"/><stop offset="0.333" stop-color="#75c8a5"/><stop offset="0.336" stop-color="#79c9a5"/><stop offset="0.345" stop-color="#76c8a5"/><stop offset="0.348" stop-color="#73c7a5"/><stop offset="0.351" stop-color="#63bfa6"/><stop offset="0.36" stop-color="#3990ba"/><stop offset="0.372" stop-color="#3288bd"/><stop offset="0.408" stop-color="#3f77b5"/><stop offset="0.426" stop-color="#4d65ad"/><stop offset="0.551" stop-color="#4d65ac"/><stop offset="0.583" stop-color="#3288bd"/><stop offset="0.628" stop-color="#5fbba8"/><stop offset="0.631" stop-color="#68c3a5"/><stop offset="0.646" stop-color="#a5dba4"/><stop offset="0.667" stop-color="#e1f399"/><stop offset="0.67" stop-color="#e9f69d"/><stop offset="0.682" stop-color="#fdfebc"/><stop offset="0.685" stop-color="#fffcba"/><stop offset="0.693" stop-color="#feeea3"/><stop offset="0.705" stop-color="#fff7b2"/><stop offset="0.717" stop-color="#fee898"/><stop offset="0.732" stop-color="#fff7b2"/><stop offset="0.744" stop-color="#feea9c"/><stop offset="0.747" stop-color="#fee99b"/><stop offset="0.777" stop-color="#fee99b"/><stop offset="0.792" stop-color="#fff4ac"/><stop offset="0.807" stop-color="#feeb9d"/><stop offset="0.863" stop-color="#feeda2"/><stop offset="0.869" stop-color="#fff0a6"/><stop offset="0.884" stop-color="#fffdbc"/><stop offset="0.89" stop-color="#ffffbf"/><stop offset="0.94" stop-color="#f7fcb3"/><stop offset="1" stop-color="#e9f69c"/></linearGradient>
<linearGradient id="b23"><stop offset="0" stop-color="#fdbf70"/><stop offset="0.024" stop-color="#fdaf62"/><stop offset="0.057" stop-color="#f36b44"/><stop offset="0.068" stop-color="#e75948"/><stop offset="0.08" stop-color="#d53e4f"/><stop offset="0.098" stop-color="#aa0e45"/><stop offset="0.101" stop-color="#a90d45"/><stop offset="0.158" stop-color="#a90e45"/><stop offset="0.176" stop-color="#d43d4f"/><stop offset="0.19" stop-color="#f26a44"/><stop offset="0.202" stop-color="#fdb466"/><stop offset="0.211" stop-color="#fedc88"/><stop offset="0.28" stop-color="#feea9b"/><stop offset="0.283" stop-color="#fff4ad"/><stop offset="0.286" stop-color="#fdfebc"/><stop offset="0.292" stop-color="#e7f599"/><stop offset="0.295" stop-color="#bce4a1"/><stop offset="0.298" stop-color="#89d0a4"/><stop offset="0.301" stop-color="#58b3ab"/><stop offset="0.304" stop-color="#50a9af"/><stop offset="0.327" stop-color="#4ba4b1"/><stop offset="0.33" stop-color="#5db8a9"/><stop offset="0.333" stop-color="#78c9a5"/><stop offset="0.336" stop-color="#7ccba5"/><stop offset="0.348" stop-color="#73c7a5"/><stop offset="0.351" stop-color="#64c0a6"/><stop offset="0.36" stop-color="#3a91b9"/><stop offset="0.372" stop-color="#3288bd"/><stop offset="0.408" stop-color="#3f77b5"/><stop offset="0.426" stop-color="#4c66ad"/><stop offset="0.551" stop-color="#4d65ad"/><stop offset="0.583" stop-color="#3389bc"/><stop offset="0.628" stop-color="#60bba8"/><stop offset="0.631" stop-color="#68c3a5"/><stop offset="0.646" stop-color="#a7dba4"/><stop offset="0.667" stop-color="#e2f399"/><stop offset="0.682" stop-color="#fefebd"/><stop offset="0.685" stop-color="#fffcb9"/><stop offset="0.693" stop-color="#feeea2"/><stop offset="0.705" stop-color="#fff8b3"/><stop offset="0.717" stop-color="#fee797"/><stop offset="0.732" stop-color="#fff8b3"/><stop offset="0.744" stop-color="#feea9c"/><stop offset="0.777" stop-color="#fee99b"/><stop offset="0.792" stop-color="#fff4ad"/><stop offset="0.81" stop-color="#feec9e"/><stop offset="0.866" stop-color="#feefa4"/><stop offset="0.887" stop-color="#ffffbf"/><stop offset="0.938" stop-color="#f8fcb3"/><stop offset="1" stop-color="#e9f69c"/></linearGradient>
<linearGradient id="b24"><stop offset="0" stop-color="#fdc171"/><stop offset="0.024" stop-color="#fdb164"/><stop offset="0.057" stop-color="#f46c43"/><stop offset="0.068" stop-color="#e75a48"/><stop offset="0.08" stop-color="#d53f4f"/><stop offset="0.098" stop-color="#aa0f45"/><stop offset="0.101" stop-color="#a90d45"/><stop offset="0.158" stop-color="#a90d45"/><stop offset="0.176" stop-color="#d43d4f"/><stop offset="0.19" stop-color="#f26b44"/><stop offset="0.202" stop-color="#fdb466"/><stop offset="0.211" stop-color="#fedd88"/><stop offset="0.28" stop-color="#fee99b"/><stop offset="0.283" stop-color="#fff4ad"/><stop offset="0.286" stop-color="#fdfebc"/><stop offset="0.292" stop-color="#e7f69a"/><stop offset="0.295" stop-color="#bee5a0"/><stop offset="0.298" stop-color="#8bd0a4"/><stop offset="0.301" stop-color="#59b3ab"/><stop offset="0.304" stop-color="#50aaaf"/><stop offset="0.327" stop-color="#4ca4b1"/><stop offset="0.33" stop-color="#5eb9a9"/><stop offset="0.333" stop-color="#7acaa5"/><stop offset="0.336" stop-color="#7ecba5"/><stop offset="0.348" stop-color="#74c7a5"/><stop offset="0.351" stop-color="#65c0a6"/><stop offset="0.36" stop-color="#3a91b9"/><stop offset="0.372" stop-color="#3288bd"/><stop offset="0.408" stop-color="#3f77b5"/><stop offset="0.426" stop-color="#4c66ad"/><stop offset="0.551" stop-color="#4d66ad"/><stop offset="0.577" stop-color="#3584bb"/><stop offset="0.583" stop-color="#348abc"/><stop offset="0.628" stop-color="#60bba8"/><stop offset="0.631" stop-color="#69c3a5"/><stop offset="0.646" stop-color="#a8dca4"/><stop offset="0.667" stop-color="#e3f499"/><stop offset="0.682" stop-color="#feffbd"/><stop offset="0.685" stop-color="#fffbb9"/><stop offset="0.693" stop-color="#feeea2"/><stop offset="0.705" stop-color="#fff8b3"/><stop offset="0.717" stop-color="#fee797"/><stop offset="0.732" stop-color="#fff8b3"/><stop offset="0.744" stop-color="#feea9c"/><stop offset="0.777" stop-color="#fee99b"/><stop offset="0.792" stop-color="#fff5ae"/><stop offset="0.81" stop-color="#feec9f"/><stop offset="0.866" stop-color="#feefa4"/><stop offset="0.887" stop-color="#ffffbf"/><stop offset="0.94" stop-color="#f7fcb3"/><stop offset="1" stop-color="#e9f69c"/></linearGradient>
<linearGradient id="cbs"><stop offset="0.00" stop-color="#5e4fa2"/><stop offset="0.10" stop-color="#3288bd"/><stop offset="0.20" stop-color="#66c2a5"/><stop offset="0.30" stop-color="#abdda4"/><stop offset="0.40" stop-color="#e6f598"/><stop offset="0.50" stop-color="#ffffbf"/><stop offset="0.60" stop-color="#fee08b"/><stop offset="0.70" stop-color="#fdae61"/><stop offset="0.80" stop-color="#f46d43"/><stop offset="0.90" stop-color="#d53e4f"/><stop offset="1.00" stop-color="#9e0142"/></linearGradient>
<linearGradient id="c0"><stop offset="0" stop-color="#66c2a5"/><stop offset="0.107" stop-color="#71c6a5"/><stop offset="0.139" stop-color="#78c9a5"/><stop offset="0.166" stop-color="#abdda4"/><stop offset="0.207" stop-color="#aedea3"/><stop offset="0.275" stop-color="#aedea3"/><stop offset="0.317" stop-color="#77c9a5"/><stop offset="0.32" stop-color="#76c8a5"/><stop offset="0.432" stop-color="#66c2a5"/><stop offset="0.533" stop-color="#6dc5a5"/><stop offset="0.633" stop-color="#82cda5"/><stop offset="0.683" stop-color="#c3e79f"/><stop offset="0.701" stop-color="#e6f598"/><stop offset="0.716" stop-color="#f2faab"/><stop offset="0.867" stop-color="#f7fcb3"/><stop offset="1" stop-color="#ebf7a0"/></linearGradient>
<linearGradient id="c1"><stop offset="0" stop-color="#66c2a5"/><stop offset="0.107" stop-color="#72c7a5"/><stop offset="0.139" stop-color="#8dd1a4"/><stop offset="0.166" stop-color="#b3e0a2"/><stop offset="0.207" stop-color="#bbe4a1"/><stop offset="0.275" stop-color="#bbe4a1"/><stop offset="0.29" stop-color="#abdda4"/><stop offset="0.317" stop-color="#85cea5"/><stop offset="0.376" stop-color="#6fc6a5"/><stop offset="0.435" stop-color="#68c3a5"/><stop offset="0.533" stop-color="#6cc5a5"/><stop offset="0.633" stop-color="#84cea5"/><stop offset="0.683" stop-color="#c7e89e"/><stop offset="0.698" stop-color="#e4f499"/><stop offset="0.716" stop-color="#f2faab"/><stop offset="0.867" stop-color="#f7fcb3"/><stop offset="1" stop-color="#ecf7a1"/></linearGradient>
<linearGradient id="c2"><stop offset="0" stop-color="#66c2a5"/><stop offset="0.107" stop-color="#72c7a5"/><stop offset="0.139" stop-color="#a1d9a4"/><stop offset="0.166" stop-color="#bbe4a1"/><stop offset="0.189" stop-color="#bfe5a0"/><stop offset="0.207" stop-color="#c9e99e"/><stop offset="0.275" stop-color="#c9e99e"/><stop offset="0.317" stop-color="#93d4a4"/><stop offset="0.376" stop-color="#71c6a5"/><stop offset="0.467" stop-color="#67c2a5"/><stop offset="0.55" stop-color="#6ec5a5"/><stop offset="0.633" stop-color="#85cea5"/><stop offset="0.678" stop-color="#c0e6a0"/><stop offset="0.698" stop-color="#e6f599"/><stop offset="0.716" stop-color="#f2faab"/><stop offset="0.867" stop-color="#f7fcb3"/><stop offset="1" stop-color="#ecf8a2"/></linearGradient>
<linearGradient id="c3"><stop offset="0" stop-color="#66c2a5"/><stop offset="0.107" stop-color="#73c7a5"/><stop offset="0.139" stop-color="#b4e1a2"/><stop offset="0.166" stop-color="#c3e79f"/><stop offset="0.189" stop-color="#c8e99e"/><stop offset="0.207" stop-color="#d7ef9b"/><stop offset="0.275" stop-color="#d7ef9b"/><stop offset="0.317" stop-color="#a1d9a4"/><stop offset="0.376" stop-color="#73c7a5"/><stop offset="0.467" stop-color="#66c2a5"/><stop offset="0.55" stop-color="#6ec5a5"/><stop offset="0.633" stop-color="#87cfa5"/><stop offset="0.678" stop-color="#c3e79f"/><stop offset="0.695" stop-color="#e4f498"/><stop offset="0.71" stop-color="#f2faaa"/><stop offset="0.867" stop-color="#f7fcb3"/><stop offset="1" stop-color="#edf8a3"/></linearGradient>
<linearGradient id="c4"><stop offset="0" stop-color="#66c2a5"/><stop offset="0.083" stop-color="#71c6a5"/><stop offset="0.107" stop-color="#7acaa5"/><stop offset="0.139" stop-color="#c3e79f"/><stop offset="0.189" stop-color="#d5ee9b"/><stop offset="0.207" stop-color="#e5f598"/><stop offset="0.275" stop-color="#e5f598"/><stop offset="0.317" stop-color="#b1dfa3"/><stop offset="0.376" stop-color="#76c8a5"/><stop offset="0.467" stop-color="#66c2a5"/><stop offset="0.55" stop-color="#6cc4a5"/><stop offset="0.633" stop-color="#88cfa5"/><stop offset="0.678" stop-color="#c6e89f"/><stop offset="0.692" stop-color="#e2f399"/><stop offset="0.71" stop-color="#f3faac"/><stop offset="0.867" stop-color="#f7fcb3"/><stop offset="1" stop-color="#eef8a4"/></linearGradient>
<linearGradient id="c5"><stop offset="0" stop-color="#66c2a5"/><stop offset="0.083" stop-color="#72c7a5"/><stop offset="0.107" stop-color="#8dd1a4"/><stop offset="0.139" stop-color="#cdeb9d"/><stop offset="0.169" stop-color="#e6f598"/><stop offset="0.175" stop-color="#e8f69b"/><stop offset="0.207" stop-color="#ecf7a1"/><stop offset="0.278" stop-color="#ebf7a0"/><stop offset="0.29" stop-color="#e3f499"/><stop offset="0.337" stop-color="#addea4"/><stop offset="0.382" stop-color="#75c8a5"/><stop offset="0.467" stop-color="#66c2a5"/><stop offset="0.55" stop-color="#69c3a5"/><stop offset="0.633" stop-color="#88cfa5"/><stop offset="0.675" stop-color="#c6e89f"/><stop offset="0.692" stop-color="#e6f598"/><stop offset="0.71" stop-color="#f3faac"/><stop offset="0.867" stop-color="#f7fcb3"/><stop offset="1" stop-color="#eff9a6"/></linearGradient>
<linearGradient id="c6"><stop offset="0" stop-color="#66c2a5"/><stop offset="0.083" stop-color="#74c7a5"/><stop offset="0.112" stop-color="#abdda4"/><stop offset="0.133" stop-color="#ceeb9d"/><stop offset="0.151" stop-color="#e5f598"/><stop offset="0.175" stop-color="#f2faab"/><stop offset="0.278" stop-color="#f1faaa"/><stop offset="0.302" stop-color="#e5f598"/><stop offset="0.349" stop-color="#acdda4"/><stop offset="0.385" stop-color="#74c7a5"/><stop offset="0.467" stop-color="#66c2a5"/><stop offset="0.55" stop-color="#66c2a5"/><stop offset="0.633" stop-color="#88cfa5"/><stop offset="0.654" stop-color="#acdda4"/><stop offset="0.689" stop-color="#e5f498"/><stop offset="0.707" stop-color="#f2faab"/><stop offset="0.867" stop-color="#f7fcb3"/><stop offset="1" stop-color="#f0f9a8"/></linearGradient>
<linearGradient id="c7"><stop offset="0" stop-color="#66c2a5"/><stop offset="0.068" stop-color="#74c7a5"/><stop offset="0.083" stop-color="#89d0a4"/><stop offset="0.101" stop-color="#b2e0a3"/><stop offset="0.133" stop-color="#e7f599"/><stop offset="0.175" stop-color="#f7fcb2"/><stop offset="0.278" stop-color="#f6fbb0"/><stop offset="0.305" stop-color="#e6f598"/><stop offset="0.349" stop-color="#abdda4"/><stop offset="0.376" stop-color="#7ccba5"/><stop offset="0.385" stop-color="#73c7a5"/><stop offset="0.464" stop-color="#62bea7"/><stop offset="0.533" stop-color="#5eb9a9"/><stop offset="0.583" stop-color="#69c3a5"/><stop offset="0.633" stop-color="#8bd0a4"/><stop offset="0.651" stop-color="#acdda4"/><stop offset="0.686" stop-color="#e5f598"/><stop offset="0.707" stop-color="#f3faac"/><stop offset="0.766" stop-color="#f7fcb2"/><stop offset="0.867" stop-color="#f7fcb3"/><stop offset="1" stop-color="#f1f9a9"/></linearGradient>
<linearGradient id="c8"><stop offset="0" stop-color="#66c2a5"/><stop offset="0.065" stop-color="#73c7a5"/><stop offset="0.068" stop-color="#77c9a5"/><stop offset="0.086" stop-color="#a7dca4"/><stop offset="0.101" stop-color="#ceeb9d"/><stop offset="0.115" stop-color="#e6f598"/><stop offset="0.139" stop-color="#f6fbb1"/><stop offset="0.172" stop-color="#fbfeb9"/><stop offset="0.278" stop-color="#fafdb6"/><stop offset="0.308" stop-color="#e6f599"/><stop offset="0.346" stop-color="#aedea3"/><stop offset="0.379" stop-color="#75c8a5"/><stop offset="0.462" stop-color="#5eb9a9"/><stop offset="0.533" stop-color="#56b0ad"/><stop offset="0.583" stop-color="#60bba8"/><stop offset="0.592" stop-color="#66c2a5"/><stop offset="0.633" stop-color="#8ed2a4"/><stop offset="0.648" stop-color="#abdda4"/><stop offset="0.683" stop-color="#e6f598"/><stop offset="0.701" stop-color="#f2faaa"/><stop offset="0.766" stop-color="#f9fdb5"/><stop offset="1" stop-color="#f2faab"/></linearGradient>
<linearGradient id="c9"><stop offset="0" stop-color="#66c2a5"/><stop offset="0.044" stop-color="#72c7a5"/><stop offset="0.065" stop-color="#89d0a4"/><stop offset="0.077" stop-color="#acdda4"/><stop offset="0.101" stop-color="#e6f598"/><stop offset="0.139" stop-color="#fffebe"/><stop offset="0.201" stop-color="#fff8b3"/><stop offset="0.251" stop-color="#fffbb8"/><stop offset="0.263" stop-color="#ffffbe"/><stop offset="0.278" stop-color="#fcfeba"/><stop offset="0.311" stop-color="#e3f499"/><stop offset="0.349" stop-color="#a9dca4"/><stop offset="0.376" stop-color="#79c9a5"/><stop offset="0.382" stop-color="#74c7a5"/><stop offset="0.45" stop-color="#5eb9a9"/><stop offset="0.47" stop-color="#53adae"/><stop offset="0.533" stop-color="#4ba4b1"/><stop offset="0.574" stop-color="#56b0ac"/><stop offset="0.598" stop-color="#67c2a5"/><stop offset="0.633" stop-color="#93d4a4"/><stop offset="0.66" stop-color="#c6e89f"/><stop offset="0.68" stop-color="#e6f598"/><stop offset="0.701" stop-color="#f3faad"/><stop offset="0.766" stop-color="#fbfdb8"/><stop offset="1" stop-color="#f3faad"/></linearGradient>
<linearGradient id="c10"><stop offset="0" stop-color="#66c2a5"/><stop offset="0.041" stop-color="#73c7a5"/><stop offset="0.044" stop-color="#76c8a5"/><stop offset="0.062" stop-color="#abdda4"/><stop offset="0.077" stop-color="#d3ed9c"/><stop offset="0.086" stop-color="#e3f499"/><stop offset="0.124" stop-color="#ffffbe"/><stop offset="0.151" stop-color="#feefa4"/><stop offset="0.198" stop-color="#fee99b"/><stop offset="0.251" stop-color="#feefa3"/><stop offset="0.266" stop-color="#ffffbf"/><stop offset="0.293" stop-color="#f7fcb2"/><stop offset="0.308" stop-color="#e7f599"/><stop offset="0.317" stop-color="#d0ec9c"/><stop offset="0.349" stop-color="#acdda4"/><stop offset="0.385" stop-color="#73c7a5"/><stop offset="0.45" stop-color="#5cb7aa"/><stop offset="0.47" stop-color="#449db4"/><stop offset="0.533" stop-color="#3f96b7"/><stop offset="0.574" stop-color="#4ea7b0"/><stop offset="0.598" stop-color="#65c1a5"/><stop offset="0.624" stop-color="#8ad0a4"/><stop offset="0.66" stop-color="#cdeb9d"/><stop offset="0.678" stop-color="#e7f599"/><stop offset="0.701" stop-color="#f5fbaf"/><stop offset="0.766" stop-color="#fcfebb"/><stop offset="1" stop-color="#f5fbaf"/></linearGradient>
<linearGradient id="c11"><stop offset="0" stop-color="#66c2a5"/><stop offset="0.033" stop-color="#72c7a5"/><stop offset="0.044" stop-color="#87cfa5"/><stop offset="0.065" stop-color="#c7e89e"/><stop offset="0.077" stop-color="#e3f499"/><stop offset="0.112" stop-color="#ffffbf"/><stop offset="0.139" stop-color="#fee491"/><stop offset="0.151" stop-color="#fedf8a"/><stop offset="0.198" stop-color="#fed783"/><stop offset="0.251" stop-color="#fee28e"/><stop offset="0.254" stop-color="#fee594"/><stop offset="0.26" stop-color="#fff8b2"/><stop offset="0.272" stop-color="#ffffbf"/><stop offset="0.293" stop-color="#fafdb7"/><stop offset="0.302" stop-color="#f2faab"/><stop offset="0.311" stop-color="#e2f399"/><stop offset="0.317" stop-color="#ccea9d"/><stop offset="0.349" stop-color="#acdda4"/><stop offset="0.373" stop-color="#84cea5"/><stop offset="0.385" stop-color="#76c8a5"/><stop offset="0.432" stop-color="#5fbaa8"/><stop offset="0.45" stop-color="#53adae"/><stop offset="0.47" stop-color="#3f96b7"/><stop offset="0.533" stop-color="#378eba"/><stop offset="0.571" stop-color="#4ba4b1"/><stop offset="0.598" stop-color="#66c2a5"/><stop offset="0.618" stop-color="#83cda5"/><stop offset="0.639" stop-color="#acdda4"/><stop offset="0.672" stop-color="#e3f499"/><stop offset="0.695" stop-color="#f4faad"/><stop offset="0.766" stop-color="#fefebd"/><stop offset="1" stop-color="#f5fbaf"/></linearGradient>
<linearGradient id="c12"><stop offset="0" stop-color="#66c2a5"/><stop offset="0.033" stop-color="#75c8a5"/><stop offset="0.05" stop-color="#addea4"/><stop offset="0.068" stop-color="#def29a"/><stop offset="0.074" stop-color="#e7f599"/><stop offset="0.107" stop-color="#fffebe"/><stop offset="0.127" stop-color="#fee390"/><stop offset="0.136" stop-color="#fecc7a"/><stop offset="0.198" stop-color="#fdc171"/><stop offset="0.251" stop-color="#fed17f"/><stop offset="0.254" stop-color="#fedb87"/><stop offset="0.26" stop-color="#fff9b4"/><stop offset="0.278" stop-color="#ffffbe"/><stop offset="0.299" stop-color="#fafdb7"/><stop offset="0.311" stop-color="#e4f498"/><stop offset="0.317" stop-color="#c9e99e"/><stop offset="0.349" stop-color="#abdda4"/><stop offset="0.376" stop-color="#7fcca5"/><stop offset="0.417" stop-color="#63bfa6"/><stop offset="0.432" stop-color="#5bb6aa"/><stop offset="0.464" stop-color="#3c93b8"/><stop offset="0.533" stop-color="#3289bd"/><stop offset="0.565" stop-color="#469eb4"/><stop offset="0.598" stop-color="#67c3a5"/><stop offset="0.615" stop-color="#80cca5"/><stop offset="0.636" stop-color="#aadda4"/><stop offset="0.672" stop-color="#e6f598"/><stop offset="0.692" stop-color="#f4fbae"/><stop offset="0.766" stop-color="#ffffbf"/><stop offset="1" stop-color="#f5fbaf"/></linearGradient>
<linearGradient id="c13"><stop offset="0" stop-color="#66c2a5"/><stop offset="0.027" stop-color="#72c7a5"/><stop offset="0.033" stop-color="#7ecba5"/><stop offset="0.056" stop-color="#cae99e"/><stop offset="0.068" stop-color="#e5f598"/><stop offset="0.101" stop-color="#ffffbf"/><stop offset="0.118" stop-color="#fee796"/><stop offset="0.127" stop-color="#fecd7b"/><stop offset="0.136" stop-color="#fdbe6f"/><stop offset="0.183" stop-color="#fdb667"/><stop offset="0.243" stop-color="#fdbf6f"/><stop offset="0.254" stop-color="#fee28e"/><stop offset="0.26" stop-color="#fff6b0"/><stop offset="0.266" stop-color="#fffcbb"/><stop offset="0.275" stop-color="#ffffbf"/><stop offset="0.293" stop-color="#fbfdb9"/><stop offset="0.302" stop-color="#f2faab"/><stop offset="0.308" stop-color="#e8f69b"/><stop offset="0.311" stop-color="#dff299"/><stop offset="0.317" stop-color="#cceb9d"/><stop offset="0.343" stop-color="#acdda4"/><stop offset="0.361" stop-color="#8dd1a4"/><stop offset="0.373" stop-color="#7ecba5"/><stop offset="0.414" stop-color="#62bda7"/><stop offset="0.438" stop-color="#4ba3b2"/><stop offset="0.462" stop-color="#3c93b8"/><stop offset="0.518" stop-color="#338abc"/><stop offset="0.533" stop-color="#358bbc"/><stop offset="0.559" stop-color="#429ab6"/><stop offset="0.595" stop-color="#64c0a6"/><stop offset="0.615" stop-color="#83cda5"/><stop offset="0.636" stop-color="#addea4"/><stop offset="0.669" stop-color="#e3f499"/><stop offset="0.692" stop-color="#f4fbae"/><stop offset="0.766" stop-color="#ffffbf"/><stop offset="1" stop-color="#f5fbaf"/></linearGradient>
<linearGradient id="c14"><stop offset="0" stop-color="#66c2a5"/><stop offset="0.027" stop-color="#73c7a5"/><stop offset="0.041" stop-color="#a6dba4"/><stop offset="0.056" stop-color="#d5ee9b"/><stop offset="0.065" stop-color="#e6f598"/><stop offset="0.098" stop-color="#ffffbf"/><stop offset="0.115" stop-color="#fee593"/><stop offset="0.118" stop-color="#fedc88"/><stop offset="0.127" stop-color="#fdb668"/><stop offset="0.183" stop-color="#fca75e"/><stop offset="0.243" stop-color="#fdb265"/><stop offset="0.251" stop-color="#fedd88"/><stop offset="0.254" stop-color="#fee796"/><stop offset="0.26" stop-color="#fff4ad"/><stop offset="0.266" stop-color="#fffebd"/><stop offset="0.293" stop-color="#fafdb8"/><stop offset="0.308" stop-color="#e5f498"/><stop offset="0.317" stop-color="#cfec9d"/><stop offset="0.34" stop-color="#acdda4"/><stop offset="0.361" stop-color="#84cea5"/><stop offset="0.399" stop-color="#66c2a5"/><stop offset="0.414" stop-color="#5eb9a9"/><stop offset="0.438" stop-color="#4098b7"/><stop offset="0.515" stop-color="#3389bd"/><stop offset="0.559" stop-color="#4199b6"/><stop offset="0.595" stop-color="#64c0a6"/><stop offset="0.607" stop-color="#74c7a5"/><stop offset="0.633" stop-color="#aadca4"/><stop offset="0.669" stop-color="#e4f498"/><stop offset="0.692" stop-color="#f4fbae"/><stop offset="0.766" stop-color="#ffffbf"/><stop offset="1" stop-color="#f5fbaf"/></linearGradient>
<linearGradient id="c15"><stop offset="0" stop-color="#69c3a5"/><stop offset="0.027" stop-color="#7fcca5"/><stop offset="0.038" stop-color="#a9dca4"/><stop offset="0.056" stop-color="#e1f399"/><stop offset="0.059" stop-color="#e7f599"/><stop offset="0.083" stop-color="#feffbd"/><stop offset="0.086" stop-color="#fffdbb"/><stop offset="0.107" stop-color="#fee390"/><stop offset="0.115" stop-color="#fed280"/><stop offset="0.127" stop-color="#fca55d"/><stop offset="0.183" stop-color="#fa9957"/><stop offset="0.231" stop-color="#fca95f"/><stop offset="0.243" stop-color="#fdb466"/><stop offset="0.251" stop-color="#fee18d"/><stop offset="0.254" stop-color="#fee99b"/><stop offset="0.266" stop-color="#fffdbc"/><stop offset="0.272" stop-color="#ffffbf"/><stop offset="0.293" stop-color="#fbfdb9"/><stop offset="0.308" stop-color="#e5f598"/><stop offset="0.311" stop-color="#dcf19a"/><stop offset="0.334" stop-color="#b9e3a1"/><stop offset="0.361" stop-color="#81cca5"/><stop offset="0.396" stop-color="#65c0a6"/><stop offset="0.417" stop-color="#56b0ad"/><stop offset="0.435" stop-color="#3e95b7"/><stop offset="0.515" stop-color="#3288bd"/><stop offset="0.559" stop-color="#429ab6"/><stop offset="0.595" stop-color="#66c2a5"/><stop offset="0.607" stop-color="#76c8a5"/><stop offset="0.633" stop-color="#abdda4"/><stop offset="0.669" stop-color="#e4f498"/><stop offset="0.692" stop-color="#f4fbae"/><stop offset="0.766" stop-color="#ffffbf"/><stop offset="1" stop-color="#f5fbaf"/></linearGradient>
<linearGradient id="c16"><stop offset="0" stop-color="#6dc5a5"/><stop offset="0.018" stop-color="#7ecba5"/><stop offset="0.027" stop-color="#8fd2a4"/><stop offset="0.036" stop-color="#aedea3"/><stop offset="0.053" stop-color="#e4f498"/><stop offset="0.065" stop-color="#f2faab"/><stop offset="0.074" stop-color="#ffffbf"/><stop offset="0.092" stop-color="#fee18d"/><stop offset="0.101" stop-color="#fecc7a"/><stop offset="0.115" stop-color="#fdb96a"/><stop offset="0.127" stop-color="#fa9857"/><stop offset="0.183" stop-color="#f88d52"/><stop offset="0.234" stop-color="#fca85e"/><stop offset="0.243" stop-color="#fdbe6e"/><stop offset="0.249" stop-color="#fed985"/><stop offset="0.254" stop-color="#feeb9e"/><stop offset="0.26" stop-color="#fff6b0"/><stop offset="0.266" stop-color="#fffcba"/><stop offset="0.278" stop-color="#ffffbf"/><stop offset="0.293" stop-color="#fdfebb"/><stop offset="0.308" stop-color="#e7f59a"/><stop offset="0.311" stop-color="#dff299"/><stop offset="0.334" stop-color="#c0e6a0"/><stop offset="0.352" stop-color="#90d2a4"/><stop offset="0.361" stop-color="#80cca5"/><stop offset="0.391" stop-color="#65c1a5"/><stop offset="0.435" stop-color="#3c94b8"/><stop offset="0.491" stop-color="#3288bd"/><stop offset="0.518" stop-color="#3288bd"/><stop offset="0.55" stop-color="#3d95b8"/><stop offset="0.562" stop-color="#469fb4"/><stop offset="0.592" stop-color="#65c0a6"/><stop offset="0.601" stop-color="#70c6a5"/><stop offset="0.633" stop-color="#addea4"/><stop offset="0.669" stop-color="#e4f498"/><stop offset="0.692" stop-color="#f4fbae"/><stop offset="0.766" stop-color="#ffffbf"/><stop offset="1" stop-color="#f5fbaf"/></linearGradient>
<linearGradient id="c17"><stop offset="0" stop-color="#71c6a5"/><stop offset="0.018" stop-color="#86cfa5"/><stop offset="0.03" stop-color="#a9dca4"/><stop offset="0.05" stop-color="#e7f599"/><stop offset="0.068" stop-color="#fdfebc"/><stop offset="0.071" stop-color="#fffab7"/><stop offset="0.083" stop-color="#fedc87"/><stop offset="0.101" stop-color="#fca65d"/><stop offset="0.115" stop-color="#fa9a58"/><stop offset="0.127" stop-color="#f88b51"/><stop offset="0.183" stop-color="#f7824d"/><stop offset="0.234" stop-color="#fca55d"/><stop offset="0.249" stop-color="#fee08c"/><stop offset="0.26" stop-color="#fff8b3"/><stop offset="0.269" stop-color="#fffcb9"/><stop offset="0.293" stop-color="#feffbe"/><stop offset="0.311" stop-color="#e3f499"/><stop offset="0.334" stop-color="#c7e89e"/><stop offset="0.352" stop-color="#8ed2a4"/><stop offset="0.361" stop-color="#80cca5"/><stop offset="0.388" stop-color="#65c1a6"/><stop offset="0.396" stop-color="#5eb9a9"/><stop offset="0.42" stop-color="#4199b6"/><stop offset="0.438" stop-color="#3a90ba"/><stop offset="0.479" stop-color="#3288bd"/><stop offset="0.5" stop-color="#3584bb"/><stop offset="0.515" stop-color="#3288bd"/><stop offset="0.55" stop-color="#3d94b8"/><stop offset="0.559" stop-color="#459db4"/><stop offset="0.592" stop-color="#67c2a5"/><stop offset="0.601" stop-color="#73c7a5"/><stop offset="0.63" stop-color="#a9dca4"/><stop offset="0.669" stop-color="#e4f498"/><stop offset="0.692" stop-color="#f4fbae"/><stop offset="0.766" stop-color="#ffffbf"/><stop offset="1" stop-color="#f5fbaf"/></linearGradient>
<linearGradient id="c18"><stop offset="0" stop-color="#80cca5"/><stop offset="0.018" stop-color="#98d6a4"/><stop offset="0.041" stop-color="#e3f499"/><stop offset="0.059" stop-color="#feffbe"/><stop offset="0.065" stop-color="#fff7b2"/><stop offset="0.074" stop-color="#fee390"/><stop offset="0.086" stop-color="#fdb86a"/><stop offset="0.101" stop-color="#f7854e"/><stop offset="0.183" stop-color="#f67948"/><stop offset="0.234" stop-color="#fdac60"/><stop offset="0.246" stop-color="#fedd88"/><stop offset="0.26" stop-color="#fff8b3"/><stop offset="0.293" stop-color="#ffffbf"/><stop offset="0.308" stop-color="#e8f69a"/><stop offset="0.311" stop-color="#e1f399"/><stop offset="0.334" stop-color="#c4e79f"/><stop offset="0.355" stop-color="#84cea5"/><stop offset="0.382" stop-color="#66c2a5"/><stop offset="0.42" stop-color="#3a91b9"/><stop offset="0.462" stop-color="#3288bd"/><stop offset="0.5" stop-color="#3880b9"/><stop offset="0.524" stop-color="#3288bd"/><stop offset="0.55" stop-color="#3b92b9"/><stop offset="0.592" stop-color="#67c2a5"/><stop offset="0.63" stop-color="#aadda4"/><stop offset="0.669" stop-color="#e6f599"/><stop offset="0.692" stop-color="#f5fbb0"/><stop offset="0.778" stop-color="#ffffbf"/><stop offset="1" stop-color="#f5fbaf"/></linearGradient>
<linearGradient id="c19"><stop offset="0" stop-color="#a4daa4"/><stop offset="0.018" stop-color="#b7e2a1"/><stop offset="0.027" stop-color="#c9e99e"/><stop offset="0.033" stop-color="#e3f499"/><stop offset="0.044" stop-color="#fbfdb8"/><stop offset="0.047" stop-color="#fffdbc"/><stop offset="0.059" stop-color="#fee18d"/><stop offset="0.068" stop-color="#fed27f"/><stop offset="0.083" stop-color="#fdaa5f"/><stop offset="0.101" stop-color="#f77f4c"/><stop offset="0.183" stop-color="#f57546"/><stop offset="0.207" stop-color="#fba15b"/><stop offset="0.234" stop-color="#fdbf6f"/><stop offset="0.246" stop-color="#fee18d"/><stop offset="0.257" stop-color="#fff1a7"/><stop offset="0.26" stop-color="#fff4ad"/><stop offset="0.293" stop-color="#ffffbf"/><stop offset="0.305" stop-color="#e7f69a"/><stop offset="0.308" stop-color="#ddf19a"/><stop offset="0.334" stop-color="#aedea3"/><stop offset="0.355" stop-color="#7bcaa5"/><stop offset="0.376" stop-color="#66c2a5"/><stop offset="0.399" stop-color="#48a1b3"/><stop offset="0.42" stop-color="#358cbc"/><stop offset="0.435" stop-color="#3287bd"/><stop offset="0.485" stop-color="#3c7ab7"/><stop offset="0.5" stop-color="#3d7ab6"/><stop offset="0.541" stop-color="#3288bd"/><stop offset="0.571" stop-color="#4aa3b2"/><stop offset="0.595" stop-color="#66c2a5"/><stop offset="0.615" stop-color="#8bd1a4"/><stop offset="0.63" stop-color="#abdda4"/><stop offset="0.663" stop-color="#e5f498"/><stop offset="0.683" stop-color="#f4faad"/><stop offset="0.695" stop-color="#f8fcb4"/><stop offset="0.749" stop-color="#ffffbf"/><stop offset="0.766" stop-color="#fffcbb"/><stop offset="0.811" stop-color="#ffffbf"/><stop offset="1" stop-color="#f5fbaf"/></linearGradient>
<linearGradient id="c20"><stop offset="0" stop-color="#c3e79f"/><stop offset="0.027" stop-color="#e0f399"/><stop offset="0.03" stop-color="#eaf79f"/><stop offset="0.038" stop-color="#ffffbf"/><stop offset="0.05" stop-color="#feda86"/><stop offset="0.059" stop-color="#fdb163"/><stop offset="0.062" stop-color="#fdaa5f"/><stop offset="0.101" stop-color="#f67a49"/><stop offset="0.183" stop-color="#f47045"/><stop offset="0.207" stop-color="#fdb062"/><stop offset="0.243" stop-color="#fee18c"/><stop offset="0.26" stop-color="#fff1a7"/><stop offset="0.293" stop-color="#ffffbf"/><stop offset="0.302" stop-color="#eaf79e"/><stop offset="0.305" stop-color="#def29a"/><stop offset="0.308" stop-color="#d0ec9c"/><stop offset="0.311" stop-color="#c8e99e"/><stop offset="0.334" stop-color="#94d4a4"/><stop offset="0.355" stop-color="#73c7a5"/><stop offset="0.376" stop-color="#60bca8"/><stop offset="0.402" stop-color="#3a91b9"/><stop offset="0.417" stop-color="#3287bd"/><stop offset="0.482" stop-color="#4372b3"/><stop offset="0.533" stop-color="#3b7cb7"/><stop offset="0.55" stop-color="#3389bd"/><stop offset="0.574" stop-color="#47a0b3"/><stop offset="0.598" stop-color="#67c2a5"/><stop offset="0.615" stop-color="#88cfa5"/><stop offset="0.63" stop-color="#acdda4"/><stop offset="0.66" stop-color="#e6f598"/><stop offset="0.683" stop-color="#f7fcb3"/><stop offset="0.737" stop-color="#ffffbf"/><stop offset="0.766" stop-color="#fffab7"/><stop offset="0.831" stop-color="#ffffbf"/><stop offset="1" stop-color="#f5fbaf"/></linearGradient>
<linearGradient id="c21"><stop offset="0" stop-color="#e1f399"/><stop offset="0.006" stop-color="#e6f598"/><stop offset="0.027" stop-color="#eef8a4"/><stop offset="0.033" stop-color="#feffbd"/><stop offset="0.041" stop-color="#fee28f"/><stop offset="0.05" stop-color="#fdb567"/><stop offset="0.059" stop-color="#f67c4a"/><stop offset="0.062" stop-color="#f57647"/><stop offset="0.18" stop-color="#f36c43"/><stop offset="0.183" stop-color="#f36c43"/><stop offset="0.207" stop-color="#fdb869"/><stop offset="0.231" stop-color="#fedd88"/><stop offset="0.29" stop-color="#ffffbf"/><stop offset="0.293" stop-color="#fdfebc"/><stop offset="0.302" stop-color="#e6f598"/><stop offset="0.308" stop-color="#c4e79f"/><stop offset="0.334" stop-color="#7fcca5"/><stop offset="0.361" stop-color="#65c1a5"/><stop offset="0.376" stop-color="#5bb5aa"/><stop offset="0.399" stop-color="#3389bd"/><stop offset="0.482" stop-color="#486cb0"/><stop offset="0.533" stop-color="#4076b5"/><stop offset="0.553" stop-color="#3287bd"/><stop offset="0.574" stop-color="#429ab6"/><stop offset="0.601" stop-color="#68c3a5"/><stop offset="0.615" stop-color="#84cea5"/><stop offset="0.63" stop-color="#acdda4"/><stop offset="0.657" stop-color="#e6f599"/><stop offset="0.683" stop-color="#fafdb8"/><stop offset="0.722" stop-color="#ffffbf"/><stop offset="0.766" stop-color="#fff8b4"/><stop offset="0.855" stop-color="#ffffbf"/><stop offset="1" stop-color="#f5fbaf"/></linearGradient>
<linearGradient id="c22"><stop offset="0" stop-color="#f0f9a8"/><stop offset="0.027" stop-color="#fbfdb9"/><stop offset="0.03" stop-color="#fffab7"/><stop offset="0.038" stop-color="#fed985"/><stop offset="0.047" stop-color="#fdac60"/><stop offset="0.059" stop-color="#f26a44"/><stop offset="0.068" stop-color="#ee6445"/><stop offset="0.166" stop-color="#ea5e47"/><stop offset="0.183" stop-color="#f06744"/><stop offset="0.186" stop-color="#f46f44"/><stop offset="0.207" stop-color="#fdb365"/><stop offset="0.231" stop-color="#fee08b"/><stop offset="0.234" stop-color="#fee491"/><stop offset="0.281" stop-color="#fff9b4"/><stop offset="0.287" stop-color="#feffbe"/><stop offset="0.293" stop-color="#f5fbb0"/><stop offset="0.299" stop-color="#e7f69a"/><stop offset="0.308" stop-color="#bae3a1"/><stop offset="0.334" stop-color="#76c8a5"/><stop offset="0.349" stop-color="#66c2a5"/><stop offset="0.376" stop-color="#54aead"/><stop offset="0.399" stop-color="#3389bd"/><stop offset="0.45" stop-color="#4274b3"/><stop offset="0.485" stop-color="#486baf"/><stop offset="0.533" stop-color="#4175b4"/><stop offset="0.556" stop-color="#3288bd"/><stop offset="0.574" stop-color="#4098b7"/><stop offset="0.601" stop-color="#63bfa6"/><stop offset="0.615" stop-color="#7dcba5"/><stop offset="0.633" stop-color="#b1dfa3"/><stop offset="0.654" stop-color="#e4f498"/><stop offset="0.683" stop-color="#fbfeb9"/><stop offset="0.71" stop-color="#ffffbf"/><stop offset="0.769" stop-color="#fff6b0"/><stop offset="0.891" stop-color="#ffffbf"/><stop offset="1" stop-color="#f4fbae"/></linearGradient>
<linearGradient id="c23"><stop offset="0" stop-color="#fcfebb"/><stop offset="0.006" stop-color="#ffffbf"/><stop offset="0.027" stop-color="#fff4ad"/><stop offset="0.033" stop-color="#fedf8a"/><stop offset="0.041" stop-color="#fdac60"/><stop offset="0.044" stop-color="#fa9957"/><stop offset="0.053" stop-color="#f57145"/><stop offset="0.059" stop-color="#e95d47"/><stop offset="0.068" stop-color="#e45549"/><stop offset="0.169" stop-color="#e3534a"/><stop offset="0.183" stop-color="#ed6346"/><stop offset="0.189" stop-color="#f57145"/><stop offset="0.207" stop-color="#fdae61"/><stop offset="0.231" stop-color="#fee28f"/><stop offset="0.234" stop-color="#fee696"/><stop offset="0.284" stop-color="#fffbb9"/><stop offset="0.287" stop-color="#fbfdb9"/><stop offset="0.296" stop-color="#e7f59a"/><stop offset="0.308" stop-color="#b0dfa3"/><stop offset="0.317" stop-color="#93d4a4"/><stop offset="0.334" stop-color="#6dc5a5"/><stop offset="0.349" stop-color="#5eb9a9"/><stop offset="0.376" stop-color="#4da7b0"/><stop offset="0.399" stop-color="#3389bd"/><stop offset="0.45" stop-color="#4371b2"/><stop offset="0.485" stop-color="#496aaf"/><stop offset="0.518" stop-color="#476db0"/><stop offset="0.559" stop-color="#3288bd"/><stop offset="0.565" stop-color="#368dbb"/><stop offset="0.607" stop-color="#66c2a5"/><stop offset="0.615" stop-color="#75c8a5"/><stop offset="0.633" stop-color="#afdfa3"/><stop offset="0.648" stop-color="#daf09a"/><stop offset="0.654" stop-color="#e6f599"/><stop offset="0.683" stop-color="#fdfebb"/><stop offset="0.698" stop-color="#ffffbf"/><stop offset="0.766" stop-color="#fff3ac"/><stop offset="0.799" stop-color="#fff2aa"/><stop offset="0.867" stop-color="#fff8b4"/><stop offset="0.911" stop-color="#ffffbf"/><stop offset="1" stop-color="#f4fbad"/></linearGradient>
<linearGradient id="c24"><stop offset="0" stop-color="#fff3ab"/><stop offset="0.027" stop-color="#fee492"/><stop offset="0.036" stop-color="#fdb365"/><stop offset="0.044" stop-color="#f57647"/><stop offset="0.047" stop-color="#f46c43"/><stop offset="0.059" stop-color="#e1504b"/><stop offset="0.068" stop-color="#db474d"/><stop offset="0.166" stop-color="#d9454d"/><stop offset="0.183" stop-color="#ea5e47"/><stop offset="0.192" stop-color="#f57346"/><stop offset="0.21" stop-color="#fdb063"/><stop offset="0.228" stop-color="#fedf8a"/><stop offset="0.234" stop-color="#fee99a"/><stop offset="0.281" stop-color="#fff8b4"/><stop offset="0.284" stop-color="#fffcba"/><stop offset="0.287" stop-color="#f8fcb4"/><stop offset="0.293" stop-color="#e4f498"/><stop offset="0.305" stop-color="#b1dfa3"/><stop offset="0.317" stop-color="#85cea5"/><stop offset="0.331" stop-color="#6ac3a5"/><stop offset="0.349" stop-color="#57b1ac"/><stop offset="0.376" stop-color="#479fb3"/><stop offset="0.399" stop-color="#3389bd"/><stop offset="0.45" stop-color="#456fb1"/><stop offset="0.515" stop-color="#4a69af"/><stop offset="0.565" stop-color="#348abc"/><stop offset="0.615" stop-color="#6ec5a5"/><stop offset="0.633" stop-color="#addea4"/><stop offset="0.651" stop-color="#e4f498"/><stop offset="0.683" stop-color="#fefebd"/><stop offset="0.692" stop-color="#ffffbf"/><stop offset="0.734" stop-color="#fff6af"/><stop offset="0.799" stop-color="#feeea3"/><stop offset="0.867" stop-color="#fff4ad"/><stop offset="0.923" stop-color="#ffffbf"/><stop offset="1" stop-color="#f3faad"/></linearGradient>
<linearGradient id="c25"><stop offset="0" stop-color="#fee491"/><stop offset="0.027" stop-color="#fecd7b"/><stop offset="0.033" stop-color="#fca95f"/><stop offset="0.038" stop-color="#f67b49"/><stop offset="0.041" stop-color="#f06645"/><stop offset="0.044" stop-color="#e75a48"/><stop offset="0.062" stop-color="#d53e4f"/><stop offset="0.068" stop-color="#ce364d"/><stop offset="0.166" stop-color="#ce364d"/><stop offset="0.172" stop-color="#d7414e"/><stop offset="0.192" stop-color="#f36c43"/><stop offset="0.213" stop-color="#fdb466"/><stop offset="0.228" stop-color="#fee18c"/><stop offset="0.234" stop-color="#feec9f"/><stop offset="0.281" stop-color="#fff8b4"/><stop offset="0.284" stop-color="#fffcba"/><stop offset="0.287" stop-color="#f5fbb0"/><stop offset="0.29" stop-color="#e9f69d"/><stop offset="0.293" stop-color="#d1ed9c"/><stop offset="0.296" stop-color="#c4e79f"/><stop offset="0.317" stop-color="#77c9a5"/><stop offset="0.328" stop-color="#65c1a5"/><stop offset="0.349" stop-color="#4fa8b0"/><stop offset="0.399" stop-color="#3288bd"/><stop offset="0.45" stop-color="#476cb0"/><stop offset="0.515" stop-color="#4c67ad"/><stop offset="0.568" stop-color="#348abc"/><stop offset="0.615" stop-color="#66c2a5"/><stop offset="0.633" stop-color="#abdda4"/><stop offset="0.651" stop-color="#e6f599"/><stop offset="0.683" stop-color="#ffffbf"/><stop offset="0.734" stop-color="#fff3ab"/><stop offset="0.799" stop-color="#feea9c"/><stop offset="0.867" stop-color="#fff0a7"/><stop offset="0.932" stop-color="#ffffbf"/><stop offset="1" stop-color="#f3faac"/></linearGradient>
<linearGradient id="c26"><stop offset="0" stop-color="#fedc87"/><stop offset="0.027" stop-color="#fdba6b"/><stop offset="0.036" stop-color="#f67b4a"/><stop offset="0.038" stop-color="#f06744"/><stop offset="0.044" stop-color="#de4b4c"/><stop offset="0.056" stop-color="#d43d4f"/><stop offset="0.068" stop-color="#c62e4c"/><stop offset="0.133" stop-color="#c62e4c"/><stop offset="0.154" stop-color="#d13a4e"/><stop offset="0.166" stop-color="#da454d"/><stop offset="0.183" stop-color="#f36c43"/><stop offset="0.207" stop-color="#fdb062"/><stop offset="0.222" stop-color="#fed380"/><stop offset="0.234" stop-color="#feeca0"/><stop offset="0.275" stop-color="#fff5af"/><stop offset="0.281" stop-color="#feffbe"/><stop offset="0.284" stop-color="#f6fcb1"/><stop offset="0.287" stop-color="#e7f69a"/><stop offset="0.293" stop-color="#b7e2a2"/><stop offset="0.317" stop-color="#68c3a5"/><stop offset="0.349" stop-color="#479fb3"/><stop offset="0.388" stop-color="#3288bd"/><stop offset="0.45" stop-color="#496aaf"/><stop offset="0.515" stop-color="#4d65ac"/><stop offset="0.568" stop-color="#3288bd"/><stop offset="0.615" stop-color="#65c1a6"/><stop offset="0.633" stop-color="#aadda4"/><stop offset="0.648" stop-color="#e1f399"/><stop offset="0.657" stop-color="#eef8a4"/><stop offset="0.683" stop-color="#ffffbf"/><stop offset="0.734" stop-color="#fff3ab"/><stop offset="0.799" stop-color="#fee899"/><stop offset="0.852" stop-color="#feec9f"/><stop offset="0.929" stop-color="#ffffbf"/><stop offset="1" stop-color="#f3faac"/></linearGradient>
<linearGradient id="c27"><stop offset="0" stop-color="#fed683"/><stop offset="0.027" stop-color="#fca85e"/><stop offset="0.036" stop-color="#f26a44"/><stop offset="0.041" stop-color="#de4b4c"/><stop offset="0.044" stop-color="#d6404e"/><stop offset="0.068" stop-color="#c1284a"/><stop offset="0.133" stop-color="#c1284a"/><stop offset="0.154" stop-color="#d8434e"/><stop offset="0.175" stop-color="#f57245"/><stop offset="0.186" stop-color="#fa9957"/><stop offset="0.198" stop-color="#fdb163"/><stop offset="0.225" stop-color="#fee18c"/><stop offset="0.234" stop-color="#feec9f"/><stop offset="0.275" stop-color="#fff4ac"/><stop offset="0.278" stop-color="#fffbb9"/><stop offset="0.281" stop-color="#f6fbb1"/><stop offset="0.284" stop-color="#e8f69b"/><stop offset="0.287" stop-color="#c0e6a0"/><stop offset="0.293" stop-color="#98d6a4"/><stop offset="0.311" stop-color="#68c3a5"/><stop offset="0.317" stop-color="#5cb6aa"/><stop offset="0.349" stop-color="#3f96b7"/><stop offset="0.373" stop-color="#3288bd"/><stop offset="0.399" stop-color="#3e79b6"/><stop offset="0.45" stop-color="#4b67ad"/><stop offset="0.515" stop-color="#4e64ac"/><stop offset="0.533" stop-color="#496aaf"/><stop offset="0.571" stop-color="#348abc"/><stop offset="0.607" stop-color="#55afad"/><stop offset="0.615" stop-color="#65c1a5"/><stop offset="0.633" stop-color="#aadda4"/><stop offset="0.648" stop-color="#e4f498"/><stop offset="0.651" stop-color="#eaf79e"/><stop offset="0.657" stop-color="#f1f9a9"/><stop offset="0.683" stop-color="#ffffbf"/><stop offset="0.802" stop-color="#fee797"/><stop offset="0.849" stop-color="#fee899"/><stop offset="0.893" stop-color="#fff9b6"/><stop offset="0.92" stop-color="#ffffbe"/><stop offset="1" stop-color="#f3faac"/></linearGradient>
<linearGradient id="c28"><stop offset="0" stop-color="#fed07e"/><stop offset="0.015" stop-color="#fdb164"/><stop offset="0.027" stop-color="#f99254"/><stop offset="0.033" stop-color="#f36b44"/><stop offset="0.041" stop-color="#d63f4f"/><stop offset="0.044" stop-color="#ca324c"/><stop offset="0.068" stop-color="#bc2349"/><stop offset="0.133" stop-color="#bc2349"/><stop offset="0.145" stop-color="#d23b4e"/><stop offset="0.154" stop-color="#dd4b4c"/><stop offset="0.163" stop-color="#f16844"/><stop offset="0.166" stop-color="#f57346"/><stop offset="0.186" stop-color="#fdba6b"/><stop offset="0.219" stop-color="#fedf8a"/><stop offset="0.234" stop-color="#feec9e"/><stop offset="0.275" stop-color="#fff2a9"/><stop offset="0.278" stop-color="#fffdbc"/><stop offset="0.281" stop-color="#eef8a4"/><stop offset="0.284" stop-color="#caea9e"/><stop offset="0.287" stop-color="#94d4a4"/><stop offset="0.293" stop-color="#77c9a5"/><stop offset="0.302" stop-color="#65c1a5"/><stop offset="0.317" stop-color="#50a9af"/><stop offset="0.358" stop-color="#3288bd"/><stop offset="0.402" stop-color="#466fb1"/><stop offset="0.45" stop-color="#4d64ac"/><stop offset="0.515" stop-color="#4f62ab"/><stop offset="0.533" stop-color="#4c66ad"/><stop offset="0.571" stop-color="#3288bd"/><stop offset="0.607" stop-color="#52abae"/><stop offset="0.615" stop-color="#65c1a5"/><stop offset="0.633" stop-color="#aadda4"/><stop offset="0.648" stop-color="#e7f599"/><stop offset="0.657" stop-color="#f4fbae"/><stop offset="0.683" stop-color="#ffffbe"/><stop offset="0.802" stop-color="#fee594"/><stop offset="0.849" stop-color="#fee594"/><stop offset="0.893" stop-color="#fffbb9"/><stop offset="0.911" stop-color="#ffffbe"/><stop offset="1" stop-color="#f3faac"/></linearGradient>
<linearGradient id="c29"><stop offset="0" stop-color="#fecb79"/><stop offset="0.012" stop-color="#fdad60"/><stop offset="0.027" stop-color="#f67c4a"/><stop offset="0.03" stop-color="#f26a44"/><stop offset="0.038" stop-color="#d7414e"/><stop offset="0.044" stop-color="#bd2449"/><stop offset="0.068" stop-color="#b71d48"/><stop offset="0.133" stop-color="#b71d48"/><stop offset="0.145" stop-color="#d53e4f"/><stop offset="0.154" stop-color="#e3534a"/><stop offset="0.16" stop-color="#f46d43"/><stop offset="0.166" stop-color="#f99254"/><stop offset="0.169" stop-color="#fb9f5a"/><stop offset="0.186" stop-color="#fed682"/><stop offset="0.234" stop-color="#feeb9e"/><stop offset="0.275" stop-color="#fff0a7"/><stop offset="0.278" stop-color="#feffbe"/><stop offset="0.281" stop-color="#e5f498"/><stop offset="0.284" stop-color="#a8dca4"/><stop offset="0.287" stop-color="#65c1a6"/><stop offset="0.293" stop-color="#5ab4ab"/><stop offset="0.317" stop-color="#449cb5"/><stop offset="0.343" stop-color="#3389bd"/><stop offset="0.399" stop-color="#4c67ad"/><stop offset="0.515" stop-color="#5061ab"/><stop offset="0.533" stop-color="#4f63ab"/><stop offset="0.574" stop-color="#348abc"/><stop offset="0.607" stop-color="#4ea8b0"/><stop offset="0.618" stop-color="#70c6a5"/><stop offset="0.633" stop-color="#aadda4"/><stop offset="0.645" stop-color="#def29a"/><stop offset="0.648" stop-color="#e8f69b"/><stop offset="0.657" stop-color="#f8fcb4"/><stop offset="0.686" stop-color="#ffffbf"/><stop offset="0.799" stop-color="#fee492"/><stop offset="0.849" stop-color="#fee28f"/><stop offset="0.893" stop-color="#fffebd"/><stop offset="0.902" stop-color="#ffffbf"/><stop offset="1" stop-color="#f3faac"/></linearGradient>
<linearGradient id="c30"><stop offset="0" stop-color="#fdc574"/><stop offset="0.009" stop-color="#fdac60"/><stop offset="0.027" stop-color="#f36b43"/><stop offset="0.036" stop-color="#d9434e"/><stop offset="0.041" stop-color="#be244a"/><stop offset="0.044" stop-color="#b41a47"/><stop offset="0.133" stop-color="#b51a47"/><stop offset="0.145" stop-color="#d6404e"/><stop offset="0.154" stop-color="#e75a48"/><stop offset="0.157" stop-color="#f26944"/><stop offset="0.166" stop-color="#fca85e"/><stop offset="0.169" stop-color="#fdb567"/><stop offset="0.186" stop-color="#fee594"/><stop offset="0.275" stop-color="#fff1a8"/><stop offset="0.278" stop-color="#fbfdb8"/><stop offset="0.281" stop-color="#d0ec9d"/><stop offset="0.284" stop-color="#87cfa5"/><stop offset="0.287" stop-color="#4ba4b2"/><stop offset="0.334" stop-color="#3287bd"/><stop offset="0.399" stop-color="#5160aa"/><stop offset="0.533" stop-color="#5160aa"/><stop offset="0.574" stop-color="#3288bd"/><stop offset="0.607" stop-color="#4ca4b1"/><stop offset="0.615" stop-color="#64c0a6"/><stop offset="0.633" stop-color="#a8dca4"/><stop offset="0.645" stop-color="#ddf19a"/><stop offset="0.648" stop-color="#e8f69b"/><stop offset="0.657" stop-color="#f9fdb6"/><stop offset="0.686" stop-color="#ffffbf"/><stop offset="0.734" stop-color="#fff5af"/><stop offset="0.799" stop-color="#fee390"/><stop offset="0.849" stop-color="#fee08b"/><stop offset="0.893" stop-color="#ffffbe"/><stop offset="1" stop-color="#f3faac"/></linearGradient>
<linearGradient id="c31"><stop offset="0" stop-color="#fdbe6f"/><stop offset="0.018" stop-color="#f88a50"/><stop offset="0.024" stop-color="#f57145"/><stop offset="0.036" stop-color="#d53d4f"/><stop offset="0.041" stop-color="#bd2349"/><stop offset="0.044" stop-color="#b51b47"/><stop offset="0.127" stop-color="#b31847"/><stop offset="0.133" stop-color="#b71c48"/><stop offset="0.145" stop-color="#d7414e"/><stop offset="0.154" stop-color="#ea5e47"/><stop offset="0.157" stop-color="#f46e44"/><stop offset="0.166" stop-color="#fdad61"/><stop offset="0.175" stop-color="#fecc7a"/><stop offset="0.183" stop-color="#fee18c"/><stop offset="0.189" stop-color="#fee694"/><stop offset="0.272" stop-color="#feefa4"/><stop offset="0.275" stop-color="#fff6b1"/><stop offset="0.278" stop-color="#f2faaa"/><stop offset="0.281" stop-color="#b7e2a2"/><stop offset="0.284" stop-color="#76c8a5"/><stop offset="0.287" stop-color="#48a0b3"/><stop offset="0.334" stop-color="#3287bd"/><stop offset="0.399" stop-color="#525faa"/><stop offset="0.533" stop-color="#525fa9"/><stop offset="0.577" stop-color="#3389bc"/><stop offset="0.607" stop-color="#4ba3b2"/><stop offset="0.618" stop-color="#6ac4a5"/><stop offset="0.627" stop-color="#89d0a4"/><stop offset="0.636" stop-color="#afdea3"/><stop offset="0.648" stop-color="#e2f499"/><stop offset="0.657" stop-color="#f6fbb1"/><stop offset="0.669" stop-color="#fdfebc"/><stop offset="0.683" stop-color="#ffffbf"/><stop offset="0.731" stop-color="#fff5af"/><stop offset="0.799" stop-color="#fee28f"/><stop offset="0.849" stop-color="#fede89"/><stop offset="0.893" stop-color="#fffebc"/><stop offset="0.902" stop-color="#ffffbf"/><stop offset="1" stop-color="#f3faac"/></linearGradient>
<linearGradient id="c32"><stop offset="0" stop-color="#fdb869"/><stop offset="0.018" stop-color="#f8874f"/><stop offset="0.024" stop-color="#f36c43"/><stop offset="0.033" stop-color="#d7424e"/><stop offset="0.044" stop-color="#b61b48"/><stop offset="0.127" stop-color="#b21747"/><stop offset="0.133" stop-color="#b91e48"/><stop offset="0.142" stop-color="#d1394e"/><stop offset="0.148" stop-color="#dd4b4c"/><stop offset="0.154" stop-color="#ed6246"/><stop offset="0.157" stop-color="#f57546"/><stop offset="0.166" stop-color="#fdb164"/><stop offset="0.169" stop-color="#fdbe6e"/><stop offset="0.175" stop-color="#fed17f"/><stop offset="0.183" stop-color="#fee18c"/><stop offset="0.189" stop-color="#fee593"/><stop offset="0.272" stop-color="#feefa4"/><stop offset="0.275" stop-color="#fffcba"/><stop offset="0.278" stop-color="#e9f69d"/><stop offset="0.281" stop-color="#9cd7a4"/><stop offset="0.284" stop-color="#65c0a6"/><stop offset="0.287" stop-color="#459db4"/><stop offset="0.334" stop-color="#3287bd"/><stop offset="0.399" stop-color="#525ea9"/><stop offset="0.533" stop-color="#535ea9"/><stop offset="0.577" stop-color="#3288bd"/><stop offset="0.607" stop-color="#4aa2b2"/><stop offset="0.618" stop-color="#65c1a5"/><stop offset="0.627" stop-color="#81cca5"/><stop offset="0.636" stop-color="#a7dca4"/><stop offset="0.651" stop-color="#e6f599"/><stop offset="0.657" stop-color="#f3faac"/><stop offset="0.669" stop-color="#fdfebc"/><stop offset="0.68" stop-color="#ffffbe"/><stop offset="0.734" stop-color="#fff4ad"/><stop offset="0.799" stop-color="#fee18d"/><stop offset="0.849" stop-color="#fedc87"/><stop offset="0.893" stop-color="#fffcbb"/><stop offset="0.908" stop-color="#ffffbf"/><stop offset="1" stop-color="#f3faac"/></linearGradient>
<linearGradient id="c33"><stop offset="0" stop-color="#fdb164"/><stop offset="0.021" stop-color="#f67a49"/><stop offset="0.024" stop-color="#f16844"/><stop offset="0.033" stop-color="#d1394e"/><stop offset="0.036" stop-color="#c72f4c"/><stop offset="0.044" stop-color="#b71c48"/><stop offset="0.127" stop-color="#b11747"/><stop offset="0.133" stop-color="#ba2149"/><stop offset="0.145" stop-color="#d8424e"/><stop offset="0.154" stop-color="#f06745"/><stop offset="0.157" stop-color="#f67b49"/><stop offset="0.16" stop-color="#f99154"/><stop offset="0.166" stop-color="#fdb567"/><stop offset="0.175" stop-color="#fed683"/><stop offset="0.186" stop-color="#fee391"/><stop offset="0.272" stop-color="#feefa5"/><stop offset="0.275" stop-color="#fdfebc"/><stop offset="0.278" stop-color="#d8ef9b"/><stop offset="0.281" stop-color="#80cca5"/><stop offset="0.284" stop-color="#57b2ac"/><stop offset="0.287" stop-color="#4299b6"/><stop offset="0.334" stop-color="#3287bd"/><stop offset="0.382" stop-color="#486cb0"/><stop offset="0.399" stop-color="#535da9"/><stop offset="0.533" stop-color="#545da8"/><stop offset="0.58" stop-color="#3389bd"/><stop offset="0.601" stop-color="#4199b6"/><stop offset="0.607" stop-color="#49a1b3"/><stop offset="0.621" stop-color="#68c3a5"/><stop offset="0.627" stop-color="#79c9a5"/><stop offset="0.639" stop-color="#addea4"/><stop offset="0.651" stop-color="#def29a"/><stop offset="0.654" stop-color="#e9f69d"/><stop offset="0.657" stop-color="#eff9a7"/><stop offset="0.669" stop-color="#feffbd"/><stop offset="0.678" stop-color="#ffffbe"/><stop offset="0.734" stop-color="#fff4ac"/><stop offset="0.784" stop-color="#fee390"/><stop offset="0.849" stop-color="#feda86"/><stop offset="0.893" stop-color="#fffbb9"/><stop offset="0.914" stop-color="#ffffbf"/><stop offset="1" stop-color="#f3faac"/></linearGradient>
<linearGradient id="c34"><stop offset="0" stop-color="#fcaa5f"/><stop offset="0.018" stop-color="#f7814c"/><stop offset="0.021" stop-color="#f57748"/><stop offset="0.024" stop-color="#ee6445"/><stop offset="0.03" stop-color="#d9444e"/><stop offset="0.033" stop-color="#c8304c"/><stop offset="0.036" stop-color="#c0274a"/><stop offset="0.041" stop-color="#ba2049"/><stop offset="0.124" stop-color="#b01546"/><stop offset="0.127" stop-color="#b11646"/><stop offset="0.133" stop-color="#bc2349"/><stop offset="0.145" stop-color="#d8434e"/><stop offset="0.148" stop-color="#df4d4b"/><stop offset="0.154" stop-color="#f36b43"/><stop offset="0.163" stop-color="#fdab5f"/><stop offset="0.172" stop-color="#fed380"/><stop offset="0.175" stop-color="#fedb87"/><stop offset="0.186" stop-color="#fee390"/><stop offset="0.272" stop-color="#feefa5"/><stop offset="0.275" stop-color="#f9fdb5"/><stop offset="0.278" stop-color="#c3e79f"/><stop offset="0.281" stop-color="#64bfa6"/><stop offset="0.284" stop-color="#4aa3b2"/><stop offset="0.287" stop-color="#3f96b7"/><stop offset="0.334" stop-color="#3287bd"/><stop offset="0.382" stop-color="#476cb0"/><stop offset="0.399" stop-color="#545ca8"/><stop offset="0.533" stop-color="#545ca8"/><stop offset="0.568" stop-color="#397fb9"/><stop offset="0.583" stop-color="#3389bc"/><stop offset="0.601" stop-color="#3f97b7"/><stop offset="0.624" stop-color="#69c3a5"/><stop offset="0.627" stop-color="#71c6a5"/><stop offset="0.639" stop-color="#a5dba4"/><stop offset="0.654" stop-color="#e5f598"/><stop offset="0.666" stop-color="#fcfebb"/><stop offset="0.669" stop-color="#ffffbe"/><stop offset="0.734" stop-color="#fff3ab"/><stop offset="0.784" stop-color="#fee18d"/><stop offset="0.849" stop-color="#fed884"/><stop offset="0.893" stop-color="#fffab7"/><stop offset="0.917" stop-color="#ffffbe"/><stop offset="1" stop-color="#f3faac"/></linearGradient>
<linearGradient id="c35"><stop offset="0" stop-color="#fba25b"/><stop offset="0.018" stop-color="#f67f4b"/><stop offset="0.021" stop-color="#f57446"/><stop offset="0.024" stop-color="#ec6146"/><stop offset="0.03" stop-color="#d43d4f"/><stop offset="0.033" stop-color="#c0264a"/><stop offset="0.036" stop-color="#ba2049"/><stop offset="0.124" stop-color="#af1446"/><stop offset="0.127" stop-color="#b01546"/><stop offset="0.145" stop-color="#d9444e"/><stop offset="0.148" stop-color="#e04e4b"/><stop offset="0.154" stop-color="#f47145"/><stop offset="0.16" stop-color="#fb9f5a"/><stop offset="0.163" stop-color="#fdb063"/><stop offset="0.172" stop-color="#fed884"/><stop offset="0.175" stop-color="#fee08b"/><stop offset="0.272" stop-color="#feefa5"/><stop offset="0.275" stop-color="#f5fbaf"/><stop offset="0.278" stop-color="#afdfa3"/><stop offset="0.281" stop-color="#4ea8b0"/><stop offset="0.284" stop-color="#3d94b8"/><stop offset="0.331" stop-color="#3288bd"/><stop offset="0.382" stop-color="#476cb0"/><stop offset="0.399" stop-color="#555ba8"/><stop offset="0.533" stop-color="#555aa7"/><stop offset="0.568" stop-color="#3a7eb8"/><stop offset="0.586" stop-color="#348abc"/><stop offset="0.601" stop-color="#3d95b8"/><stop offset="0.627" stop-color="#69c3a5"/><stop offset="0.642" stop-color="#aadda4"/><stop offset="0.654" stop-color="#ddf19a"/><stop offset="0.657" stop-color="#e9f69d"/><stop offset="0.666" stop-color="#fdfebb"/><stop offset="0.669" stop-color="#ffffbe"/><stop offset="0.734" stop-color="#fff3aa"/><stop offset="0.784" stop-color="#fee08b"/><stop offset="0.849" stop-color="#fed683"/><stop offset="0.893" stop-color="#fff9b5"/><stop offset="0.923" stop-color="#ffffbf"/><stop offset="1" stop-color="#f3faac"/></linearGradient></defs><rect x="35.00" y="24.00" width="183.00" height="6.00" fill="url(#a0)"/>
<rect x="35.00" y="24.00" width="183.00" height="6.00" fill="url(#a1)" mask="url(#mv)"/>
<rect x="35.00" y="30.00" width="183.00" height="6.00" fill="url(#a1)"/>
<rect x="35.00" y="30.00" width="183.00" height="6.00" fill="url(#a2)" mask="url(#mv)"/>
<rect x="35.00" y="36.00" width="183.00" height="6.00" fill="url(#a2)"/>
<rect x="35.00" y="36.00" width="183.00" height="6.00" fill="url(#a3)" mask="url(#mv)"/>
<rect x="35.00" y="42.00" width="183.00" height="6.00" fill="url(#a3)"/>
<rect x="35.00" y="42.00" width="183.00" height="6.00" fill="url(#a4)" mask="url(#mv)"/>
<rect x="35.00" y="48.00" width="183.00" height="6.00" fill="url(#a4)"/>
<rect x="35.00" y="48.00" width="183.00" height="6.00" fill="url(#a5)" mask="url(#mv)"/>
<rect x="35.00" y="54.00" width="183.00" height="6.00" fill="url(#a5)"/>
<rect x="35.00" y="54.00" width="183.00" height="6.00" fill="url(#a6)" mask="url(#mv)"/>
<rect x="35.00" y="60.00" width="183.00" height="6.00" fill="url(#a6)"/>
<rect x="35.00" y="60.00" width="183.00" height="6.00" fill="url(#a7)" mask="url(#mv)"/>
<rect x="35.00" y="66.00" width="183.00" height="6.00" fill="url(#a7)"/>
<rect x="35.00" y="66.00" width="183.00" height="6.00" fill="url(#a8)" mask="url(#mv)"/>
<rect x="35.00" y="72.00" width="183.00" height="6.00" fill="url(#a8)"/>
<rect x="35.00" y="72.00" width="183.00" height="6.00" fill="url(#a9)" mask="url(#mv)"/>
<rect x="35.00" y="78.00" width="183.00" height="6.00" fill="url(#a9)"/>
<rect x="35.00" y="78.00" width="183.00" height="6.00" fill="url(#a10)" mask="url(#mv)"/>
<rect x="35.00" y="84.00" width="183.00" height="6.00" fill="url(#a10)"/>
<rect x="35.00" y="84.00" width="183.00" height="6.00" fill="url(#a11)" mask="url(#mv)"/>
<rect x="35.00" y="90.00" width="183.00" height="6.00" fill="url(#a11)"/>
<rect x="35.00" y="90.00" width="183.00" height="6.00" fill="url(#a12)" mask="url(#mv)"/>
<rect x="35.00" y="96.00" width="183.00" height="6.00" fill="url(#a12)"/>
<rect x="35.00" y="96.00" width="183.00" height="6.00" fill="url(#a13)" mask="url(#mv)"/>
<rect x="35.00" y="102.00" width="183.00" height="6.00" fill="url(#a13)"/>
<rect x="35.00" y="102.00" width="183.00" height="6.00" fill="url(#a14)" mask="url(#mv)"/>
<rect x="35.00" y="108.00" width="183.00" height="6.00" fill="url(#a14)"/>
<rect x="35.00" y="108.00" width="183.00" height="6.00" fill="url(#a15)" mask="url(#mv)"/>
<rect x="35.00" y="114.00" width="183.00" height="6.00" fill="url(#a15)"/>
<rect x="35.00" y="114.00" width="183.00" height="6.00" fill="url(#a16)" mask="url(#mv)"/>
<rect x="35.00" y="120.00" width="183.00" height="6.00" fill="url(#a16)"/>
<rect x="35.00" y="120.00" width="183.00" height="6.00" fill="url(#a17)" mask="url(#mv)"/>
<rect x="35.00" y="126.00" width="183.00" height="7.00" fill="url(#a17)"/>
<rect x="35.00" y="126.00" width="183.00" height="7.00" fill="url(#a18)" mask="url(#mv)"/>
<rect x="35.00" y="133.00" width="183.00" height="6.00" fill="url(#a18)"/>
<rect x="35.00" y="133.00" width="183.00" height="6.00" fill="url(#a19)" mask="url(#mv)"/>
<rect x="35.00" y="139.00" width="183.00" height="6.00" fill="url(#a19)"/>
<rect x="35.00" y="139.00" width="183.00" height="6.00" fill="url(#a20)" mask="url(#mv)"/>
<rect x="35.00" y="145.00" width="183.00" height="6.00" fill="url(#a20)"/>
<rect x="35.00" y="145.00" width="183.00" height="6.00" fill="url(#a21)" mask="url(#mv)"/>
<rect x="35.00" y="151.00" width="183.00" height="6.00" fill="url(#a21)"/>
<rect x="35.00" y="151.00" width="183.00" height="6.00" fill="url(#a22)" mask="url(#mv)"/>
<rect x="35.00" y="157.00" width="183.00" height="6.00" fill="url(#a22)"/>
<rect x="35.00" y="157.00" width="183.00" height="6.00" fill="url(#a23)" mask="url(#mv)"/>
<rect x="35.00" y="163.00" width="183.00" height="6.00" fill="url(#a23)"/>
<rect x="35.00" y="163.00" width="183.00" height="6.00" fill="url(#a24)" mask="url(#mv)"/>
<rect x="35.00" y="169.00" width="183.00" height="6.00" fill="url(#a24)"/>
<rect x="35.00" y="169.00" width="183.00" height="6.00" fill="url(#a25)" mask="url(#mv)"/>
<rect x="35.00" y="175.00" width="183.00" height="6.00" fill="url(#a25)"/>
<rect x="35.00" y="175.00" width="183.00" height="6.00" fill="url(#a26)" mask="url(#mv)"/>
<rect x="35.00" y="181.00" width="183.00" height="6.00" fill="url(#a26)"/>
<rect x="35.00" y="181.00" width="183.00" height="6.00" fill="url(#a27)" mask="url(#mv)"/>
<rect x="35.00" y="187.00" width="183.00" height="6.00" fill="url(#a27)"/>
<rect x="35.00" y="187.00" width="183.00" height="6.00" fill="url(#a28)" mask="url(#mv)"/>
<rect x="35.00" y="193.00" width="183.00" height="6.00" fill="url(#a28)"/>
<rect x="35.00" y="193.00" width="183.00" height="6.00" fill="url(#a29)" mask="url(#mv)"/>
<rect x="35.00" y="199.00" width="183.00" height="6.00" fill="url(#a29)"/>
<rect x="35.00" y="199.00" width="183.00" height="6.00" fill="url(#a30)" mask="url(#mv)"/>
<rect x="35.00" y="205.00" width="183.00" height="6.00" fill="url(#a30)"/>
<rect x="35.00" y="205.00" width="183.00" height="6.00" fill="url(#a31)" mask="url(#mv)"/>
<rect x="35.00" y="211.00" width="183.00" height="6.00" fill="url(#a31)"/>
<rect x="35.00" y="211.00" width="183.00" height="6.00" fill="url(#a32)" mask="url(#mv)"/>
<rect x="35.00" y="217.00" width="183.00" height="6.00" fill="url(#a32)"/>
<rect x="35.00" y="217.00" width="183.00" height="6.00" fill="url(#a33)" mask="url(#mv)"/>
<rect x="35.00" y="223.00" width="183.00" height="6.00" fill="url(#a33)"/>
<rect x="35.00" y="223.00" width="183.00" height="6.00" fill="url(#a34)" mask="url(#mv)"/>
<rect x="35.00" y="229.00" width="183.00" height="6.00" fill="url(#a34)"/>
<rect x="35.00" y="229.00" width="183.00" height="6.00" fill="url(#a35)" mask="url(#mv)"/>
<path d="M35.0,197.3 C39.0,197.4 52.7,197.5 59.2,197.7 C65.7,197.9 69.4,198.1 73.8,198.5 C78.2,198.9 81.8,199.2 85.5,200.2 C89.2,201.2 92.8,202.8 95.7,204.3 C98.6,205.8 100.6,207.1 103.0,209.4 C105.4,211.7 108.1,215.0 110.3,218.2 C112.5,221.4 114.5,225.6 116.1,228.4 C117.7,231.2 119.2,233.9 119.8,235.0" fill="none" stroke="#1a1a1a" stroke-width="0.9"/>
<path d="M35.0,47.6 C37.0,47.9 42.8,48.7 47.0,49.5 C51.2,50.3 55.6,51.1 60.0,52.5 C64.3,53.9 68.7,55.4 73.1,57.7 C77.5,60.0 82.3,63.2 86.3,66.3 C90.2,69.4 93.5,72.8 96.8,76.1 C100.1,79.4 103.4,82.8 106.0,86.0 C108.6,89.2 110.4,91.7 112.6,95.2 C114.8,98.7 117.1,103.1 119.1,107.0 C121.1,110.9 123.0,114.9 124.8,118.5 C126.5,122.1 128.1,125.5 129.6,128.7 C131.1,131.9 131.9,133.8 133.6,137.7 C135.2,141.6 137.5,147.2 139.5,152.4 C141.5,157.6 143.5,162.7 145.4,168.6 C147.3,174.5 149.2,181.2 151.2,187.8 C153.1,194.4 155.2,200.5 157.1,208.4 C158.9,216.3 161.4,230.6 162.3,235.0" fill="none" stroke="#1a1a1a" stroke-width="0.9"/>
<path d="M136.2,24.0 C137.1,26.7 139.8,35.0 141.5,40.0 C143.2,45.0 145.0,48.7 146.7,54.2 C148.4,59.7 150.1,66.8 151.5,73.0 C152.9,79.2 154.0,85.7 155.3,91.2 C156.6,96.7 158.2,101.2 159.5,106.0 C160.8,110.8 161.4,114.0 163.0,120.0 C164.6,126.0 166.9,134.0 168.9,142.1 C170.9,150.2 173.0,159.5 174.8,168.6 C176.7,177.7 178.5,185.5 180.0,196.6 C181.5,207.7 183.0,228.6 183.6,235.0" fill="none" stroke="#1a1a1a" stroke-width="0.9"/>
<path d="M166.4,24.0 C167.1,27.3 169.3,37.5 170.5,44.0 C171.7,50.5 172.8,56.7 173.8,62.7 C174.9,68.7 175.6,72.9 176.8,80.0 C178.0,87.1 180.0,98.7 180.9,105.4 C181.8,112.1 181.3,112.7 182.4,120.0 C183.5,127.3 186.0,139.7 187.6,149.5 C189.2,159.3 190.9,168.8 192.2,178.9 C193.5,189.0 194.8,200.7 195.6,210.0 C196.4,219.3 196.7,230.8 196.9,235.0" fill="none" stroke="#1a1a1a" stroke-width="0.9"/>
<rect x="35" y="24" width="183" height="211" fill="none" stroke="#444" stroke-width="0.8"/>
<line x1="35.00" y1="235.00" x2="35.00" y2="231.00" stroke="#333" stroke-width="0.80"/>
<text x="35.0" y="249.2" text-anchor="middle" font-size="12.0">−0.5</text>
<line x1="96.00" y1="235.00" x2="96.00" y2="231.00" stroke="#333" stroke-width="0.80"/>
<text x="96.0" y="249.2" text-anchor="middle" font-size="12.0">0</text>
<line x1="157.00" y1="235.00" x2="157.00" y2="231.00" stroke="#333" stroke-width="0.80"/>
<text x="157.0" y="249.2" text-anchor="middle" font-size="12.0">0.5</text>
<line x1="218.00" y1="235.00" x2="218.00" y2="231.00" stroke="#333" stroke-width="0.80"/>
<text x="218.0" y="249.2" text-anchor="middle" font-size="12.0">1</text>
<line x1="35.00" y1="222.70" x2="39.00" y2="222.70" stroke="#333" stroke-width="0.80"/>
<text x="29.0" y="226.8" text-anchor="end" font-size="12.0">1</text>
<line x1="35.00" y1="130.50" x2="39.00" y2="130.50" stroke="#333" stroke-width="0.80"/>
<text x="29.0" y="134.6" text-anchor="end" font-size="12.0">2</text>
<line x1="35.00" y1="38.20" x2="39.00" y2="38.20" stroke="#333" stroke-width="0.80"/>
<text x="29.0" y="42.3" text-anchor="end" font-size="12.0">3</text>
<text x="126.3" y="268.4" text-anchor="middle" font-size="12.0"><tspan font-style="italic">μ</tspan><tspan font-size="8.5" dy="4">m</tspan><tspan dy="-4">/</tspan><tspan font-style="italic">E</tspan><tspan font-size="8.5" dy="4">Z</tspan></text>
<text transform="translate(9.7,129.0) rotate(-90)" text-anchor="middle" font-size="12.0"><tspan font-style="italic">T</tspan> (K)</text>
<text x="40.5" y="17.0" font-size="12.0">Gap (meV)</text>
<text x="128.6" y="17.7" text-anchor="end" font-size="12.0">10</text>
<text x="202.5" y="17.7" font-size="12.0">19</text>
<rect x="132" y="5.5" width="68" height="14" fill="url(#cba)" stroke="#444" stroke-width="0.6"/>
<text x="61.2" y="190.2" font-size="12.0">18.5</text>
<text x="93.2" y="137.9" font-size="12.0">17.5</text>
<text x="117.6" y="74.5" font-size="12.0">16.5</text>
<text x="172.8" y="46.2" font-size="12.0">15.5</text>
<text x="-0.2" y="10.8" font-size="14" font-weight="bold">a</text>
<rect x="286.40" y="24.00" width="168.00" height="9.00" fill="url(#b0)"/>
<rect x="286.40" y="24.00" width="168.00" height="9.00" fill="url(#b1)" mask="url(#mv)"/>
<rect x="286.40" y="33.00" width="168.00" height="8.00" fill="url(#b1)"/>
<rect x="286.40" y="33.00" width="168.00" height="8.00" fill="url(#b2)" mask="url(#mv)"/>
<rect x="286.40" y="41.00" width="168.00" height="9.00" fill="url(#b2)"/>
<rect x="286.40" y="41.00" width="168.00" height="9.00" fill="url(#b3)" mask="url(#mv)"/>
<rect x="286.40" y="50.00" width="168.00" height="9.00" fill="url(#b3)"/>
<rect x="286.40" y="50.00" width="168.00" height="9.00" fill="url(#b4)" mask="url(#mv)"/>
<rect x="286.40" y="59.00" width="168.00" height="9.00" fill="url(#b4)"/>
<rect x="286.40" y="59.00" width="168.00" height="9.00" fill="url(#b5)" mask="url(#mv)"/>
<rect x="286.40" y="68.00" width="168.00" height="8.00" fill="url(#b5)"/>
<rect x="286.40" y="68.00" width="168.00" height="8.00" fill="url(#b6)" mask="url(#mv)"/>
<rect x="286.40" y="76.00" width="168.00" height="9.00" fill="url(#b6)"/>
<rect x="286.40" y="76.00" width="168.00" height="9.00" fill="url(#b7)" mask="url(#mv)"/>
<rect x="286.40" y="85.00" width="168.00" height="9.00" fill="url(#b7)"/>
<rect x="286.40" y="85.00" width="168.00" height="9.00" fill="url(#b8)" mask="url(#mv)"/>
<rect x="286.40" y="94.00" width="168.00" height="9.00" fill="url(#b8)"/>
<rect x="286.40" y="94.00" width="168.00" height="9.00" fill="url(#b9)" mask="url(#mv)"/>
<rect x="286.40" y="103.00" width="168.00" height="8.00" fill="url(#b9)"/>
<rect x="286.40" y="103.00" width="168.00" height="8.00" fill="url(#b10)" mask="url(#mv)"/>
<rect x="286.40" y="111.00" width="168.00" height="9.00" fill="url(#b10)"/>
<rect x="286.40" y="111.00" width="168.00" height="9.00" fill="url(#b11)" mask="url(#mv)"/>
<rect x="286.40" y="120.00" width="168.00" height="9.00" fill="url(#b11)"/>
<rect x="286.40" y="120.00" width="168.00" height="9.00" fill="url(#b12)" mask="url(#mv)"/>
<rect x="286.40" y="129.00" width="168.00" height="9.00" fill="url(#b12)"/>
<rect x="286.40" y="129.00" width="168.00" height="9.00" fill="url(#b13)" mask="url(#mv)"/>
<rect x="286.40" y="138.00" width="168.00" height="8.00" fill="url(#b13)"/>
<rect x="286.40" y="138.00" width="168.00" height="8.00" fill="url(#b14)" mask="url(#mv)"/>
<rect x="286.40" y="146.00" width="168.00" height="9.00" fill="url(#b14)"/>
<rect x="286.40" y="146.00" width="168.00" height="9.00" fill="url(#b15)" mask="url(#mv)"/>
<rect x="286.40" y="155.00" width="168.00" height="9.00" fill="url(#b15)"/>
<rect x="286.40" y="155.00" width="168.00" height="9.00" fill="url(#b16)" mask="url(#mv)"/>
<rect x="286.40" y="164.00" width="168.00" height="8.00" fill="url(#b16)"/>
<rect x="286.40" y="164.00" width="168.00" height="8.00" fill="url(#b17)" mask="url(#mv)"/>
<rect x="286.40" y="172.00" width="168.00" height="9.00" fill="url(#b17)"/>
<rect x="286.40" y="172.00" width="168.00" height="9.00" fill="url(#b18)" mask="url(#mv)"/>
<rect x="286.40" y="181.00" width="168.00" height="9.00" fill="url(#b18)"/>
<rect x="286.40" y="181.00" width="168.00" height="9.00" fill="url(#b19)" mask="url(#mv)"/>
<rect x="286.40" y="190.00" width="168.00" height="9.00" fill="url(#b19)"/>
<rect x="286.40" y="190.00" width="168.00" height="9.00" fill="url(#b20)" mask="url(#mv)"/>
<rect x="286.40" y="199.00" width="168.00" height="8.00" fill="url(#b20)"/>
<rect x="286.40" y="199.00" width="168.00" height="8.00" fill="url(#b21)" mask="url(#mv)"/>
<rect x="286.40" y="207.00" width="168.00" height="9.00" fill="url(#b21)"/>
<rect x="286.40" y="207.00" width="168.00" height="9.00" fill="url(#b22)" mask="url(#mv)"/>
<rect x="286.40" y="216.00" width="168.00" height="9.00" fill="url(#b22)"/>
<rect x="286.40" y="216.00" width="168.00" height="9.00" fill="url(#b23)" mask="url(#mv)"/>
<rect x="286.40" y="225.00" width="168.00" height="8.60" fill="url(#b23)"/>
<rect x="286.40" y="225.00" width="168.00" height="8.60" fill="url(#b24)" mask="url(#mv)"/>
<rect x="286.4" y="24" width="168" height="209.6" fill="none" stroke="#444" stroke-width="0.8"/>
<line x1="286.50" y1="233.60" x2="286.50" y2="229.60" stroke="#333" stroke-width="0.80"/>
<text x="286.5" y="249.2" text-anchor="middle" font-size="12.0">2</text>
<line x1="342.43" y1="233.60" x2="342.43" y2="229.60" stroke="#333" stroke-width="0.80"/>
<text x="342.4" y="249.2" text-anchor="middle" font-size="12.0">3</text>
<line x1="398.36" y1="233.60" x2="398.36" y2="229.60" stroke="#333" stroke-width="0.80"/>
<text x="398.4" y="249.2" text-anchor="middle" font-size="12.0">4</text>
<line x1="454.29" y1="233.60" x2="454.29" y2="229.60" stroke="#333" stroke-width="0.80"/>
<text x="454.3" y="249.2" text-anchor="middle" font-size="12.0">5</text>
<line x1="286.40" y1="25.55" x2="290.40" y2="25.55" stroke="#333" stroke-width="0.80"/>
<text x="281.0" y="29.6" text-anchor="end" font-size="12.0">10</text>
<line x1="286.40" y1="77.37" x2="290.40" y2="77.37" stroke="#333" stroke-width="0.80"/>
<text x="281.0" y="81.5" text-anchor="end" font-size="12.0">5</text>
<line x1="286.40" y1="129.20" x2="290.40" y2="129.20" stroke="#333" stroke-width="0.80"/>
<text x="281.0" y="133.3" text-anchor="end" font-size="12.0">0</text>
<line x1="286.40" y1="181.02" x2="290.40" y2="181.02" stroke="#333" stroke-width="0.80"/>
<text x="281.0" y="185.1" text-anchor="end" font-size="12.0">−5</text>
<line x1="286.40" y1="232.85" x2="290.40" y2="232.85" stroke="#333" stroke-width="0.80"/>
<text x="281.0" y="236.9" text-anchor="end" font-size="12.0">−10</text>
<text x="371.5" y="267.7" text-anchor="middle" font-size="12.0"><tspan font-style="italic">V</tspan><tspan font-size="8.8" dy="4">BG</tspan><tspan dy="-4"> (V)</tspan></text>
<text transform="translate(251.3,128.5) rotate(-90)" text-anchor="middle" font-size="12.0"><tspan font-style="italic">V</tspan><tspan font-size="8.5" dy="4">d.c.</tspan><tspan dy="-4"> (mV)</tspan></text>
<rect x="364" y="4.3" width="67" height="14.2" fill="url(#cbs)" stroke="#444" stroke-width="0.6"/>
<text x="359.2" y="17.4" text-anchor="end" font-size="12.0">0</text>
<text x="436.1" y="17.4" font-size="12.0">20</text>
<text x="296.8" y="16.9" font-size="12.0"><tspan font-style="italic">R</tspan><tspan font-size="8.4" font-style="italic" dy="3">xx</tspan><tspan dy="-3"> (kΩ)</tspan></text>
<text x="239.9" y="10.8" font-size="14" font-weight="bold">b</text>
<rect x="513.40" y="24.10" width="168.80" height="5.90" fill="url(#c0)"/>
<rect x="513.40" y="24.10" width="168.80" height="5.90" fill="url(#c1)" mask="url(#mv)"/>
<rect x="513.40" y="30.00" width="168.80" height="6.00" fill="url(#c1)"/>
<rect x="513.40" y="30.00" width="168.80" height="6.00" fill="url(#c2)" mask="url(#mv)"/>
<rect x="513.40" y="36.00" width="168.80" height="6.00" fill="url(#c2)"/>
<rect x="513.40" y="36.00" width="168.80" height="6.00" fill="url(#c3)" mask="url(#mv)"/>
<rect x="513.40" y="42.00" width="168.80" height="6.00" fill="url(#c3)"/>
<rect x="513.40" y="42.00" width="168.80" height="6.00" fill="url(#c4)" mask="url(#mv)"/>
<rect x="513.40" y="48.00" width="168.80" height="6.00" fill="url(#c4)"/>
<rect x="513.40" y="48.00" width="168.80" height="6.00" fill="url(#c5)" mask="url(#mv)"/>
<rect x="513.40" y="54.00" width="168.80" height="6.00" fill="url(#c5)"/>
<rect x="513.40" y="54.00" width="168.80" height="6.00" fill="url(#c6)" mask="url(#mv)"/>
<rect x="513.40" y="60.00" width="168.80" height="6.00" fill="url(#c6)"/>
<rect x="513.40" y="60.00" width="168.80" height="6.00" fill="url(#c7)" mask="url(#mv)"/>
<rect x="513.40" y="66.00" width="168.80" height="6.00" fill="url(#c7)"/>
<rect x="513.40" y="66.00" width="168.80" height="6.00" fill="url(#c8)" mask="url(#mv)"/>
<rect x="513.40" y="72.00" width="168.80" height="6.00" fill="url(#c8)"/>
<rect x="513.40" y="72.00" width="168.80" height="6.00" fill="url(#c9)" mask="url(#mv)"/>
<rect x="513.40" y="78.00" width="168.80" height="6.00" fill="url(#c9)"/>
<rect x="513.40" y="78.00" width="168.80" height="6.00" fill="url(#c10)" mask="url(#mv)"/>
<rect x="513.40" y="84.00" width="168.80" height="6.00" fill="url(#c10)"/>
<rect x="513.40" y="84.00" width="168.80" height="6.00" fill="url(#c11)" mask="url(#mv)"/>
<rect x="513.40" y="90.00" width="168.80" height="6.00" fill="url(#c11)"/>
<rect x="513.40" y="90.00" width="168.80" height="6.00" fill="url(#c12)" mask="url(#mv)"/>
<rect x="513.40" y="96.00" width="168.80" height="6.00" fill="url(#c12)"/>
<rect x="513.40" y="96.00" width="168.80" height="6.00" fill="url(#c13)" mask="url(#mv)"/>
<rect x="513.40" y="102.00" width="168.80" height="6.00" fill="url(#c13)"/>
<rect x="513.40" y="102.00" width="168.80" height="6.00" fill="url(#c14)" mask="url(#mv)"/>
<rect x="513.40" y="108.00" width="168.80" height="6.00" fill="url(#c14)"/>
<rect x="513.40" y="108.00" width="168.80" height="6.00" fill="url(#c15)" mask="url(#mv)"/>
<rect x="513.40" y="114.00" width="168.80" height="6.00" fill="url(#c15)"/>
<rect x="513.40" y="114.00" width="168.80" height="6.00" fill="url(#c16)" mask="url(#mv)"/>
<rect x="513.40" y="120.00" width="168.80" height="6.00" fill="url(#c16)"/>
<rect x="513.40" y="120.00" width="168.80" height="6.00" fill="url(#c17)" mask="url(#mv)"/>
<rect x="513.40" y="126.00" width="168.80" height="6.00" fill="url(#c17)"/>
<rect x="513.40" y="126.00" width="168.80" height="6.00" fill="url(#c18)" mask="url(#mv)"/>
<rect x="513.40" y="132.00" width="168.80" height="6.00" fill="url(#c18)"/>
<rect x="513.40" y="132.00" width="168.80" height="6.00" fill="url(#c19)" mask="url(#mv)"/>
<rect x="513.40" y="138.00" width="168.80" height="6.00" fill="url(#c19)"/>
<rect x="513.40" y="138.00" width="168.80" height="6.00" fill="url(#c20)" mask="url(#mv)"/>
<rect x="513.40" y="144.00" width="168.80" height="6.00" fill="url(#c20)"/>
<rect x="513.40" y="144.00" width="168.80" height="6.00" fill="url(#c21)" mask="url(#mv)"/>
<rect x="513.40" y="150.00" width="168.80" height="6.00" fill="url(#c21)"/>
<rect x="513.40" y="150.00" width="168.80" height="6.00" fill="url(#c22)" mask="url(#mv)"/>
<rect x="513.40" y="156.00" width="168.80" height="6.00" fill="url(#c22)"/>
<rect x="513.40" y="156.00" width="168.80" height="6.00" fill="url(#c23)" mask="url(#mv)"/>
<rect x="513.40" y="162.00" width="168.80" height="6.00" fill="url(#c23)"/>
<rect x="513.40" y="162.00" width="168.80" height="6.00" fill="url(#c24)" mask="url(#mv)"/>
<rect x="513.40" y="168.00" width="168.80" height="6.00" fill="url(#c24)"/>
<rect x="513.40" y="168.00" width="168.80" height="6.00" fill="url(#c25)" mask="url(#mv)"/>
<rect x="513.40" y="174.00" width="168.80" height="6.00" fill="url(#c25)"/>
<rect x="513.40" y="174.00" width="168.80" height="6.00" fill="url(#c26)" mask="url(#mv)"/>
<rect x="513.40" y="180.00" width="168.80" height="6.00" fill="url(#c26)"/>
<rect x="513.40" y="180.00" width="168.80" height="6.00" fill="url(#c27)" mask="url(#mv)"/>
<rect x="513.40" y="186.00" width="168.80" height="6.00" fill="url(#c27)"/>
<rect x="513.40" y="186.00" width="168.80" height="6.00" fill="url(#c28)" mask="url(#mv)"/>
<rect x="513.40" y="192.00" width="168.80" height="6.00" fill="url(#c28)"/>
<rect x="513.40" y="192.00" width="168.80" height="6.00" fill="url(#c29)" mask="url(#mv)"/>
<rect x="513.40" y="198.00" width="168.80" height="6.00" fill="url(#c29)"/>
<rect x="513.40" y="198.00" width="168.80" height="6.00" fill="url(#c30)" mask="url(#mv)"/>
<rect x="513.40" y="204.00" width="168.80" height="6.00" fill="url(#c30)"/>
<rect x="513.40" y="204.00" width="168.80" height="6.00" fill="url(#c31)" mask="url(#mv)"/>
<rect x="513.40" y="210.00" width="168.80" height="6.00" fill="url(#c31)"/>
<rect x="513.40" y="210.00" width="168.80" height="6.00" fill="url(#c32)" mask="url(#mv)"/>
<rect x="513.40" y="216.00" width="168.80" height="6.00" fill="url(#c32)"/>
<rect x="513.40" y="216.00" width="168.80" height="6.00" fill="url(#c33)" mask="url(#mv)"/>
<rect x="513.40" y="222.00" width="168.80" height="6.00" fill="url(#c33)"/>
<rect x="513.40" y="222.00" width="168.80" height="6.00" fill="url(#c34)" mask="url(#mv)"/>
<rect x="513.40" y="228.00" width="168.80" height="5.90" fill="url(#c34)"/>
<rect x="513.40" y="228.00" width="168.80" height="5.90" fill="url(#c35)" mask="url(#mv)"/>
<rect x="513.4" y="24.1" width="168.8" height="209.8" fill="none" stroke="#444" stroke-width="0.8"/>
<line x1="513.40" y1="233.90" x2="513.40" y2="229.90" stroke="#333" stroke-width="0.80"/>
<text x="513.4" y="249.2" text-anchor="middle" font-size="12.0">2</text>
<line x1="569.67" y1="233.90" x2="569.67" y2="229.90" stroke="#333" stroke-width="0.80"/>
<text x="569.7" y="249.2" text-anchor="middle" font-size="12.0">3</text>
<line x1="625.94" y1="233.90" x2="625.94" y2="229.90" stroke="#333" stroke-width="0.80"/>
<text x="625.9" y="249.2" text-anchor="middle" font-size="12.0">4</text>
<line x1="682.21" y1="233.90" x2="682.21" y2="229.90" stroke="#333" stroke-width="0.80"/>
<text x="682.2" y="249.2" text-anchor="middle" font-size="12.0">5</text>
<line x1="513.40" y1="202.16" x2="517.40" y2="202.16" stroke="#333" stroke-width="0.80"/>
<text x="508.5" y="206.3" text-anchor="end" font-size="12.0">2</text>
<line x1="513.40" y1="148.62" x2="517.40" y2="148.62" stroke="#333" stroke-width="0.80"/>
<text x="508.5" y="152.7" text-anchor="end" font-size="12.0">4</text>
<line x1="513.40" y1="95.08" x2="517.40" y2="95.08" stroke="#333" stroke-width="0.80"/>
<text x="508.5" y="99.2" text-anchor="end" font-size="12.0">6</text>
<line x1="513.40" y1="41.54" x2="517.40" y2="41.54" stroke="#333" stroke-width="0.80"/>
<text x="508.5" y="45.6" text-anchor="end" font-size="12.0">8</text>
<text x="598.5" y="267.7" text-anchor="middle" font-size="12.0"><tspan font-style="italic">V</tspan><tspan font-size="8.8" dy="4">BG</tspan><tspan dy="-4"> (V)</tspan></text>
<text transform="translate(486.5,128.0) rotate(-90)" text-anchor="middle" font-size="12.0"><tspan font-style="italic">T</tspan> (K)</text>
<rect x="592" y="5.2" width="66" height="14.1" fill="url(#cbs)" stroke="#444" stroke-width="0.6"/>
<text x="586.5" y="17.7" text-anchor="end" font-size="12.0">0</text>
<text x="663.0" y="17.7" font-size="12.0">20</text>
<text x="530.0" y="17.2" font-size="12.0"><tspan font-style="italic">R</tspan><tspan font-size="8.4" font-style="italic" dy="3">xx</tspan><tspan dy="-3"> (kΩ)</tspan></text>
<text x="476.2" y="10.9" font-size="14" font-weight="bold">c</text>
<rect x="126.40" y="306.50" width="42.60" height="186.50" fill="#ebe9df"/>
<rect x="202.50" y="306.50" width="34.30" height="186.50" fill="#ebe9df"/>
<rect x="53.40" y="306.50" width="265.10" height="186.50" fill="none" stroke="#6a6a6a" stroke-width="0.9"/>
<line x1="53.40" y1="493.00" x2="53.40" y2="489.00" stroke="#6a6a6a" stroke-width="0.90"/>
<text x="53.4" y="508.6" text-anchor="middle" font-size="12.0">−10</text>
<line x1="119.68" y1="493.00" x2="119.68" y2="489.00" stroke="#6a6a6a" stroke-width="0.90"/>
<text x="119.7" y="508.6" text-anchor="middle" font-size="12.0">−5</text>
<line x1="185.95" y1="493.00" x2="185.95" y2="489.00" stroke="#6a6a6a" stroke-width="0.90"/>
<text x="186.0" y="508.6" text-anchor="middle" font-size="12.0">0</text>
<line x1="252.23" y1="493.00" x2="252.23" y2="489.00" stroke="#6a6a6a" stroke-width="0.90"/>
<text x="252.2" y="508.6" text-anchor="middle" font-size="12.0">5</text>
<line x1="318.50" y1="493.00" x2="318.50" y2="489.00" stroke="#6a6a6a" stroke-width="0.90"/>
<text x="318.5" y="508.6" text-anchor="middle" font-size="12.0">10</text>
<line x1="53.40" y1="456.00" x2="57.40" y2="456.00" stroke="#6a6a6a" stroke-width="0.90"/>
<text x="47.9" y="460.1" text-anchor="end" font-size="12.0">1</text>
<line x1="53.40" y1="381.20" x2="57.40" y2="381.20" stroke="#6a6a6a" stroke-width="0.90"/>
<text x="47.9" y="385.3" text-anchor="end" font-size="12.0">2</text>
<line x1="53.40" y1="306.50" x2="57.40" y2="306.50" stroke="#6a6a6a" stroke-width="0.90"/>
<text x="47.9" y="310.6" text-anchor="end" font-size="12.0">3</text>
<line x1="169.00" y1="306.50" x2="169.00" y2="493.00" stroke="#858585" stroke-width="1.30" stroke-dasharray="14.6,9.6" stroke-dashoffset="22.5"/>
<line x1="202.50" y1="306.50" x2="202.50" y2="493.00" stroke="#858585" stroke-width="1.30" stroke-dasharray="14.6,9.6" stroke-dashoffset="22.5"/>
<polyline points="53.4,320.6 58.0,322.5 62.0,323.3 70.0,324.0 80.0,324.6 90.0,324.8 95.0,325.5 98.0,324.5 105.0,324.0 110.0,324.8 126.4,324.5 126.4,339.7 129.0,339.7 131.8,340.5 134.6,345.6 137.2,352.6 139.8,356.0 142.6,366.6 145.3,377.1 147.9,388.3 150.6,398.0 153.2,400.0 155.9,405.6 158.5,416.0 161.2,439.2 163.8,460.7 163.8,466.8 204.5,466.8 204.5,459.7 207.1,435.6 209.8,411.7 212.4,399.0 215.0,397.7 217.7,381.7 220.3,369.5 223.0,356.2 225.6,353.5 228.3,339.4 230.9,332.3 233.6,332.0 236.2,325.5 236.2,325.5 250.0,325.2 270.0,324.5 290.0,323.5 305.0,322.8 320.5,321.8" fill="none" stroke="#d9531c" stroke-width="1.6"/>
<path d="M126.4,334.4V345.0M120.4,334.4h12.0M120.4,345.0h12.0M129.0,333.8V345.6M123.0,333.8h12.0M123.0,345.6h12.0M131.8,332.3V348.7M125.8,332.3h12.0M125.8,348.7h12.0M134.6,338.3V352.9M128.6,338.3h12.0M128.6,352.9h12.0M137.2,347.2V358.0M131.2,347.2h12.0M131.2,358.0h12.0M139.8,349.3V362.7M133.8,349.3h12.0M133.8,362.7h12.0M142.6,359.7V373.5M136.6,359.7h12.0M136.6,373.5h12.0M145.3,371.5V382.7M139.3,371.5h12.0M139.3,382.7h12.0M147.9,380.4V396.2M141.9,380.4h12.0M141.9,396.2h12.0M150.6,392.5V403.5M144.6,392.5h12.0M144.6,403.5h12.0M153.2,393.4V406.6M147.2,393.4h12.0M147.2,406.6h12.0M155.9,398.5V412.7M149.9,398.5h12.0M149.9,412.7h12.0M158.5,409.3V422.7M152.5,409.3h12.0M152.5,422.7h12.0M161.2,431.9V446.5M155.2,431.9h12.0M155.2,446.5h12.0M163.8,452.7V468.7M157.8,452.7h12.0M157.8,468.7h12.0M204.5,450.9V468.5M198.5,450.9h12.0M198.5,468.5h12.0M207.1,429.5V441.7M201.1,429.5h12.0M201.1,441.7h12.0M209.8,404.1V419.3M203.8,404.1h12.0M203.8,419.3h12.0M212.4,391.2V406.8M206.4,391.2h12.0M206.4,406.8h12.0M215.0,391.5V403.9M209.0,391.5h12.0M209.0,403.9h12.0M217.7,376.7V386.7M211.7,376.7h12.0M211.7,386.7h12.0M220.3,360.6V378.4M214.3,360.6h12.0M214.3,378.4h12.0M223.0,350.0V362.4M217.0,350.0h12.0M217.0,362.4h12.0M225.6,347.2V359.8M219.6,347.2h12.0M219.6,359.8h12.0M228.3,330.8V348.0M222.3,330.8h12.0M222.3,348.0h12.0M230.9,325.0V339.6M224.9,325.0h12.0M224.9,339.6h12.0M233.6,325.1V338.9M227.6,325.1h12.0M227.6,338.9h12.0M236.2,317.4V333.6M230.2,317.4h12.0M230.2,333.6h12.0" stroke="#d9531c" stroke-width="1.00" fill="none" stroke-opacity="0.90"/>
<path d="M53.4,317.1V324.1M48.4,317.1h10.0M48.4,324.1h10.0M61.4,319.7V326.7M56.4,319.7h10.0M56.4,326.7h10.0M69.3,320.4V327.4M64.3,320.4h10.0M64.3,327.4h10.0M77.3,320.9V327.9M72.3,320.9h10.0M72.3,327.9h10.0M85.2,321.2V328.2M80.2,321.2h10.0M80.2,328.2h10.0M93.2,321.7V328.7M88.2,321.7h10.0M88.2,328.7h10.0M101.1,320.8V327.8M96.1,320.8h10.0M96.1,327.8h10.0M109.1,321.2V328.2M104.1,321.2h10.0M104.1,328.2h10.0M117.0,321.2V328.2M112.0,321.2h10.0M112.0,328.2h10.0M125.0,321.0V328.0M120.0,321.0h10.0M120.0,328.0h10.0M236.3,322.0V329.0M231.3,322.0h10.0M231.3,329.0h10.0M244.3,321.8V328.8M239.3,321.8h10.0M239.3,328.8h10.0M252.2,321.6V328.6M247.2,321.6h10.0M247.2,328.6h10.0M260.2,321.3V328.3M255.2,321.3h10.0M255.2,328.3h10.0M268.1,321.1V328.1M263.1,321.1h10.0M263.1,328.1h10.0M276.1,320.7V327.7M271.1,320.7h10.0M271.1,327.7h10.0M284.0,320.3V327.3M279.0,320.3h10.0M279.0,327.3h10.0M292.0,319.9V326.9M287.0,319.9h10.0M287.0,326.9h10.0M299.9,319.5V326.5M294.9,319.5h10.0M294.9,326.5h10.0M307.9,319.1V326.1M302.9,319.1h10.0M302.9,326.1h10.0M315.8,318.6V325.6M310.8,318.6h10.0M310.8,325.6h10.0" stroke="#d9531c" stroke-width="0.90" fill="none" stroke-opacity="0.80"/>
<path d="M53.4,315.2V324.5M46.4,315.2h14.0M46.4,324.5h14.0M320.4,320.4V325.4M313.4,320.4h14.0M313.4,325.4h14.0" stroke="#d9531c" stroke-width="1.00" fill="none" stroke-opacity="1.00"/>
<path d="M158.5,470.6H210.6M160,463.2H209" stroke="#d9531c" stroke-width="1.1"/>
<g fill="#d9531c"><circle cx="53.4" cy="320.6" r="3.3"/><circle cx="55.4" cy="321.4" r="3.3"/><circle cx="57.4" cy="322.3" r="3.3"/><circle cx="59.4" cy="322.8" r="3.3"/><circle cx="61.4" cy="323.2" r="3.3"/><circle cx="63.4" cy="323.4" r="3.3"/><circle cx="65.4" cy="323.6" r="3.3"/><circle cx="67.4" cy="323.8" r="3.3"/><circle cx="69.4" cy="323.9" r="3.3"/><circle cx="71.4" cy="324.1" r="3.3"/><circle cx="73.4" cy="324.2" r="3.3"/><circle cx="75.4" cy="324.3" r="3.3"/><circle cx="77.4" cy="324.4" r="3.3"/><circle cx="79.4" cy="324.6" r="3.3"/><circle cx="81.4" cy="324.6" r="3.3"/><circle cx="83.4" cy="324.7" r="3.3"/><circle cx="85.4" cy="324.7" r="3.3"/><circle cx="87.4" cy="324.7" r="3.3"/><circle cx="89.4" cy="324.8" r="3.3"/><circle cx="91.4" cy="325.0" r="3.3"/><circle cx="93.4" cy="325.3" r="3.3"/><circle cx="95.4" cy="325.4" r="3.3"/><circle cx="97.4" cy="324.7" r="3.3"/><circle cx="99.4" cy="324.4" r="3.3"/><circle cx="101.4" cy="324.3" r="3.3"/><circle cx="103.4" cy="324.1" r="3.3"/><circle cx="105.4" cy="324.1" r="3.3"/><circle cx="107.4" cy="324.4" r="3.3"/><circle cx="109.4" cy="324.7" r="3.3"/><circle cx="111.4" cy="324.8" r="3.3"/><circle cx="113.4" cy="324.7" r="3.3"/><circle cx="115.4" cy="324.7" r="3.3"/><circle cx="117.4" cy="324.7" r="3.3"/><circle cx="119.4" cy="324.6" r="3.3"/><circle cx="121.4" cy="324.6" r="3.3"/><circle cx="123.4" cy="324.6" r="3.3"/><circle cx="125.4" cy="324.5" r="3.3"/><circle cx="126.4" cy="339.7" r="3.3"/><circle cx="129.0" cy="339.7" r="3.3"/><circle cx="131.8" cy="340.5" r="3.3"/><circle cx="134.6" cy="345.6" r="3.3"/><circle cx="137.2" cy="352.6" r="3.3"/><circle cx="139.8" cy="356.0" r="3.3"/><circle cx="142.6" cy="366.6" r="3.3"/><circle cx="145.3" cy="377.1" r="3.3"/><circle cx="147.9" cy="388.3" r="3.3"/><circle cx="150.6" cy="398.0" r="3.3"/><circle cx="153.2" cy="400.0" r="3.3"/><circle cx="155.9" cy="405.6" r="3.3"/><circle cx="158.5" cy="416.0" r="3.3"/><circle cx="161.2" cy="439.2" r="3.3"/><circle cx="163.8" cy="460.7" r="3.3"/><circle cx="167.3" cy="466.7" r="3.3"/><circle cx="169.3" cy="466.7" r="3.3"/><circle cx="171.3" cy="466.7" r="3.3"/><circle cx="173.3" cy="466.7" r="3.3"/><circle cx="175.3" cy="466.7" r="3.3"/><circle cx="177.3" cy="466.7" r="3.3"/><circle cx="179.3" cy="466.7" r="3.3"/><circle cx="181.3" cy="466.7" r="3.3"/><circle cx="183.3" cy="466.7" r="3.3"/><circle cx="185.3" cy="466.7" r="3.3"/><circle cx="187.3" cy="466.7" r="3.3"/><circle cx="189.3" cy="466.7" r="3.3"/><circle cx="191.3" cy="466.7" r="3.3"/><circle cx="193.3" cy="466.7" r="3.3"/><circle cx="195.3" cy="466.7" r="3.3"/><circle cx="197.3" cy="466.7" r="3.3"/><circle cx="199.3" cy="466.7" r="3.3"/><circle cx="201.3" cy="466.7" r="3.3"/><circle cx="204.5" cy="459.7" r="3.3"/><circle cx="207.1" cy="435.6" r="3.3"/><circle cx="209.8" cy="411.7" r="3.3"/><circle cx="212.4" cy="399.0" r="3.3"/><circle cx="215.0" cy="397.7" r="3.3"/><circle cx="217.7" cy="381.7" r="3.3"/><circle cx="220.3" cy="369.5" r="3.3"/><circle cx="223.0" cy="356.2" r="3.3"/><circle cx="225.6" cy="353.5" r="3.3"/><circle cx="228.3" cy="339.4" r="3.3"/><circle cx="230.9" cy="332.3" r="3.3"/><circle cx="233.6" cy="332.0" r="3.3"/><circle cx="236.2" cy="325.5" r="3.3"/><circle cx="236.2" cy="325.5" r="3.3"/><circle cx="238.2" cy="325.5" r="3.3"/><circle cx="240.2" cy="325.4" r="3.3"/><circle cx="242.2" cy="325.4" r="3.3"/><circle cx="244.2" cy="325.3" r="3.3"/><circle cx="246.2" cy="325.3" r="3.3"/><circle cx="248.2" cy="325.2" r="3.3"/><circle cx="250.2" cy="325.2" r="3.3"/><circle cx="252.2" cy="325.1" r="3.3"/><circle cx="254.2" cy="325.1" r="3.3"/><circle cx="256.2" cy="325.0" r="3.3"/><circle cx="258.2" cy="324.9" r="3.3"/><circle cx="260.2" cy="324.8" r="3.3"/><circle cx="262.2" cy="324.8" r="3.3"/><circle cx="264.2" cy="324.7" r="3.3"/><circle cx="266.2" cy="324.6" r="3.3"/><circle cx="268.2" cy="324.6" r="3.3"/><circle cx="270.2" cy="324.5" r="3.3"/><circle cx="272.2" cy="324.4" r="3.3"/><circle cx="274.2" cy="324.3" r="3.3"/><circle cx="276.2" cy="324.2" r="3.3"/><circle cx="278.2" cy="324.1" r="3.3"/><circle cx="280.2" cy="324.0" r="3.3"/><circle cx="282.2" cy="323.9" r="3.3"/><circle cx="284.2" cy="323.8" r="3.3"/><circle cx="286.2" cy="323.7" r="3.3"/><circle cx="288.2" cy="323.6" r="3.3"/><circle cx="290.2" cy="323.5" r="3.3"/><circle cx="292.2" cy="323.4" r="3.3"/><circle cx="294.2" cy="323.3" r="3.3"/><circle cx="296.2" cy="323.2" r="3.3"/><circle cx="298.2" cy="323.1" r="3.3"/><circle cx="300.2" cy="323.0" r="3.3"/><circle cx="302.2" cy="322.9" r="3.3"/><circle cx="304.2" cy="322.8" r="3.3"/><circle cx="306.2" cy="322.7" r="3.3"/><circle cx="308.2" cy="322.6" r="3.3"/><circle cx="310.2" cy="322.5" r="3.3"/><circle cx="312.2" cy="322.3" r="3.3"/><circle cx="314.2" cy="322.2" r="3.3"/><circle cx="316.2" cy="322.1" r="3.3"/><circle cx="318.2" cy="321.9" r="3.3"/><circle cx="320.2" cy="321.8" r="3.3"/></g>
<text x="161.9" y="529.0" font-size="12.0"><tspan font-style="italic">V</tspan><tspan font-size="8.5" dy="4">d.c.</tspan><tspan dy="-4"> (mV)</tspan></text>
<text transform="translate(29.3,399.8) rotate(-90)" text-anchor="middle" font-size="12.0"><tspan font-style="italic">T</tspan> (K)</text>
<text x="-0.6" y="307.5" font-size="14" font-weight="bold">d</text>
<rect x="477.00" y="306.80" width="42.80" height="186.20" fill="#ebe9df"/>
<rect x="555.60" y="306.80" width="34.20" height="186.20" fill="#ebe9df"/>
<rect x="404.40" y="306.80" width="266.10" height="186.20" fill="none" stroke="#6a6a6a" stroke-width="0.9"/>
<line x1="404.40" y1="493.00" x2="404.40" y2="489.00" stroke="#6a6a6a" stroke-width="0.90"/>
<text x="404.4" y="508.6" text-anchor="middle" font-size="12.0">−10</text>
<line x1="470.92" y1="493.00" x2="470.92" y2="489.00" stroke="#6a6a6a" stroke-width="0.90"/>
<text x="470.9" y="508.6" text-anchor="middle" font-size="12.0">−5</text>
<line x1="537.45" y1="493.00" x2="537.45" y2="489.00" stroke="#6a6a6a" stroke-width="0.90"/>
<text x="537.5" y="508.6" text-anchor="middle" font-size="12.0">0</text>
<line x1="603.98" y1="493.00" x2="603.98" y2="489.00" stroke="#6a6a6a" stroke-width="0.90"/>
<text x="604.0" y="508.6" text-anchor="middle" font-size="12.0">5</text>
<line x1="670.50" y1="493.00" x2="670.50" y2="489.00" stroke="#6a6a6a" stroke-width="0.90"/>
<text x="670.5" y="508.6" text-anchor="middle" font-size="12.0">10</text>
<line x1="404.40" y1="486.60" x2="408.40" y2="486.60" stroke="#6a6a6a" stroke-width="0.90"/>
<text x="398.9" y="490.7" text-anchor="end" font-size="12.0">−0.5</text>
<line x1="404.40" y1="420.00" x2="408.40" y2="420.00" stroke="#6a6a6a" stroke-width="0.90"/>
<text x="398.9" y="424.1" text-anchor="end" font-size="12.0">0</text>
<line x1="404.40" y1="353.30" x2="408.40" y2="353.30" stroke="#6a6a6a" stroke-width="0.90"/>
<text x="398.9" y="357.4" text-anchor="end" font-size="12.0">0.5</text>
<path d="M404.4,327.1V338.3M407.1,325.4V340.3M409.7,325.9V340.1M412.4,327.3V341.0M415.0,326.9V344.1M417.7,326.8V346.3M420.4,329.4V345.9M423.0,329.3V348.7M425.7,331.3V349.3M428.3,330.9V352.0M431.0,331.5V353.1M433.7,333.1V352.1M436.3,331.2V354.6M439.0,333.5V356.3M441.7,334.9V359.8M444.3,335.4V364.3M447.0,337.3V365.7M449.6,335.8V369.9M452.3,335.4V373.5M455.0,340.2V372.1M457.6,336.7V379.0M460.3,340.0V379.1M462.9,340.3V382.4M465.6,343.7V383.3M468.3,341.4V389.8M470.9,346.6V390.6M473.6,346.4V400.1M476.2,356.1V402.4M477.5,360.0V418.0M481.0,365.0V474.9M484.0,366.0V486.9M486.5,366.9V434.6M489.5,370.0V445.7M492.0,371.0V438.0M494.5,375.4V486.9M497.0,372.9V486.9M500.0,372.0V486.9M502.5,369.4V486.9M505.0,370.0V486.9M507.5,372.0V486.9M510.0,371.0V486.9M512.5,374.6V486.9M515.0,365.0V486.9M518.0,362.6V486.9M558.3,416.8V486.7M576.6,419.7V486.7M579.5,420.0V486.7M582.5,420.7V486.7M585.4,425.6V486.7M587.8,425.6V486.7M590.4,403.0V486.7M592.9,405.0V486.7M595.7,400.0V486.7M598.2,393.0V486.7M600.8,389.0V486.7M603.1,384.0V486.7M606.1,376.0V480.0M608.5,367.8V466.4M611.2,363.8V424.4M613.8,360.7V422.3M616.5,361.6V415.8M619.1,359.6V403.6M621.8,356.8V395.0M624.5,355.9V395.7M627.1,352.9V395.6M629.8,349.9V389.1M632.4,343.3V381.2M635.1,341.8V375.1M637.8,341.4V374.0M640.4,340.0V365.6M643.1,340.4V366.0M645.8,341.1V362.8M648.4,337.3V360.4M651.1,339.9V360.8M653.7,340.5V366.1M656.4,337.4V362.1M659.1,334.7V354.5M661.7,332.3V348.6M664.4,330.6V345.7M667.0,329.1V345.7M669.7,328.9V342.4" stroke="#e9a91e" stroke-width="1.10" fill="none" stroke-opacity="0.72"/>
<g fill="#e9a91e"><circle cx="404.4" cy="330.8" r="3.3"/><circle cx="407.1" cy="333.0" r="3.3"/><circle cx="409.7" cy="331.8" r="3.3"/><circle cx="412.4" cy="335.2" r="3.3"/><circle cx="415.0" cy="335.1" r="3.3"/><circle cx="417.7" cy="336.1" r="3.3"/><circle cx="420.4" cy="339.3" r="3.3"/><circle cx="423.0" cy="338.6" r="3.3"/><circle cx="425.7" cy="339.7" r="3.3"/><circle cx="428.3" cy="340.9" r="3.3"/><circle cx="431.0" cy="342.2" r="3.3"/><circle cx="433.7" cy="341.0" r="3.3"/><circle cx="436.3" cy="343.1" r="3.3"/><circle cx="439.0" cy="346.6" r="3.3"/><circle cx="441.7" cy="347.6" r="3.3"/><circle cx="444.3" cy="350.8" r="3.3"/><circle cx="447.0" cy="353.3" r="3.3"/><circle cx="449.6" cy="354.2" r="3.3"/><circle cx="452.3" cy="355.4" r="3.3"/><circle cx="455.0" cy="357.4" r="3.3"/><circle cx="457.6" cy="359.1" r="3.3"/><circle cx="460.3" cy="358.5" r="3.3"/><circle cx="462.9" cy="361.3" r="3.3"/><circle cx="465.6" cy="362.9" r="3.3"/><circle cx="468.3" cy="364.7" r="3.3"/><circle cx="470.9" cy="368.9" r="3.3"/><circle cx="473.6" cy="372.5" r="3.3"/><circle cx="476.2" cy="379.7" r="3.3"/><circle cx="480.3" cy="389.5" r="3.3"/><circle cx="483.7" cy="391.7" r="3.3"/><circle cx="487.1" cy="390.9" r="3.3"/><circle cx="489.6" cy="391.5" r="3.3"/><circle cx="492.3" cy="391.7" r="3.3"/><circle cx="494.9" cy="401.1" r="3.3"/><circle cx="497.5" cy="400.0" r="3.3"/><circle cx="500.0" cy="398.6" r="3.3"/><circle cx="502.6" cy="400.5" r="3.3"/><circle cx="505.1" cy="404.6" r="3.3"/><circle cx="508.6" cy="411.4" r="3.3"/><circle cx="510.3" cy="395.1" r="3.3"/><circle cx="513.7" cy="405.4" r="3.3"/><circle cx="516.0" cy="390.0" r="3.3"/><circle cx="518.9" cy="424.8" r="3.3"/><circle cx="558.3" cy="451.8" r="3.3"/><circle cx="574.0" cy="485.7" r="3.3"/><circle cx="576.6" cy="453.2" r="3.3"/><circle cx="579.5" cy="453.2" r="3.3"/><circle cx="582.5" cy="456.1" r="3.3"/><circle cx="585.4" cy="456.1" r="3.3"/><circle cx="587.8" cy="456.1" r="3.3"/><circle cx="590.4" cy="480.2" r="3.3"/><circle cx="592.9" cy="445.9" r="3.3"/><circle cx="595.7" cy="457.1" r="3.3"/><circle cx="598.2" cy="453.2" r="3.3"/><circle cx="600.8" cy="447.3" r="3.3"/><circle cx="603.1" cy="440.4" r="3.3"/><circle cx="606.1" cy="412.8" r="3.3"/><circle cx="521.5" cy="419.5" r="3.3"/><circle cx="524.2" cy="419.5" r="3.3"/><circle cx="526.8" cy="419.5" r="3.3"/><circle cx="529.5" cy="419.5" r="3.3"/><circle cx="532.1" cy="419.5" r="3.3"/><circle cx="534.8" cy="419.5" r="3.3"/><circle cx="537.5" cy="419.5" r="3.3"/><circle cx="540.1" cy="419.5" r="3.3"/><circle cx="542.8" cy="419.5" r="3.3"/><circle cx="545.4" cy="419.5" r="3.3"/><circle cx="548.1" cy="419.5" r="3.3"/><circle cx="550.8" cy="419.5" r="3.3"/><circle cx="608.8" cy="393.2" r="3.3"/><circle cx="611.5" cy="384.2" r="3.3"/><circle cx="614.1" cy="382.3" r="3.3"/><circle cx="616.8" cy="380.2" r="3.3"/><circle cx="619.4" cy="377.9" r="3.3"/><circle cx="622.1" cy="373.6" r="3.3"/><circle cx="624.8" cy="371.1" r="3.3"/><circle cx="627.4" cy="369.1" r="3.3"/><circle cx="630.1" cy="364.6" r="3.3"/><circle cx="632.7" cy="361.1" r="3.3"/><circle cx="635.4" cy="358.6" r="3.3"/><circle cx="638.1" cy="356.1" r="3.3"/><circle cx="640.7" cy="354.5" r="3.3"/><circle cx="643.4" cy="351.0" r="3.3"/><circle cx="646.1" cy="349.2" r="3.3"/><circle cx="648.7" cy="348.0" r="3.3"/><circle cx="651.4" cy="348.1" r="3.3"/><circle cx="654.0" cy="349.6" r="3.3"/><circle cx="656.7" cy="344.4" r="3.3"/><circle cx="659.4" cy="342.9" r="3.3"/><circle cx="662.0" cy="339.3" r="3.3"/><circle cx="664.7" cy="338.0" r="3.3"/><circle cx="667.3" cy="336.8" r="3.3"/><circle cx="670.0" cy="335.5" r="3.3"/></g>
<text x="512.0" y="529.0" font-size="12.0"><tspan font-style="italic">V</tspan><tspan font-size="8.5" dy="4">d.c.</tspan><tspan dy="-4"> (mV)</tspan></text>
<text transform="translate(363.5,399.0) rotate(-90)" text-anchor="middle" font-size="12.0"><tspan font-style="italic">μ</tspan><tspan font-size="8.5" dy="4">m</tspan><tspan dy="-4">/</tspan><tspan font-style="italic">E</tspan><tspan font-size="8.5" dy="4">Z</tspan></text>
<text x="350.4" y="307.6" font-size="16" font-weight="bold" font-family="Liberation Serif, serif">e</text>
<text x="428.8" y="394.6" font-size="12.0">High</text>
<text x="637.2" y="394.6" font-size="12.0">High</text>
<text transform="translate(503.4,337.0) rotate(-90)" text-anchor="middle" font-size="12.0">Medium</text>
<text transform="translate(577.0,337.0) rotate(-90)" text-anchor="middle" font-size="12.0">Medium</text>
<text transform="translate(534.2,453.0) rotate(-90)" text-anchor="middle" font-size="12.0">No</text>
<text transform="translate(547.2,453.0) rotate(-90)" text-anchor="middle" font-size="12.0">magnons</text>
<rect x="125.80" y="562.10" width="43.40" height="186.40" fill="#ebe9df"/>
<rect x="202.80" y="562.10" width="33.90" height="186.40" fill="#ebe9df"/>
<rect x="53.30" y="562.10" width="265.10" height="186.40" fill="none" stroke="#6a6a6a" stroke-width="0.9"/>
<line x1="53.30" y1="748.50" x2="53.30" y2="744.50" stroke="#6a6a6a" stroke-width="0.90"/>
<text x="53.3" y="764.6" text-anchor="middle" font-size="13.8">−10</text>
<line x1="119.57" y1="748.50" x2="119.57" y2="744.50" stroke="#6a6a6a" stroke-width="0.90"/>
<text x="119.6" y="764.6" text-anchor="middle" font-size="13.8">−5</text>
<line x1="185.85" y1="748.50" x2="185.85" y2="744.50" stroke="#6a6a6a" stroke-width="0.90"/>
<text x="185.8" y="764.6" text-anchor="middle" font-size="13.8">0</text>
<line x1="252.12" y1="748.50" x2="252.12" y2="744.50" stroke="#6a6a6a" stroke-width="0.90"/>
<text x="252.1" y="764.6" text-anchor="middle" font-size="13.8">5</text>
<line x1="318.40" y1="748.50" x2="318.40" y2="744.50" stroke="#6a6a6a" stroke-width="0.90"/>
<text x="318.4" y="764.6" text-anchor="middle" font-size="13.8">10</text>
<line x1="53.30" y1="748.50" x2="57.30" y2="748.50" stroke="#6a6a6a" stroke-width="0.90"/>
<text x="47.8" y="752.6" text-anchor="end" font-size="12.0">0</text>
<line x1="53.30" y1="707.20" x2="57.30" y2="707.20" stroke="#6a6a6a" stroke-width="0.90"/>
<text x="47.8" y="711.3" text-anchor="end" font-size="12.0">1</text>
<line x1="53.30" y1="665.80" x2="57.30" y2="665.80" stroke="#6a6a6a" stroke-width="0.90"/>
<text x="47.8" y="669.9" text-anchor="end" font-size="12.0">2</text>
<line x1="53.30" y1="624.40" x2="57.30" y2="624.40" stroke="#6a6a6a" stroke-width="0.90"/>
<text x="47.8" y="628.5" text-anchor="end" font-size="12.0">3</text>
<line x1="53.30" y1="583.10" x2="57.30" y2="583.10" stroke="#6a6a6a" stroke-width="0.90"/>
<text x="47.8" y="587.2" text-anchor="end" font-size="12.0">4</text>
<path d="M53.3,562.1V669.2M55.9,562.1V668.3M58.6,579.8V681.3M61.2,562.1V669.2M63.9,578.0V676.2M66.5,584.3V683.7M69.2,592.5V683.9M71.8,592.8V689.2M74.5,609.9V698.4M77.1,615.0V697.2M79.8,620.7V695.2M82.4,628.0V698.9M85.1,627.3V701.7M87.7,624.9V704.4M90.4,644.4V707.9M93.0,654.8V716.3M95.7,656.0V714.6M98.3,658.1V714.3M101.0,674.7V725.6M103.6,669.9V720.0M106.3,679.6V725.0M108.9,685.4V731.0M111.6,689.7V730.6M114.2,692.9V734.5M116.9,699.1V735.0M119.5,706.4V735.2M122.2,712.4V740.4M124.8,717.7V746.5M127.5,725.9V747.6M130.1,726.8V748.5M132.8,734.6V746.6M135.4,732.9V748.5M138.1,731.9V748.5M140.7,734.5V748.5M143.4,737.7V748.5M146.0,739.8V748.5M148.7,739.5V748.5M250.0,740.7V748.5M252.7,736.8V748.5M255.3,731.2V748.5M258.0,724.4V747.8M260.6,722.4V743.9M263.2,717.2V744.5M265.9,714.9V743.0M268.6,712.3V743.4M271.2,709.1V739.2M273.9,706.0V733.9M276.5,694.5V733.1M279.2,680.3V729.5M281.8,685.3V729.8M284.5,677.8V726.5M287.1,668.6V720.1M289.8,660.4V716.1M292.4,654.3V716.5M295.1,651.5V709.7M297.7,637.7V710.3M300.4,634.7V709.0M303.0,655.5V719.2M305.7,639.8V704.9M308.3,612.7V692.5M311.0,601.8V694.3M313.6,587.3V683.5M316.3,584.5V681.1M318.9,569.0V675.1" stroke="#7b2b8e" stroke-width="1.10" fill="none" stroke-opacity="0.72"/>
<g fill="#7b2b8e"><circle cx="53.3" cy="614.7" r="3.3"/><circle cx="56.5" cy="622.5" r="3.3"/><circle cx="58.7" cy="637.9" r="3.3"/><circle cx="61.3" cy="615.3" r="3.3"/><circle cx="64.0" cy="634.7" r="3.3"/><circle cx="66.6" cy="640.6" r="3.3"/><circle cx="69.3" cy="644.6" r="3.3"/><circle cx="72.0" cy="647.2" r="3.3"/><circle cx="74.1" cy="659.2" r="3.3"/><circle cx="77.3" cy="661.4" r="3.3"/><circle cx="80.0" cy="663.2" r="3.3"/><circle cx="82.6" cy="668.6" r="3.3"/><circle cx="85.8" cy="669.4" r="3.3"/><circle cx="88.5" cy="669.4" r="3.3"/><circle cx="90.6" cy="681.4" r="3.3"/><circle cx="93.3" cy="689.9" r="3.3"/><circle cx="96.5" cy="688.5" r="3.3"/><circle cx="98.6" cy="689.9" r="3.3"/><circle cx="101.3" cy="704.5" r="3.3"/><circle cx="103.9" cy="697.3" r="3.3"/><circle cx="106.1" cy="704.5" r="3.3"/><circle cx="109.3" cy="711.2" r="3.3"/><circle cx="111.9" cy="712.5" r="3.3"/><circle cx="115.9" cy="717.9" r="3.3"/><circle cx="118.6" cy="720.5" r="3.3"/><circle cx="121.3" cy="725.8" r="3.3"/><circle cx="123.9" cy="731.2" r="3.3"/><circle cx="126.6" cy="736.5" r="3.3"/><circle cx="129.3" cy="739.2" r="3.3"/><circle cx="133.3" cy="741.3" r="3.3"/><circle cx="135.9" cy="741.3" r="3.3"/><circle cx="139.9" cy="743.2" r="3.3"/><circle cx="143.9" cy="745.8" r="3.3"/><circle cx="147.0" cy="748.0" r="3.3"/><circle cx="250.0" cy="748.0" r="3.3"/><circle cx="252.7" cy="744.7" r="3.3"/><circle cx="255.3" cy="741.0" r="3.3"/><circle cx="258.0" cy="736.7" r="3.3"/><circle cx="260.6" cy="734.0" r="3.3"/><circle cx="262.0" cy="732.7" r="3.3"/><circle cx="264.6" cy="731.0" r="3.3"/><circle cx="266.0" cy="730.0" r="3.3"/><circle cx="268.6" cy="729.0" r="3.3"/><circle cx="270.0" cy="727.3" r="3.3"/><circle cx="272.7" cy="723.3" r="3.3"/><circle cx="275.3" cy="719.3" r="3.3"/><circle cx="278.0" cy="711.3" r="3.3"/><circle cx="280.7" cy="702.0" r="3.3"/><circle cx="282.0" cy="711.3" r="3.3"/><circle cx="286.0" cy="700.7" r="3.3"/><circle cx="288.7" cy="692.7" r="3.3"/><circle cx="292.7" cy="688.7" r="3.3"/><circle cx="295.3" cy="684.0" r="3.3"/><circle cx="298.0" cy="677.5" r="3.3"/><circle cx="302.0" cy="675.3" r="3.3"/><circle cx="302.5" cy="693.5" r="3.3"/><circle cx="306.0" cy="674.8" r="3.3"/><circle cx="307.3" cy="658.0" r="3.3"/><circle cx="310.0" cy="658.0" r="3.3"/><circle cx="314.0" cy="640.0" r="3.3"/><circle cx="316.1" cy="640.0" r="3.3"/><circle cx="318.5" cy="629.2" r="3.3"/><circle cx="147.0" cy="748.0" r="3.3"/><circle cx="149.7" cy="748.0" r="3.3"/><circle cx="152.3" cy="748.0" r="3.3"/><circle cx="155.0" cy="748.0" r="3.3"/><circle cx="157.6" cy="748.0" r="3.3"/><circle cx="160.3" cy="748.0" r="3.3"/><circle cx="162.9" cy="748.0" r="3.3"/><circle cx="165.6" cy="748.0" r="3.3"/><circle cx="168.2" cy="748.0" r="3.3"/><circle cx="170.9" cy="748.0" r="3.3"/><circle cx="173.5" cy="748.0" r="3.3"/><circle cx="176.2" cy="748.0" r="3.3"/><circle cx="178.8" cy="748.0" r="3.3"/><circle cx="181.5" cy="748.0" r="3.3"/><circle cx="184.1" cy="748.0" r="3.3"/><circle cx="186.8" cy="748.0" r="3.3"/><circle cx="189.4" cy="748.0" r="3.3"/><circle cx="192.1" cy="748.0" r="3.3"/><circle cx="194.7" cy="748.0" r="3.3"/><circle cx="197.4" cy="748.0" r="3.3"/><circle cx="200.0" cy="748.0" r="3.3"/><circle cx="202.7" cy="748.0" r="3.3"/><circle cx="205.3" cy="748.0" r="3.3"/><circle cx="220.7" cy="748.0" r="3.3"/><circle cx="223.3" cy="748.0" r="3.3"/><circle cx="226.0" cy="748.0" r="3.3"/><circle cx="228.7" cy="748.0" r="3.3"/><circle cx="231.3" cy="748.0" r="3.3"/><circle cx="234.0" cy="748.0" r="3.3"/><circle cx="236.6" cy="748.0" r="3.3"/><circle cx="239.3" cy="748.0" r="3.3"/><circle cx="241.9" cy="748.0" r="3.3"/><circle cx="244.6" cy="748.0" r="3.3"/><circle cx="247.2" cy="748.0" r="3.3"/><circle cx="249.9" cy="748.0" r="3.3"/></g>
<text x="161.9" y="782.8" font-size="12.0"><tspan font-style="italic">V</tspan><tspan font-size="8.5" dy="4">d.c.</tspan><tspan dy="-4"> (mV)</tspan></text>
<text transform="translate(26.0,655.6) rotate(-90)" text-anchor="middle" font-size="12.0"><tspan font-style="italic">n</tspan><tspan font-size="8.8" dy="2.5">m</tspan><tspan dy="-2.5"> (10</tspan><tspan font-size="8.8" dy="-4.5">−3</tspan><tspan dy="4.5"> </tspan><tspan font-style="italic">φ</tspan><tspan font-size="8.8" dy="2.5">0</tspan><tspan font-size="8.8" dy="-7">−1</tspan><tspan dy="4.5">)</tspan></text>
<text x="-1" y="563.6" font-size="14" font-weight="bold">f</text>
<text x="85.3" y="601.0" font-size="12.0">High</text>
<text x="259.5" y="601.0" font-size="12.0">High</text>
<text transform="translate(151.8,629.0) rotate(-90)" text-anchor="middle" font-size="12.0">Medium</text>
<text transform="translate(225.2,629.0) rotate(-90)" text-anchor="middle" font-size="12.0">Medium</text>
<text transform="translate(184.2,675.0) rotate(-90)" text-anchor="middle" font-size="12.0">No</text>
<text transform="translate(196.2,675.0) rotate(-90)" text-anchor="middle" font-size="12.0">magnons</text>
<rect x="475.90" y="562.50" width="43.00" height="185.40" fill="#ebe9df"/>
<rect x="556.00" y="562.50" width="34.10" height="185.40" fill="#ebe9df"/>
<rect x="404.60" y="562.50" width="265.70" height="185.40" fill="none" stroke="#6a6a6a" stroke-width="0.9"/>
<line x1="404.60" y1="747.90" x2="404.60" y2="743.90" stroke="#6a6a6a" stroke-width="0.90"/>
<text x="404.6" y="763.0" text-anchor="middle" font-size="12.0">−10</text>
<line x1="471.02" y1="747.90" x2="471.02" y2="743.90" stroke="#6a6a6a" stroke-width="0.90"/>
<text x="471.0" y="763.0" text-anchor="middle" font-size="12.0">−5</text>
<line x1="537.45" y1="747.90" x2="537.45" y2="743.90" stroke="#6a6a6a" stroke-width="0.90"/>
<text x="537.5" y="763.0" text-anchor="middle" font-size="12.0">0</text>
<line x1="603.88" y1="747.90" x2="603.88" y2="743.90" stroke="#6a6a6a" stroke-width="0.90"/>
<text x="603.9" y="763.0" text-anchor="middle" font-size="12.0">5</text>
<line x1="670.30" y1="747.90" x2="670.30" y2="743.90" stroke="#6a6a6a" stroke-width="0.90"/>
<text x="670.3" y="763.0" text-anchor="middle" font-size="12.0">10</text>
<line x1="404.60" y1="747.90" x2="408.60" y2="747.90" stroke="#6a6a6a" stroke-width="0.90"/>
<text x="399.1" y="752.0" text-anchor="end" font-size="12.0">0</text>
<line x1="404.60" y1="699.10" x2="408.60" y2="699.10" stroke="#6a6a6a" stroke-width="0.90"/>
<text x="399.1" y="703.2" text-anchor="end" font-size="12.0">1</text>
<line x1="404.60" y1="650.20" x2="408.60" y2="650.20" stroke="#6a6a6a" stroke-width="0.90"/>
<text x="399.1" y="654.3" text-anchor="end" font-size="12.0">2</text>
<line x1="404.60" y1="601.40" x2="408.60" y2="601.40" stroke="#6a6a6a" stroke-width="0.90"/>
<text x="399.1" y="605.5" text-anchor="end" font-size="12.0">3</text>
<path d="M404.7,579.5V636.1M407.4,586.7V635.3M410.0,592.8V646.6M412.7,578.2V634.7M415.3,590.0V647.5M418.0,598.9V645.1M420.7,594.8V653.8M423.3,599.6V652.5M426.0,607.0V659.9M428.6,608.5V663.5M431.3,612.3V662.8M434.0,609.6V669.8M436.6,615.2V664.6M439.3,612.4V667.1M441.9,625.1V673.8M444.6,626.6V682.5M447.3,626.5V686.9M449.9,627.5V687.6M452.6,642.3V690.5M455.2,635.9V691.9M457.9,638.8V699.1M460.6,648.6V697.8M463.2,651.2V703.9M465.9,653.0V710.4M468.5,654.6V712.4M471.2,659.8V713.0M473.9,662.4V718.6M476.5,666.1V726.7M479.2,668.0V735.3M481.8,673.9V739.2M484.5,678.6V741.6M487.2,680.4V736.1M489.8,682.2V732.6M492.5,670.2V747.9M495.1,688.9V746.9M497.8,682.5V747.9M500.5,678.7V747.9M503.1,679.2V747.9M505.8,683.9V747.9M508.4,687.1V747.9M511.1,680.5V747.9M513.8,694.8V747.9M516.4,668.2V746.0M519.1,705.0V747.9M574.4,731.8V747.9M577.1,727.9V747.9M579.7,719.7V747.9M582.4,725.1V747.9M585.0,720.7V747.9M587.7,729.7V747.9M590.4,724.3V747.9M593.0,719.5V747.9M595.7,722.6V747.9M598.3,722.6V747.9M601.0,723.6V747.9M603.7,722.7V746.9M606.3,707.2V740.3M609.0,689.1V726.0M611.6,687.6V716.5M614.3,685.5V713.0M617.0,680.2V713.7M619.6,678.2V711.8M622.3,670.8V707.4M624.9,666.5V703.7M627.6,657.0V702.6M630.3,657.9V693.0M632.9,643.3V691.0M635.6,648.4V684.7M638.2,638.1V688.0M640.9,637.8V680.3M643.6,632.5V681.6M646.2,633.0V673.1M648.9,626.0V673.4M651.5,624.1V675.9M654.2,625.5V677.7M656.9,618.8V674.6M659.5,611.0V658.8M662.2,608.7V661.1M664.8,594.7V651.2M667.5,596.3V645.6M670.2,584.1V645.9M558.3,724.0V747.9" stroke="#7db345" stroke-width="1.10" fill="none" stroke-opacity="0.90"/>
<g fill="#6aa82e"><circle cx="404.7" cy="607.8" r="3.3"/><circle cx="407.5" cy="611.2" r="3.3"/><circle cx="409.8" cy="620.9" r="3.3"/><circle cx="412.6" cy="606.1" r="3.3"/><circle cx="415.4" cy="619.0" r="3.3"/><circle cx="419.5" cy="623.7" r="3.3"/><circle cx="423.2" cy="625.7" r="3.3"/><circle cx="426.5" cy="634.9" r="3.3"/><circle cx="430.7" cy="637.1" r="3.3"/><circle cx="434.9" cy="640.5" r="3.3"/><circle cx="439.1" cy="639.1" r="3.3"/><circle cx="441.9" cy="649.4" r="3.3"/><circle cx="446.0" cy="657.2" r="3.3"/><circle cx="449.4" cy="655.8" r="3.3"/><circle cx="453.0" cy="667.8" r="3.3"/><circle cx="454.4" cy="662.2" r="3.3"/><circle cx="457.2" cy="667.8" r="3.3"/><circle cx="461.4" cy="674.5" r="3.3"/><circle cx="465.6" cy="681.5" r="3.3"/><circle cx="469.8" cy="684.3" r="3.3"/><circle cx="474.0" cy="690.7" r="3.3"/><circle cx="477.3" cy="698.2" r="3.3"/><circle cx="482.3" cy="707.4" r="3.3"/><circle cx="485.1" cy="710.8" r="3.3"/><circle cx="488.5" cy="706.6" r="3.3"/><circle cx="492.1" cy="708.8" r="3.3"/><circle cx="494.9" cy="718.0" r="3.3"/><circle cx="499.1" cy="715.8" r="3.3"/><circle cx="502.4" cy="716.4" r="3.3"/><circle cx="505.3" cy="720.3" r="3.3"/><circle cx="506.0" cy="721.4" r="3.3"/><circle cx="508.8" cy="726.4" r="3.3"/><circle cx="510.8" cy="713.6" r="3.3"/><circle cx="513.6" cy="723.6" r="3.3"/><circle cx="516.4" cy="706.9" r="3.3"/><circle cx="518.9" cy="730.3" r="3.3"/><circle cx="558.3" cy="745.2" r="3.3"/><circle cx="574.4" cy="747.1" r="3.3"/><circle cx="576.7" cy="741.3" r="3.3"/><circle cx="580.1" cy="741.3" r="3.3"/><circle cx="583.6" cy="740.8" r="3.3"/><circle cx="586.7" cy="741.3" r="3.3"/><circle cx="590.6" cy="745.2" r="3.3"/><circle cx="593.3" cy="737.3" r="3.3"/><circle cx="595.9" cy="741.3" r="3.3"/><circle cx="598.5" cy="740.0" r="3.3"/><circle cx="601.2" cy="737.3" r="3.3"/><circle cx="603.8" cy="734.7" r="3.3"/><circle cx="606.4" cy="723.4" r="3.3"/><circle cx="608.2" cy="709.2" r="3.3"/><circle cx="611.7" cy="701.9" r="3.3"/><circle cx="615.6" cy="697.9" r="3.3"/><circle cx="619.5" cy="695.3" r="3.3"/><circle cx="622.7" cy="688.2" r="3.3"/><circle cx="626.1" cy="683.5" r="3.3"/><circle cx="629.3" cy="675.6" r="3.3"/><circle cx="632.7" cy="675.1" r="3.3"/><circle cx="632.7" cy="667.2" r="3.3"/><circle cx="636.1" cy="666.4" r="3.3"/><circle cx="640.6" cy="659.3" r="3.3"/><circle cx="644.0" cy="656.7" r="3.3"/><circle cx="647.7" cy="650.6" r="3.3"/><circle cx="651.1" cy="648.0" r="3.3"/><circle cx="653.7" cy="659.8" r="3.3"/><circle cx="654.5" cy="646.7" r="3.3"/><circle cx="657.1" cy="646.7" r="3.3"/><circle cx="659.0" cy="634.9" r="3.3"/><circle cx="662.4" cy="634.9" r="3.3"/><circle cx="664.2" cy="623.1" r="3.3"/><circle cx="666.8" cy="622.5" r="3.3"/><circle cx="670.3" cy="614.7" r="3.3"/><circle cx="518.9" cy="742.6" r="3.3"/><circle cx="521.6" cy="742.6" r="3.3"/><circle cx="524.2" cy="742.6" r="3.3"/><circle cx="526.9" cy="742.6" r="3.3"/><circle cx="529.5" cy="742.6" r="3.3"/><circle cx="532.2" cy="742.6" r="3.3"/><circle cx="534.9" cy="742.6" r="3.3"/><circle cx="537.5" cy="742.6" r="3.3"/><circle cx="540.2" cy="742.6" r="3.3"/><circle cx="542.8" cy="742.6" r="3.3"/><circle cx="545.5" cy="742.6" r="3.3"/><circle cx="548.2" cy="742.6" r="3.3"/><circle cx="550.8" cy="742.6" r="3.3"/><circle cx="553.5" cy="742.6" r="3.3"/></g>
<text x="512.0" y="782.8" font-size="12.0"><tspan font-style="italic">V</tspan><tspan font-size="8.5" dy="4">d.c.</tspan><tspan dy="-4"> (mV)</tspan></text>
<text transform="translate(380.0,656.0) rotate(-90)" text-anchor="middle" font-size="12.0">&lt;<tspan font-style="italic">s</tspan>&gt;</text>
<text x="368.8" y="562.8" font-size="16" font-weight="bold" font-family="Liberation Serif, serif">g</text>
<text x="442.8" y="601.0" font-size="12.0">High</text>
<text x="624.3" y="601.0" font-size="12.0">High</text>
<text transform="translate(501.6,629.0) rotate(-90)" text-anchor="middle" font-size="12.0">Medium</text>
<text transform="translate(578.0,629.0) rotate(-90)" text-anchor="middle" font-size="12.0">Medium</text>
<text transform="translate(535.2,675.0) rotate(-90)" text-anchor="middle" font-size="12.0">No</text>
<text transform="translate(547.8,675.0) rotate(-90)" text-anchor="middle" font-size="12.0">magnons</text></svg>
</body></html>
